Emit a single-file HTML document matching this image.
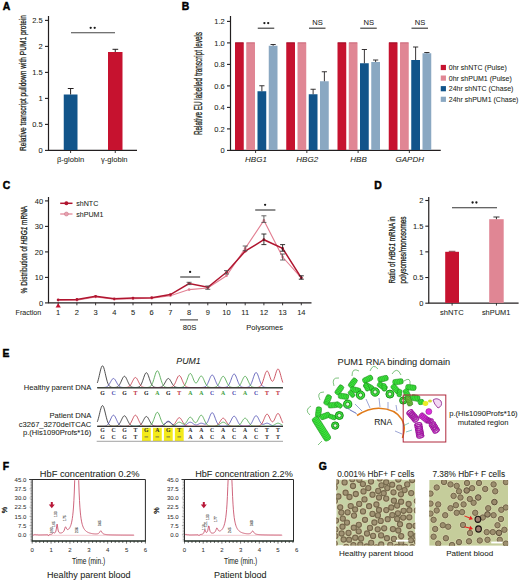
<!DOCTYPE html>
<html><head><meta charset="utf-8"><style>
html,body{margin:0;padding:0;background:#fff;}
</style></head><body>
<svg width="520" height="580" viewBox="0 0 520 580" style="display:block;font-family:'Liberation Sans', sans-serif">
<rect width="520" height="580" fill="#fff"/>
<text x="2.7" y="9.7" font-size="10.4" font-weight="bold" fill="#000" stroke="#000" stroke-width="0.45">A</text>
<line x1="48.50" y1="16.00" x2="48.50" y2="150.60" stroke="#231f20" stroke-width="1.2" />
<line x1="48.00" y1="150.30" x2="137.00" y2="150.30" stroke="#231f20" stroke-width="1.2" />
<line x1="45.00" y1="150.40" x2="48.50" y2="150.40" stroke="#231f20" stroke-width="1.1" />
<text x="42.60" y="153.00" font-size="7.5" text-anchor="end" fill="#231f20" stroke="#231f20" stroke-width="0.06" >0</text>
<line x1="45.00" y1="124.40" x2="48.50" y2="124.40" stroke="#231f20" stroke-width="1.1" />
<text x="42.60" y="127.00" font-size="7.5" text-anchor="end" fill="#231f20" stroke="#231f20" stroke-width="0.06" >0.5</text>
<line x1="45.00" y1="98.40" x2="48.50" y2="98.40" stroke="#231f20" stroke-width="1.1" />
<text x="42.60" y="101.00" font-size="7.5" text-anchor="end" fill="#231f20" stroke="#231f20" stroke-width="0.06" >1</text>
<line x1="45.00" y1="72.40" x2="48.50" y2="72.40" stroke="#231f20" stroke-width="1.1" />
<text x="42.60" y="75.00" font-size="7.5" text-anchor="end" fill="#231f20" stroke="#231f20" stroke-width="0.06" >1.5</text>
<line x1="45.00" y1="46.40" x2="48.50" y2="46.40" stroke="#231f20" stroke-width="1.1" />
<text x="42.60" y="49.00" font-size="7.5" text-anchor="end" fill="#231f20" stroke="#231f20" stroke-width="0.06" >2</text>
<line x1="45.00" y1="20.40" x2="48.50" y2="20.40" stroke="#231f20" stroke-width="1.1" />
<text x="42.60" y="23.00" font-size="7.5" text-anchor="end" fill="#231f20" stroke="#231f20" stroke-width="0.06" >2.5</text>
<rect x="63.75" y="94.50" width="13.75" height="55.50" fill="#11548a" />
<rect x="108.00" y="52.00" width="14.50" height="98.00" fill="#c6122f" />
<line x1="70.60" y1="94.50" x2="70.60" y2="88.50" stroke="#231f20" stroke-width="1" />
<line x1="67.80" y1="88.50" x2="73.60" y2="88.50" stroke="#231f20" stroke-width="1" />
<line x1="115.25" y1="52.00" x2="115.25" y2="49.30" stroke="#231f20" stroke-width="1" />
<line x1="112.50" y1="49.30" x2="118.20" y2="49.30" stroke="#231f20" stroke-width="1" />
<line x1="70.60" y1="150.50" x2="70.60" y2="153.00" stroke="#231f20" stroke-width="0.9" />
<line x1="115.25" y1="150.50" x2="115.25" y2="153.00" stroke="#231f20" stroke-width="0.9" />
<text x="70.55" y="161.60" font-size="7.6" text-anchor="middle" fill="#231f20" stroke="#231f20" stroke-width="0.06" >&#946;-globin</text>
<text x="114.25" y="161.60" font-size="7.6" text-anchor="middle" fill="#231f20" stroke="#231f20" stroke-width="0.06" >&#947;-globin</text>
<line x1="71.00" y1="32.75" x2="115.00" y2="32.75" stroke="#444" stroke-width="1.1" />
<circle cx="90.7" cy="27.8" r="1.15" fill="#1a1a1a"/>
<circle cx="94.7" cy="27.8" r="1.15" fill="#1a1a1a"/>
<text transform="translate(25.62,83.00) rotate(-90)" x="0" y="0" font-size="9.5" text-anchor="middle" fill="#231f20" stroke="#231f20" stroke-width="0.3" textLength="136" lengthAdjust="spacingAndGlyphs">Relative transcript pulldown with PUM1 protein</text>
<text x="181.7" y="9.6" font-size="10.4" font-weight="bold" fill="#000" stroke="#000" stroke-width="0.45">B</text>
<line x1="230.50" y1="16.00" x2="230.50" y2="150.60" stroke="#231f20" stroke-width="1.2" />
<line x1="230.00" y1="150.30" x2="440.75" y2="150.30" stroke="#231f20" stroke-width="1.2" />
<line x1="227.00" y1="150.40" x2="230.50" y2="150.40" stroke="#231f20" stroke-width="1.1" />
<text x="224.70" y="153.00" font-size="7.5" text-anchor="end" fill="#231f20" stroke="#231f20" stroke-width="0.06" >0</text>
<line x1="227.00" y1="128.90" x2="230.50" y2="128.90" stroke="#231f20" stroke-width="1.1" />
<text x="224.70" y="131.50" font-size="7.5" text-anchor="end" fill="#231f20" stroke="#231f20" stroke-width="0.06" >0.2</text>
<line x1="227.00" y1="107.40" x2="230.50" y2="107.40" stroke="#231f20" stroke-width="1.1" />
<text x="224.70" y="110.00" font-size="7.5" text-anchor="end" fill="#231f20" stroke="#231f20" stroke-width="0.06" >0.4</text>
<line x1="227.00" y1="85.90" x2="230.50" y2="85.90" stroke="#231f20" stroke-width="1.1" />
<text x="224.70" y="88.50" font-size="7.5" text-anchor="end" fill="#231f20" stroke="#231f20" stroke-width="0.06" >0.6</text>
<line x1="227.00" y1="64.40" x2="230.50" y2="64.40" stroke="#231f20" stroke-width="1.1" />
<text x="224.70" y="67.00" font-size="7.5" text-anchor="end" fill="#231f20" stroke="#231f20" stroke-width="0.06" >0.8</text>
<line x1="227.00" y1="42.90" x2="230.50" y2="42.90" stroke="#231f20" stroke-width="1.1" />
<text x="224.70" y="45.50" font-size="7.5" text-anchor="end" fill="#231f20" stroke="#231f20" stroke-width="0.06" >1.0</text>
<line x1="227.00" y1="21.40" x2="230.50" y2="21.40" stroke="#231f20" stroke-width="1.1" />
<text x="224.70" y="24.00" font-size="7.5" text-anchor="end" fill="#231f20" stroke="#231f20" stroke-width="0.06" >1.2</text>
<rect x="235.00" y="42.50" width="8.75" height="107.50" fill="#c6122f" />
<line x1="235.30" y1="42.90" x2="243.45" y2="42.90" stroke="#9a0e28" stroke-width="0.9" />
<rect x="246.25" y="42.50" width="8.75" height="107.50" fill="#e08694" />
<line x1="246.55" y1="42.90" x2="254.70" y2="42.90" stroke="#c86a7a" stroke-width="0.9" />
<rect x="257.50" y="91.25" width="8.75" height="58.75" fill="#11548a" />
<line x1="261.88" y1="91.25" x2="261.88" y2="85.75" stroke="#231f20" stroke-width="0.9" />
<line x1="259.27" y1="85.75" x2="264.48" y2="85.75" stroke="#231f20" stroke-width="0.9" />
<rect x="268.75" y="45.75" width="8.75" height="104.25" fill="#8aa8c2" />
<line x1="273.12" y1="45.75" x2="273.12" y2="44.50" stroke="#231f20" stroke-width="0.9" />
<line x1="270.52" y1="44.50" x2="275.73" y2="44.50" stroke="#231f20" stroke-width="0.9" />
<line x1="255.60" y1="150.50" x2="255.60" y2="153.00" stroke="#231f20" stroke-width="0.9" />
<text x="256.00" y="161.80" font-size="8.0" text-anchor="middle" fill="#231f20" stroke="#231f20" stroke-width="0.06" font-style="italic" >HBG1</text>
<line x1="257.75" y1="28.20" x2="274.25" y2="28.20" stroke="#333" stroke-width="1.1" />
<circle cx="264.4" cy="23.1" r="1.15" fill="#1a1a1a"/>
<circle cx="268.2" cy="23.1" r="1.15" fill="#1a1a1a"/>
<rect x="286.25" y="42.50" width="8.75" height="107.50" fill="#c6122f" />
<line x1="286.55" y1="42.90" x2="294.70" y2="42.90" stroke="#9a0e28" stroke-width="0.9" />
<rect x="297.50" y="42.50" width="8.75" height="107.50" fill="#e08694" />
<line x1="297.80" y1="42.90" x2="305.95" y2="42.90" stroke="#c86a7a" stroke-width="0.9" />
<rect x="308.75" y="94.25" width="8.75" height="55.75" fill="#11548a" />
<line x1="313.12" y1="94.25" x2="313.12" y2="89.25" stroke="#231f20" stroke-width="0.9" />
<line x1="310.52" y1="89.25" x2="315.73" y2="89.25" stroke="#231f20" stroke-width="0.9" />
<rect x="320.00" y="81.25" width="8.75" height="68.75" fill="#8aa8c2" />
<line x1="324.38" y1="81.25" x2="324.38" y2="71.75" stroke="#231f20" stroke-width="0.9" />
<line x1="321.77" y1="71.75" x2="326.98" y2="71.75" stroke="#231f20" stroke-width="0.9" />
<line x1="306.85" y1="150.50" x2="306.85" y2="153.00" stroke="#231f20" stroke-width="0.9" />
<text x="307.25" y="161.80" font-size="8.0" text-anchor="middle" fill="#231f20" stroke="#231f20" stroke-width="0.06" font-style="italic" >HBG2</text>
<line x1="309.00" y1="28.20" x2="325.50" y2="28.20" stroke="#333" stroke-width="1.1" />
<text x="317.45" y="24.90" font-size="8.0" text-anchor="middle" fill="#222" stroke="#222" stroke-width="0.06" textLength="10.5" lengthAdjust="spacingAndGlyphs" >NS</text>
<rect x="337.50" y="42.50" width="8.75" height="107.50" fill="#c6122f" />
<line x1="337.80" y1="42.90" x2="345.95" y2="42.90" stroke="#9a0e28" stroke-width="0.9" />
<rect x="348.75" y="42.50" width="8.75" height="107.50" fill="#e08694" />
<line x1="349.05" y1="42.90" x2="357.20" y2="42.90" stroke="#c86a7a" stroke-width="0.9" />
<rect x="360.00" y="63.25" width="8.75" height="86.75" fill="#11548a" />
<line x1="364.38" y1="63.25" x2="364.38" y2="49.50" stroke="#231f20" stroke-width="0.9" />
<line x1="361.77" y1="49.50" x2="366.98" y2="49.50" stroke="#231f20" stroke-width="0.9" />
<rect x="371.25" y="62.00" width="8.75" height="88.00" fill="#8aa8c2" />
<line x1="375.62" y1="62.00" x2="375.62" y2="60.00" stroke="#231f20" stroke-width="0.9" />
<line x1="373.02" y1="60.00" x2="378.23" y2="60.00" stroke="#231f20" stroke-width="0.9" />
<line x1="358.10" y1="150.50" x2="358.10" y2="153.00" stroke="#231f20" stroke-width="0.9" />
<text x="358.50" y="161.80" font-size="8.0" text-anchor="middle" fill="#231f20" stroke="#231f20" stroke-width="0.06" font-style="italic" >HBB</text>
<line x1="360.25" y1="28.20" x2="376.75" y2="28.20" stroke="#333" stroke-width="1.1" />
<text x="368.70" y="24.90" font-size="8.0" text-anchor="middle" fill="#222" stroke="#222" stroke-width="0.06" textLength="10.5" lengthAdjust="spacingAndGlyphs" >NS</text>
<rect x="388.75" y="42.50" width="8.75" height="107.50" fill="#c6122f" />
<line x1="389.05" y1="42.90" x2="397.20" y2="42.90" stroke="#9a0e28" stroke-width="0.9" />
<rect x="400.00" y="42.50" width="8.75" height="107.50" fill="#e08694" />
<line x1="400.30" y1="42.90" x2="408.45" y2="42.90" stroke="#c86a7a" stroke-width="0.9" />
<rect x="411.25" y="60.00" width="8.75" height="90.00" fill="#11548a" />
<line x1="415.62" y1="60.00" x2="415.62" y2="47.00" stroke="#231f20" stroke-width="0.9" />
<line x1="413.02" y1="47.00" x2="418.23" y2="47.00" stroke="#231f20" stroke-width="0.9" />
<rect x="422.50" y="53.25" width="8.75" height="96.75" fill="#8aa8c2" />
<line x1="426.88" y1="53.25" x2="426.88" y2="52.50" stroke="#231f20" stroke-width="0.9" />
<line x1="424.27" y1="52.50" x2="429.48" y2="52.50" stroke="#231f20" stroke-width="0.9" />
<line x1="409.35" y1="150.50" x2="409.35" y2="153.00" stroke="#231f20" stroke-width="0.9" />
<text x="409.75" y="161.80" font-size="8.0" text-anchor="middle" fill="#231f20" stroke="#231f20" stroke-width="0.06" font-style="italic" >GAPDH</text>
<line x1="411.50" y1="28.20" x2="428.00" y2="28.20" stroke="#333" stroke-width="1.1" />
<text x="419.95" y="24.90" font-size="8.0" text-anchor="middle" fill="#222" stroke="#222" stroke-width="0.06" textLength="10.5" lengthAdjust="spacingAndGlyphs" >NS</text>
<text transform="translate(202.00,83.50) rotate(-90)" x="0" y="0" font-size="10" text-anchor="middle" fill="#231f20" stroke="#231f20" stroke-width="0.3" textLength="103" lengthAdjust="spacingAndGlyphs">Relative EU labelled transcript levels</text>
<rect x="440.75" y="64.90" width="5.20" height="5.20" fill="#c6122f" />
<text x="448.80" y="70.00" font-size="7" text-anchor="start" fill="#231f20" stroke="#231f20" stroke-width="0.06" >0hr shNTC (Pulse)</text>
<rect x="440.75" y="75.50" width="5.20" height="5.20" fill="#e08694" />
<text x="448.80" y="80.60" font-size="7" text-anchor="start" fill="#231f20" stroke="#231f20" stroke-width="0.06" >0hr shPUM1 (Pulse)</text>
<rect x="440.75" y="86.10" width="5.20" height="5.20" fill="#11548a" />
<text x="448.80" y="91.20" font-size="7" text-anchor="start" fill="#231f20" stroke="#231f20" stroke-width="0.06" >24hr shNTC (Chase)</text>
<rect x="440.75" y="96.70" width="5.20" height="5.20" fill="#8aa8c2" />
<text x="448.80" y="101.80" font-size="7" text-anchor="start" fill="#231f20" stroke="#231f20" stroke-width="0.06" >24hr shPUM1 (Chase)</text>
<text x="2.7" y="189.0" font-size="10.4" font-weight="bold" fill="#000" stroke="#000" stroke-width="0.45">C</text>
<line x1="48.50" y1="197.00" x2="48.50" y2="303.00" stroke="#231f20" stroke-width="1.2" />
<line x1="48.00" y1="302.80" x2="311.50" y2="302.80" stroke="#231f20" stroke-width="1.2" />
<line x1="45.00" y1="302.90" x2="48.50" y2="302.90" stroke="#231f20" stroke-width="1.1" />
<text x="43.20" y="305.60" font-size="7.5" text-anchor="end" fill="#231f20" stroke="#231f20" stroke-width="0.06" >0</text>
<line x1="45.00" y1="277.40" x2="48.50" y2="277.40" stroke="#231f20" stroke-width="1.1" />
<text x="43.20" y="280.10" font-size="7.5" text-anchor="end" fill="#231f20" stroke="#231f20" stroke-width="0.06" >10</text>
<line x1="45.00" y1="251.90" x2="48.50" y2="251.90" stroke="#231f20" stroke-width="1.1" />
<text x="43.20" y="254.60" font-size="7.5" text-anchor="end" fill="#231f20" stroke="#231f20" stroke-width="0.06" >20</text>
<line x1="45.00" y1="226.40" x2="48.50" y2="226.40" stroke="#231f20" stroke-width="1.1" />
<text x="43.20" y="229.10" font-size="7.5" text-anchor="end" fill="#231f20" stroke="#231f20" stroke-width="0.06" >30</text>
<line x1="45.00" y1="200.90" x2="48.50" y2="200.90" stroke="#231f20" stroke-width="1.1" />
<text x="43.20" y="203.60" font-size="7.5" text-anchor="end" fill="#231f20" stroke="#231f20" stroke-width="0.06" >40</text>
<line x1="58.20" y1="302.80" x2="58.20" y2="305.30" stroke="#231f20" stroke-width="0.9" />
<text x="58.20" y="314.80" font-size="7.5" text-anchor="middle" fill="#231f20" stroke="#231f20" stroke-width="0.06" >1</text>
<line x1="76.90" y1="302.80" x2="76.90" y2="305.30" stroke="#231f20" stroke-width="0.9" />
<text x="76.90" y="314.80" font-size="7.5" text-anchor="middle" fill="#231f20" stroke="#231f20" stroke-width="0.06" >2</text>
<line x1="95.60" y1="302.80" x2="95.60" y2="305.30" stroke="#231f20" stroke-width="0.9" />
<text x="95.60" y="314.80" font-size="7.5" text-anchor="middle" fill="#231f20" stroke="#231f20" stroke-width="0.06" >3</text>
<line x1="114.30" y1="302.80" x2="114.30" y2="305.30" stroke="#231f20" stroke-width="0.9" />
<text x="114.30" y="314.80" font-size="7.5" text-anchor="middle" fill="#231f20" stroke="#231f20" stroke-width="0.06" >4</text>
<line x1="133.00" y1="302.80" x2="133.00" y2="305.30" stroke="#231f20" stroke-width="0.9" />
<text x="133.00" y="314.80" font-size="7.5" text-anchor="middle" fill="#231f20" stroke="#231f20" stroke-width="0.06" >5</text>
<line x1="151.70" y1="302.80" x2="151.70" y2="305.30" stroke="#231f20" stroke-width="0.9" />
<text x="151.70" y="314.80" font-size="7.5" text-anchor="middle" fill="#231f20" stroke="#231f20" stroke-width="0.06" >6</text>
<line x1="170.40" y1="302.80" x2="170.40" y2="305.30" stroke="#231f20" stroke-width="0.9" />
<text x="170.40" y="314.80" font-size="7.5" text-anchor="middle" fill="#231f20" stroke="#231f20" stroke-width="0.06" >7</text>
<line x1="189.10" y1="302.80" x2="189.10" y2="305.30" stroke="#231f20" stroke-width="0.9" />
<text x="189.10" y="314.80" font-size="7.5" text-anchor="middle" fill="#231f20" stroke="#231f20" stroke-width="0.06" >8</text>
<line x1="207.80" y1="302.80" x2="207.80" y2="305.30" stroke="#231f20" stroke-width="0.9" />
<text x="207.80" y="314.80" font-size="7.5" text-anchor="middle" fill="#231f20" stroke="#231f20" stroke-width="0.06" >9</text>
<line x1="226.50" y1="302.80" x2="226.50" y2="305.30" stroke="#231f20" stroke-width="0.9" />
<text x="226.50" y="314.80" font-size="7.5" text-anchor="middle" fill="#231f20" stroke="#231f20" stroke-width="0.06" >10</text>
<line x1="245.20" y1="302.80" x2="245.20" y2="305.30" stroke="#231f20" stroke-width="0.9" />
<text x="245.20" y="314.80" font-size="7.5" text-anchor="middle" fill="#231f20" stroke="#231f20" stroke-width="0.06" >11</text>
<line x1="263.90" y1="302.80" x2="263.90" y2="305.30" stroke="#231f20" stroke-width="0.9" />
<text x="263.90" y="314.80" font-size="7.5" text-anchor="middle" fill="#231f20" stroke="#231f20" stroke-width="0.06" >12</text>
<line x1="282.60" y1="302.80" x2="282.60" y2="305.30" stroke="#231f20" stroke-width="0.9" />
<text x="282.60" y="314.80" font-size="7.5" text-anchor="middle" fill="#231f20" stroke="#231f20" stroke-width="0.06" >13</text>
<line x1="301.30" y1="302.80" x2="301.30" y2="305.30" stroke="#231f20" stroke-width="0.9" />
<text x="301.30" y="314.80" font-size="7.5" text-anchor="middle" fill="#231f20" stroke="#231f20" stroke-width="0.06" >14</text>
<text x="15.60" y="314.80" font-size="7.1" text-anchor="start" fill="#231f20" stroke="#231f20" stroke-width="0.06" >Fraction</text>
<polyline points="58.20,300.20 76.90,300.30 95.60,296.90 114.30,299.20 133.00,298.70 151.70,298.20 170.40,295.80 189.10,289.60 207.80,288.00 226.50,275.80 245.20,248.40 263.90,220.40 282.60,257.00 301.30,277.80" fill="none" stroke="#e27f92" stroke-width="1.1"/>
<polyline points="58.20,299.80 76.90,299.50 95.60,296.30 114.30,298.80 133.00,298.10 151.70,297.70 170.40,294.60 189.10,283.50 207.80,287.30 226.50,272.30 245.20,251.20 263.90,239.70 282.60,248.40 301.30,277.80" fill="none" stroke="#b0152f" stroke-width="1.5"/>
<circle cx="58.20" cy="300.20" r="1.3" fill="#e27f92"/>
<circle cx="76.90" cy="300.30" r="1.3" fill="#e27f92"/>
<circle cx="95.60" cy="296.90" r="1.3" fill="#e27f92"/>
<circle cx="114.30" cy="299.20" r="1.3" fill="#e27f92"/>
<circle cx="133.00" cy="298.70" r="1.3" fill="#e27f92"/>
<circle cx="151.70" cy="298.20" r="1.3" fill="#e27f92"/>
<circle cx="170.40" cy="295.80" r="1.3" fill="#e27f92"/>
<circle cx="189.10" cy="289.60" r="1.3" fill="#e27f92"/>
<circle cx="207.80" cy="288.00" r="1.3" fill="#e27f92"/>
<circle cx="226.50" cy="275.80" r="1.3" fill="#e27f92"/>
<circle cx="245.20" cy="248.40" r="1.3" fill="#e27f92"/>
<circle cx="263.90" cy="220.40" r="1.3" fill="#e27f92"/>
<circle cx="282.60" cy="257.00" r="1.3" fill="#e27f92"/>
<circle cx="301.30" cy="277.80" r="1.3" fill="#e27f92"/>
<circle cx="58.20" cy="299.80" r="1.4" fill="#b0152f"/>
<circle cx="76.90" cy="299.50" r="1.4" fill="#b0152f"/>
<circle cx="95.60" cy="296.30" r="1.4" fill="#b0152f"/>
<circle cx="114.30" cy="298.80" r="1.4" fill="#b0152f"/>
<circle cx="133.00" cy="298.10" r="1.4" fill="#b0152f"/>
<circle cx="151.70" cy="297.70" r="1.4" fill="#b0152f"/>
<circle cx="170.40" cy="294.60" r="1.4" fill="#b0152f"/>
<circle cx="189.10" cy="283.50" r="1.4" fill="#b0152f"/>
<circle cx="207.80" cy="287.30" r="1.4" fill="#b0152f"/>
<circle cx="226.50" cy="272.30" r="1.4" fill="#b0152f"/>
<circle cx="245.20" cy="251.20" r="1.4" fill="#b0152f"/>
<circle cx="263.90" cy="239.70" r="1.4" fill="#b0152f"/>
<circle cx="282.60" cy="248.40" r="1.4" fill="#b0152f"/>
<circle cx="301.30" cy="277.80" r="1.4" fill="#b0152f"/>
<line x1="263.90" y1="234.00" x2="263.90" y2="244.60" stroke="#231f20" stroke-width="0.9" />
<line x1="261.40" y1="234.00" x2="266.40" y2="234.00" stroke="#231f20" stroke-width="0.9" />
<line x1="261.40" y1="244.60" x2="266.40" y2="244.60" stroke="#231f20" stroke-width="0.9" />
<line x1="263.90" y1="215.80" x2="263.90" y2="222.40" stroke="#555" stroke-width="0.9" />
<line x1="261.40" y1="215.80" x2="266.40" y2="215.80" stroke="#555" stroke-width="0.9" />
<line x1="261.40" y1="222.40" x2="266.40" y2="222.40" stroke="#555" stroke-width="0.9" />
<line x1="282.60" y1="244.60" x2="282.60" y2="251.20" stroke="#231f20" stroke-width="0.9" />
<line x1="280.10" y1="244.60" x2="285.10" y2="244.60" stroke="#231f20" stroke-width="0.9" />
<line x1="280.10" y1="251.20" x2="285.10" y2="251.20" stroke="#231f20" stroke-width="0.9" />
<line x1="282.60" y1="254.00" x2="282.60" y2="260.00" stroke="#555" stroke-width="0.9" />
<line x1="280.10" y1="254.00" x2="285.10" y2="254.00" stroke="#555" stroke-width="0.9" />
<line x1="280.10" y1="260.00" x2="285.10" y2="260.00" stroke="#555" stroke-width="0.9" />
<line x1="245.20" y1="246.00" x2="245.20" y2="250.70" stroke="#555" stroke-width="0.9" />
<line x1="242.70" y1="246.00" x2="247.70" y2="246.00" stroke="#555" stroke-width="0.9" />
<line x1="242.70" y1="250.70" x2="247.70" y2="250.70" stroke="#555" stroke-width="0.9" />
<line x1="301.30" y1="275.80" x2="301.30" y2="279.20" stroke="#231f20" stroke-width="0.9" />
<line x1="298.80" y1="275.80" x2="303.80" y2="275.80" stroke="#231f20" stroke-width="0.9" />
<line x1="298.80" y1="279.20" x2="303.80" y2="279.20" stroke="#231f20" stroke-width="0.9" />
<line x1="189.10" y1="282.30" x2="189.10" y2="284.60" stroke="#555" stroke-width="0.9" />
<line x1="186.60" y1="282.30" x2="191.60" y2="282.30" stroke="#555" stroke-width="0.9" />
<line x1="186.60" y1="284.60" x2="191.60" y2="284.60" stroke="#555" stroke-width="0.9" />
<line x1="207.80" y1="286.00" x2="207.80" y2="289.30" stroke="#555" stroke-width="0.9" />
<line x1="205.30" y1="286.00" x2="210.30" y2="286.00" stroke="#555" stroke-width="0.9" />
<line x1="205.30" y1="289.30" x2="210.30" y2="289.30" stroke="#555" stroke-width="0.9" />
<line x1="226.50" y1="270.60" x2="226.50" y2="274.00" stroke="#555" stroke-width="0.9" />
<line x1="224.00" y1="270.60" x2="229.00" y2="270.60" stroke="#555" stroke-width="0.9" />
<line x1="224.00" y1="274.00" x2="229.00" y2="274.00" stroke="#555" stroke-width="0.9" />
<path d="M55.60,307.6 L60.80,307.6 L58.20,303.2 Z" fill="#c6122f"/>
<line x1="180.20" y1="277.00" x2="200.10" y2="277.00" stroke="#333" stroke-width="1.1" />
<circle cx="190.1" cy="271.9" r="1.15" fill="#1a1a1a"/>
<line x1="255.20" y1="210.00" x2="275.40" y2="210.00" stroke="#333" stroke-width="1.1" />
<circle cx="265.1" cy="204.8" r="1.15" fill="#1a1a1a"/>
<line x1="180.00" y1="319.90" x2="198.00" y2="319.90" stroke="#231f20" stroke-width="0.9" />
<text x="189.60" y="330.10" font-size="7.7" text-anchor="middle" fill="#231f20" stroke="#231f20" stroke-width="0.06" >80S</text>
<text x="264.65" y="330.10" font-size="7.5" text-anchor="middle" fill="#231f20" stroke="#231f20" stroke-width="0.06" >Polysomes</text>
<line x1="60.20" y1="203.30" x2="72.50" y2="203.30" stroke="#b0152f" stroke-width="1.5" />
<circle cx="66.4" cy="203.3" r="2.0" fill="#b0152f"/>
<text x="76.20" y="206.10" font-size="7.1" text-anchor="start" fill="#231f20" stroke="#231f20" stroke-width="0.06" >shNTC</text>
<line x1="60.20" y1="214.00" x2="72.50" y2="214.00" stroke="#e27f92" stroke-width="1.2" />
<circle cx="66.4" cy="214.0" r="2.0" fill="#e8a0b0" stroke="#c07080" stroke-width="0.5"/>
<text x="76.20" y="216.60" font-size="7.1" text-anchor="start" fill="#231f20" stroke="#231f20" stroke-width="0.06" >shPUM1</text>
<text transform="translate(27.0,249.6) rotate(-90)" font-size="9" text-anchor="middle" fill="#231f20" stroke="#231f20" stroke-width="0.3" textLength="87.6" lengthAdjust="spacingAndGlyphs">% Distribution of <tspan font-style="italic">HBG1</tspan> mRNA</text>
<text x="374.3" y="188.8" font-size="10.4" font-weight="bold" fill="#000" stroke="#000" stroke-width="0.45">D</text>
<line x1="428.75" y1="197.00" x2="428.75" y2="303.20" stroke="#231f20" stroke-width="1.2" />
<line x1="428.30" y1="303.10" x2="518.60" y2="303.10" stroke="#231f20" stroke-width="1.2" />
<line x1="425.30" y1="303.20" x2="428.75" y2="303.20" stroke="#231f20" stroke-width="1.1" />
<text x="423.40" y="305.90" font-size="7.5" text-anchor="end" fill="#231f20" stroke="#231f20" stroke-width="0.06" >0</text>
<line x1="425.30" y1="277.52" x2="428.75" y2="277.52" stroke="#231f20" stroke-width="1.1" />
<text x="423.40" y="280.22" font-size="7.5" text-anchor="end" fill="#231f20" stroke="#231f20" stroke-width="0.06" >0.5</text>
<line x1="425.30" y1="251.85" x2="428.75" y2="251.85" stroke="#231f20" stroke-width="1.1" />
<text x="423.40" y="254.55" font-size="7.5" text-anchor="end" fill="#231f20" stroke="#231f20" stroke-width="0.06" >1</text>
<line x1="425.30" y1="226.17" x2="428.75" y2="226.17" stroke="#231f20" stroke-width="1.1" />
<text x="423.40" y="228.87" font-size="7.5" text-anchor="end" fill="#231f20" stroke="#231f20" stroke-width="0.06" >1.5</text>
<line x1="425.30" y1="200.50" x2="428.75" y2="200.50" stroke="#231f20" stroke-width="1.1" />
<text x="423.40" y="203.20" font-size="7.5" text-anchor="end" fill="#231f20" stroke="#231f20" stroke-width="0.06" >2</text>
<rect x="445.20" y="251.80" width="13.80" height="51.10" fill="#c6122f" />
<rect x="489.20" y="219.20" width="14.50" height="83.70" fill="#e08694" />
<line x1="448.80" y1="251.30" x2="455.40" y2="251.30" stroke="#6a0c18" stroke-width="0.8" />
<line x1="496.45" y1="219.20" x2="496.45" y2="217.00" stroke="#231f20" stroke-width="0.9" />
<line x1="493.40" y1="217.00" x2="499.50" y2="217.00" stroke="#231f20" stroke-width="0.9" />
<line x1="452.10" y1="303.20" x2="452.10" y2="305.60" stroke="#231f20" stroke-width="0.9" />
<line x1="496.45" y1="303.20" x2="496.45" y2="305.60" stroke="#231f20" stroke-width="0.9" />
<line x1="452.00" y1="207.70" x2="497.00" y2="207.70" stroke="#333" stroke-width="1.1" />
<circle cx="472.6" cy="202.5" r="1.15" fill="#1a1a1a"/>
<circle cx="476.4" cy="202.5" r="1.15" fill="#1a1a1a"/>
<text x="451.85" y="314.60" font-size="7.6" text-anchor="middle" fill="#231f20" stroke="#231f20" stroke-width="0.06" >shNTC</text>
<text x="496.15" y="314.60" font-size="7.45" text-anchor="middle" fill="#231f20" stroke="#231f20" stroke-width="0.06" >shPUM1</text>
<text transform="translate(394.7,250) rotate(-90)" font-size="8.7" text-anchor="middle" fill="#231f20" stroke="#231f20" stroke-width="0.3" textLength="67" lengthAdjust="spacingAndGlyphs">Ratio of <tspan font-style="italic">HBG1</tspan> mRNA in</text>
<text transform="translate(405.9,250) rotate(-90)" font-size="8.7" text-anchor="middle" fill="#231f20" stroke="#231f20" stroke-width="0.3" textLength="67" lengthAdjust="spacingAndGlyphs">polysomes/monosomes</text>
<text x="2.6" y="357.2" font-size="10.4" font-weight="bold" fill="#000" stroke="#000" stroke-width="0.45">E</text>
<text x="91.30" y="389.80" font-size="7.6" text-anchor="end" fill="#231f20" stroke="#231f20" stroke-width="0.06" >Healthy parent DNA</text>
<text x="91.30" y="418.20" font-size="7.6" text-anchor="end" fill="#231f20" stroke="#231f20" stroke-width="0.06" >Patient DNA</text>
<text x="91.30" y="427.00" font-size="7.6" text-anchor="end" fill="#231f20" stroke="#231f20" stroke-width="0.06" >c3267_3270delTCAC</text>
<text x="91.30" y="435.30" font-size="7.6" text-anchor="end" fill="#231f20" stroke="#231f20" stroke-width="0.06" >p.(His1090Profs*16)</text>
<text x="188.50" y="363.80" font-size="9.6" text-anchor="middle" fill="#231f20" stroke="#231f20" stroke-width="0.06" font-style="italic" textLength="24.4" lengthAdjust="spacingAndGlyphs" >PUM1</text>
<polyline points="97.3,382.91 97.8,381.40 98.3,379.62 98.8,377.62 99.3,375.45 99.8,373.23 100.3,371.07 100.8,369.12 101.3,367.52 101.8,366.40 102.3,365.85 102.8,365.91 103.3,366.58 103.8,367.81 104.3,369.49 104.8,371.49 105.3,373.67 105.8,375.89 106.3,378.03 106.8,380.00 107.3,381.72 107.8,383.18 108.3,384.36 108.8,385.28 109.3,385.98 109.8,386.48 110.3,386.84 110.8,387.09 111.3,387.25 111.8,387.35 112.3,387.41 112.8,387.45 113.3,387.46 113.8,387.47 114.3,387.46 114.8,387.44 115.3,387.41 115.8,387.35 116.3,387.25 116.8,387.11 117.3,386.90 117.8,386.61 118.3,386.22 118.8,385.70 119.3,385.05 119.8,384.25 120.3,383.32 120.8,382.27 121.3,381.14 121.8,380.00 122.3,378.89 122.8,377.90 123.3,377.11 123.8,376.56 124.3,376.31 124.8,376.38 125.3,376.77 125.8,377.43 126.3,378.32 126.8,379.37 127.3,380.50 127.8,381.65 128.3,382.74 128.8,383.74 129.3,384.62 129.8,385.35 130.3,385.94 130.8,386.40 131.3,386.75 131.8,387.00 132.3,387.18 132.8,387.30 133.3,387.38 133.8,387.43 134.3,387.45 134.8,387.47 135.3,387.47 135.8,387.47 136.3,387.45 136.8,387.42 137.3,387.37 137.8,387.28 138.3,387.15 138.8,386.95 139.3,386.67 139.8,386.27 140.3,385.73 140.8,385.03 141.3,384.14 141.8,383.07 142.3,381.81 142.8,380.41 143.3,378.92 143.8,377.40 144.3,375.96 144.8,374.68 145.3,373.66 145.8,372.98 146.3,372.71 146.8,372.85 147.3,373.40 147.8,374.32 148.3,375.52 148.8,376.93 149.3,378.43 149.8,379.94 150.3,381.38 150.8,382.68 151.3,383.82 151.8,384.76 152.3,385.52 152.8,386.11 153.3,386.56 153.8,386.87 154.3,387.10 154.8,387.25 155.3,387.35 155.8,387.41 156.3,387.45 156.8,387.47 157.3,387.48 157.8,387.48 158.3,387.47 158.8,387.45 159.3,387.42 159.8,387.36 160.3,387.28 160.8,387.15 161.3,386.97 161.8,386.72 162.3,386.38 162.8,385.94 163.3,385.38 163.8,384.72 164.3,383.94 164.8,383.08 165.3,382.17 165.8,381.25 166.3,380.38 166.8,379.62 167.3,379.02 167.8,378.64 168.3,378.50 168.8,378.62 169.3,378.98 169.8,379.56 170.3,380.32 170.8,381.18 171.3,382.10 171.8,383.01 172.3,383.88 172.8,384.66 173.3,385.34 173.8,385.90 174.3,386.35 174.8,386.69 175.3,386.95 175.8,387.14 176.3,387.27 176.8,387.36 177.3,387.41 177.8,387.45 178.3,387.47 178.8,387.48 179.3,387.49 179.8,387.50 180.3,387.50 180.8,387.50 181.3,387.50 181.8,387.50 182.3,387.50 182.8,387.50 183.3,387.50 183.8,387.50 184.3,387.50 184.8,387.50 185.3,387.50 185.8,387.50 186.3,387.50 186.8,387.50 187.3,387.50 187.8,387.50 188.3,387.50 188.8,387.50 189.3,387.50 189.8,387.50 190.3,387.50 190.8,387.50 191.3,387.50 191.8,387.50 192.3,387.50 192.8,387.50 193.3,387.50 193.8,387.50 194.3,387.50 194.8,387.50 195.3,387.50 195.8,387.50 196.3,387.50 196.8,387.50 197.3,387.50 197.8,387.50 198.3,387.50 198.8,387.50 199.3,387.50 199.8,387.50 200.3,387.50 200.8,387.50 201.3,387.50 201.8,387.50 202.3,387.50 202.8,387.50 203.3,387.50 203.8,387.50 204.3,387.50 204.8,387.50 205.3,387.50 205.8,387.50 206.3,387.50 206.8,387.50 207.3,387.50 207.8,387.50 208.3,387.50 208.8,387.50 209.3,387.50 209.8,387.50 210.3,387.50 210.8,387.50 211.3,387.50 211.8,387.50 212.3,387.50 212.8,387.50 213.3,387.50 213.8,387.50 214.3,387.50 214.8,387.50 215.3,387.50 215.8,387.50 216.3,387.50 216.8,387.50 217.3,387.50 217.8,387.50 218.3,387.50 218.8,387.50 219.3,387.50 219.8,387.50 220.3,387.50 220.8,387.50 221.3,387.50 221.8,387.50 222.3,387.50 222.8,387.50 223.3,387.50 223.8,387.50 224.3,387.50 224.8,387.50 225.3,387.50 225.8,387.50 226.3,387.50 226.8,387.50 227.3,387.50 227.8,387.50 228.3,387.50 228.8,387.50 229.3,387.50 229.8,387.50 230.3,387.50 230.8,387.50 231.3,387.50 231.8,387.50 232.3,387.50 232.8,387.50 233.3,387.50 233.8,387.50 234.3,387.50 234.8,387.50 235.3,387.50 235.8,387.50 236.3,387.50 236.8,387.50 237.3,387.50 237.8,387.50 238.3,387.50 238.8,387.50 239.3,387.50 239.8,387.50 240.3,387.50 240.8,387.50 241.3,387.50 241.8,387.50 242.3,387.50 242.8,387.50 243.3,387.50 243.8,387.50 244.3,387.50 244.8,387.50 245.3,387.50 245.8,387.50 246.3,387.50 246.8,387.50 247.3,387.50 247.8,387.50 248.3,387.50 248.8,387.50 249.3,387.50 249.8,387.50 250.3,387.50 250.8,387.50 251.3,387.50 251.8,387.50 252.3,387.50 252.8,387.50 253.3,387.50 253.8,387.50 254.3,387.50 254.8,387.50 255.3,387.50 255.8,387.50 256.3,387.50 256.8,387.50 257.3,387.50 257.8,387.50 258.3,387.50 258.8,387.50 259.3,387.50 259.8,387.50 260.3,387.50 260.8,387.50 261.3,387.50 261.8,387.50 262.3,387.50 262.8,387.50 263.3,387.50 263.8,387.50 264.3,387.50 264.8,387.50 265.3,387.50 265.8,387.50 266.3,387.50 266.8,387.50 267.3,387.50 267.8,387.50 268.3,387.50 268.8,387.50 269.3,387.50 269.8,387.50 270.3,387.50 270.8,387.50 271.3,387.50 271.8,387.50 272.3,387.50 272.8,387.50 273.3,387.50 273.8,387.50 274.3,387.50 274.8,387.50 275.3,387.50 275.8,387.50 276.3,387.50 276.8,387.50 277.3,387.50 277.8,387.50 278.3,387.50 278.8,387.50 279.3,387.50 279.8,387.50 280.3,387.50 280.8,387.50 281.3,387.50 281.8,387.50 282.3,387.50 282.8,387.50" fill="none" stroke="#222" stroke-width="0.8"/>
<polyline points="97.3,387.50 97.8,387.50 98.3,387.50 98.8,387.50 99.3,387.50 99.8,387.50 100.3,387.50 100.8,387.50 101.3,387.50 101.8,387.50 102.3,387.49 102.8,387.49 103.3,387.48 103.8,387.46 104.3,387.43 104.8,387.38 105.3,387.31 105.8,387.19 106.3,387.03 106.8,386.80 107.3,386.49 107.8,386.08 108.3,385.56 108.8,384.93 109.3,384.19 109.8,383.35 110.3,382.45 110.8,381.52 111.3,380.63 111.8,379.83 112.3,379.18 112.8,378.73 113.3,378.51 113.8,378.56 114.3,378.85 114.8,379.37 115.3,380.08 115.8,380.91 116.3,381.82 116.8,382.74 117.3,383.63 117.8,384.44 118.3,385.14 118.8,385.74 119.3,386.22 119.8,386.60 120.3,386.88 120.8,387.09 121.3,387.23 121.8,387.33 122.3,387.40 122.8,387.44 123.3,387.47 123.8,387.48 124.3,387.49 124.8,387.49 125.3,387.50 125.8,387.50 126.3,387.50 126.8,387.50 127.3,387.50 127.8,387.50 128.3,387.50 128.8,387.50 129.3,387.50 129.8,387.50 130.3,387.50 130.8,387.50 131.3,387.50 131.8,387.50 132.3,387.50 132.8,387.50 133.3,387.50 133.8,387.50 134.3,387.50 134.8,387.50 135.3,387.50 135.8,387.50 136.3,387.50 136.8,387.50 137.3,387.50 137.8,387.50 138.3,387.50 138.8,387.50 139.3,387.50 139.8,387.50 140.3,387.50 140.8,387.50 141.3,387.50 141.8,387.50 142.3,387.50 142.8,387.50 143.3,387.50 143.8,387.50 144.3,387.50 144.8,387.50 145.3,387.50 145.8,387.50 146.3,387.50 146.8,387.50 147.3,387.50 147.8,387.50 148.3,387.50 148.8,387.50 149.3,387.50 149.8,387.50 150.3,387.50 150.8,387.50 151.3,387.50 151.8,387.50 152.3,387.50 152.8,387.50 153.3,387.50 153.8,387.50 154.3,387.50 154.8,387.50 155.3,387.50 155.8,387.50 156.3,387.50 156.8,387.50 157.3,387.50 157.8,387.50 158.3,387.50 158.8,387.50 159.3,387.50 159.8,387.50 160.3,387.50 160.8,387.50 161.3,387.50 161.8,387.50 162.3,387.50 162.8,387.50 163.3,387.50 163.8,387.50 164.3,387.50 164.8,387.50 165.3,387.50 165.8,387.50 166.3,387.50 166.8,387.50 167.3,387.50 167.8,387.50 168.3,387.50 168.8,387.50 169.3,387.50 169.8,387.50 170.3,387.50 170.8,387.50 171.3,387.50 171.8,387.50 172.3,387.50 172.8,387.50 173.3,387.50 173.8,387.50 174.3,387.50 174.8,387.50 175.3,387.50 175.8,387.50 176.3,387.50 176.8,387.50 177.3,387.50 177.8,387.50 178.3,387.50 178.8,387.50 179.3,387.50 179.8,387.50 180.3,387.50 180.8,387.50 181.3,387.50 181.8,387.50 182.3,387.50 182.8,387.50 183.3,387.50 183.8,387.50 184.3,387.50 184.8,387.50 185.3,387.50 185.8,387.50 186.3,387.50 186.8,387.50 187.3,387.50 187.8,387.50 188.3,387.50 188.8,387.50 189.3,387.50 189.8,387.50 190.3,387.50 190.8,387.50 191.3,387.50 191.8,387.50 192.3,387.50 192.8,387.50 193.3,387.50 193.8,387.50 194.3,387.50 194.8,387.50 195.3,387.50 195.8,387.50 196.3,387.50 196.8,387.50 197.3,387.50 197.8,387.50 198.3,387.50 198.8,387.50 199.3,387.50 199.8,387.50 200.3,387.50 200.8,387.49 201.3,387.49 201.8,387.47 202.3,387.46 202.8,387.42 203.3,387.37 203.8,387.28 204.3,387.15 204.8,386.96 205.3,386.69 205.8,386.31 206.3,385.81 206.8,385.16 207.3,384.35 207.8,383.39 208.3,382.28 208.8,381.07 209.3,379.79 209.8,378.52 210.3,377.34 210.8,376.33 211.3,375.57 211.8,375.11 212.3,375.01 212.8,375.26 213.3,375.84 213.8,376.71 214.3,377.80 214.8,379.02 215.3,380.30 215.8,381.56 216.3,382.74 216.8,383.79 217.3,384.70 217.8,385.44 218.3,386.03 218.8,386.48 219.3,386.81 219.8,387.05 220.3,387.21 220.8,387.32 221.3,387.39 221.8,387.44 222.3,387.46 222.8,387.47 223.3,387.47 223.8,387.47 224.3,387.45 224.8,387.41 225.3,387.35 225.8,387.25 226.3,387.10 226.8,386.89 227.3,386.58 227.8,386.16 228.3,385.60 228.8,384.88 229.3,383.99 229.8,382.93 230.3,381.71 230.8,380.39 231.3,379.01 231.8,377.64 232.3,376.39 232.8,375.32 233.3,374.54 233.8,374.09 234.3,374.02 234.8,374.33 235.3,375.00 235.8,375.98 236.3,377.17 236.8,378.51 237.3,379.89 237.8,381.25 238.3,382.51 238.8,383.62 239.3,384.58 239.8,385.36 240.3,385.97 240.8,386.44 241.3,386.79 241.8,387.04 242.3,387.21 242.8,387.32 243.3,387.39 243.8,387.43 244.3,387.46 244.8,387.47 245.3,387.47 245.8,387.46 246.3,387.44 246.8,387.39 247.3,387.32 247.8,387.21 248.3,387.04 248.8,386.79 249.3,386.43 249.8,385.94 250.3,385.30 250.8,384.48 251.3,383.46 251.8,382.26 252.3,380.90 252.8,379.42 253.3,377.88 253.8,376.37 254.3,375.00 254.8,373.85 255.3,373.02 255.8,372.57 256.3,372.54 256.8,372.94 257.3,373.73 257.8,374.84 258.3,376.20 258.8,377.69 259.3,379.23 259.8,380.73 260.3,382.11 260.8,383.33 261.3,384.37 261.8,385.21 262.3,385.88 262.8,386.38 263.3,386.75 263.8,387.01 264.3,387.19 264.8,387.31 265.3,387.39 265.8,387.43 266.3,387.46 266.8,387.48 267.3,387.49 267.8,387.49 268.3,387.50 268.8,387.50 269.3,387.50 269.8,387.50 270.3,387.50 270.8,387.50 271.3,387.50 271.8,387.50 272.3,387.50 272.8,387.50 273.3,387.50 273.8,387.50 274.3,387.50 274.8,387.50 275.3,387.50 275.8,387.50 276.3,387.50 276.8,387.50 277.3,387.50 277.8,387.50 278.3,387.50 278.8,387.50 279.3,387.50 279.8,387.50 280.3,387.50 280.8,387.50 281.3,387.50 281.8,387.50 282.3,387.50 282.8,387.50" fill="none" stroke="#4a4ab0" stroke-width="0.8"/>
<polyline points="97.3,387.50 97.8,387.50 98.3,387.50 98.8,387.50 99.3,387.50 99.8,387.50 100.3,387.50 100.8,387.50 101.3,387.50 101.8,387.50 102.3,387.50 102.8,387.50 103.3,387.50 103.8,387.50 104.3,387.50 104.8,387.50 105.3,387.50 105.8,387.50 106.3,387.50 106.8,387.50 107.3,387.50 107.8,387.50 108.3,387.50 108.8,387.50 109.3,387.50 109.8,387.50 110.3,387.50 110.8,387.50 111.3,387.50 111.8,387.50 112.3,387.50 112.8,387.50 113.3,387.50 113.8,387.50 114.3,387.50 114.8,387.50 115.3,387.50 115.8,387.50 116.3,387.50 116.8,387.50 117.3,387.50 117.8,387.50 118.3,387.50 118.8,387.50 119.3,387.50 119.8,387.50 120.3,387.50 120.8,387.50 121.3,387.50 121.8,387.50 122.3,387.50 122.8,387.50 123.3,387.50 123.8,387.50 124.3,387.49 124.8,387.48 125.3,387.47 125.8,387.45 126.3,387.42 126.8,387.36 127.3,387.27 127.8,387.14 128.3,386.95 128.8,386.69 129.3,386.33 129.8,385.86 130.3,385.27 130.8,384.55 131.3,383.71 131.8,382.77 132.3,381.76 132.8,380.74 133.3,379.76 133.8,378.88 134.3,378.18 134.8,377.71 135.3,377.51 135.8,377.59 136.3,377.94 136.8,378.55 137.3,379.36 137.8,380.30 138.3,381.31 138.8,382.33 139.3,383.31 139.8,384.20 140.3,384.97 140.8,385.62 141.3,386.14 141.8,386.54 142.3,386.85 142.8,387.07 143.3,387.22 143.8,387.32 144.3,387.39 144.8,387.44 145.3,387.46 145.8,387.48 146.3,387.49 146.8,387.49 147.3,387.50 147.8,387.50 148.3,387.50 148.8,387.50 149.3,387.50 149.8,387.50 150.3,387.50 150.8,387.50 151.3,387.50 151.8,387.50 152.3,387.50 152.8,387.50 153.3,387.50 153.8,387.50 154.3,387.50 154.8,387.50 155.3,387.50 155.8,387.50 156.3,387.50 156.8,387.50 157.3,387.50 157.8,387.50 158.3,387.50 158.8,387.50 159.3,387.50 159.8,387.50 160.3,387.50 160.8,387.50 161.3,387.50 161.8,387.50 162.3,387.50 162.8,387.50 163.3,387.50 163.8,387.50 164.3,387.50 164.8,387.50 165.3,387.50 165.8,387.50 166.3,387.50 166.8,387.50 167.3,387.50 167.8,387.49 168.3,387.49 168.8,387.48 169.3,387.46 169.8,387.43 170.3,387.39 170.8,387.31 171.3,387.20 171.8,387.03 172.3,386.78 172.8,386.44 173.3,385.99 173.8,385.39 174.3,384.65 174.8,383.76 175.3,382.73 175.8,381.59 176.3,380.38 176.8,379.17 177.3,378.02 177.8,377.03 178.3,376.25 178.8,375.76 179.3,375.60 179.8,375.78 180.3,376.28 180.8,377.06 181.3,378.07 181.8,379.21 182.3,380.43 182.8,381.64 183.3,382.78 183.8,383.80 184.3,384.69 184.8,385.42 185.3,386.01 185.8,386.46 186.3,386.79 186.8,387.03 187.3,387.20 187.8,387.31 188.3,387.39 188.8,387.43 189.3,387.46 189.8,387.48 190.3,387.49 190.8,387.49 191.3,387.50 191.8,387.50 192.3,387.50 192.8,387.50 193.3,387.50 193.8,387.50 194.3,387.50 194.8,387.50 195.3,387.50 195.8,387.50 196.3,387.50 196.8,387.50 197.3,387.50 197.8,387.50 198.3,387.50 198.8,387.50 199.3,387.50 199.8,387.50 200.3,387.50 200.8,387.50 201.3,387.50 201.8,387.50 202.3,387.50 202.8,387.50 203.3,387.50 203.8,387.50 204.3,387.50 204.8,387.50 205.3,387.50 205.8,387.50 206.3,387.50 206.8,387.50 207.3,387.50 207.8,387.50 208.3,387.50 208.8,387.50 209.3,387.50 209.8,387.50 210.3,387.50 210.8,387.50 211.3,387.50 211.8,387.50 212.3,387.50 212.8,387.50 213.3,387.50 213.8,387.50 214.3,387.50 214.8,387.50 215.3,387.50 215.8,387.50 216.3,387.50 216.8,387.50 217.3,387.50 217.8,387.50 218.3,387.50 218.8,387.50 219.3,387.50 219.8,387.50 220.3,387.50 220.8,387.50 221.3,387.50 221.8,387.50 222.3,387.50 222.8,387.50 223.3,387.50 223.8,387.50 224.3,387.50 224.8,387.50 225.3,387.50 225.8,387.50 226.3,387.50 226.8,387.50 227.3,387.50 227.8,387.50 228.3,387.50 228.8,387.50 229.3,387.50 229.8,387.50 230.3,387.50 230.8,387.50 231.3,387.50 231.8,387.50 232.3,387.50 232.8,387.50 233.3,387.50 233.8,387.50 234.3,387.50 234.8,387.50 235.3,387.50 235.8,387.50 236.3,387.50 236.8,387.50 237.3,387.50 237.8,387.50 238.3,387.50 238.8,387.50 239.3,387.50 239.8,387.50 240.3,387.50 240.8,387.50 241.3,387.50 241.8,387.50 242.3,387.50 242.8,387.50 243.3,387.50 243.8,387.50 244.3,387.50 244.8,387.50 245.3,387.50 245.8,387.50 246.3,387.50 246.8,387.50 247.3,387.50 247.8,387.50 248.3,387.50 248.8,387.50 249.3,387.50 249.8,387.50 250.3,387.50 250.8,387.50 251.3,387.50 251.8,387.50 252.3,387.50 252.8,387.50 253.3,387.50 253.8,387.50 254.3,387.50 254.8,387.50 255.3,387.49 255.8,387.49 256.3,387.48 256.8,387.46 257.3,387.43 257.8,387.38 258.3,387.30 258.8,387.17 259.3,386.98 259.8,386.69 260.3,386.30 260.8,385.75 261.3,385.03 261.8,384.11 262.3,382.99 262.8,381.65 263.3,380.14 263.8,378.51 264.3,376.81 264.8,375.16 265.3,373.66 265.8,372.41 266.3,371.52 266.8,371.05 267.3,371.03 267.8,371.48 268.3,372.34 268.8,373.52 269.3,374.93 269.8,376.43 270.3,377.90 270.8,379.22 271.3,380.27 271.8,380.98 272.3,381.29 272.8,381.17 273.3,380.61 273.8,379.65 274.3,378.34 274.8,376.78 275.3,375.08 275.8,373.36 276.3,371.77 276.8,370.45 277.3,369.50 277.8,369.03 278.3,369.07 278.8,369.63 279.3,370.66 279.8,372.08 280.3,373.78 280.8,375.63 281.3,377.53 281.8,379.36 282.3,381.04 282.8,382.52" fill="none" stroke="#c03040" stroke-width="0.8"/>
<polyline points="97.3,387.50 97.8,387.50 98.3,387.50 98.8,387.50 99.3,387.50 99.8,387.50 100.3,387.50 100.8,387.50 101.3,387.50 101.8,387.50 102.3,387.50 102.8,387.50 103.3,387.50 103.8,387.50 104.3,387.50 104.8,387.50 105.3,387.50 105.8,387.50 106.3,387.50 106.8,387.50 107.3,387.50 107.8,387.50 108.3,387.50 108.8,387.50 109.3,387.50 109.8,387.50 110.3,387.50 110.8,387.50 111.3,387.50 111.8,387.50 112.3,387.50 112.8,387.50 113.3,387.50 113.8,387.50 114.3,387.50 114.8,387.50 115.3,387.50 115.8,387.50 116.3,387.50 116.8,387.50 117.3,387.50 117.8,387.50 118.3,387.50 118.8,387.50 119.3,387.50 119.8,387.50 120.3,387.50 120.8,387.50 121.3,387.50 121.8,387.50 122.3,387.50 122.8,387.50 123.3,387.50 123.8,387.50 124.3,387.50 124.8,387.50 125.3,387.50 125.8,387.50 126.3,387.50 126.8,387.50 127.3,387.50 127.8,387.50 128.3,387.50 128.8,387.50 129.3,387.50 129.8,387.50 130.3,387.50 130.8,387.50 131.3,387.50 131.8,387.50 132.3,387.50 132.8,387.50 133.3,387.50 133.8,387.50 134.3,387.50 134.8,387.50 135.3,387.50 135.8,387.50 136.3,387.50 136.8,387.50 137.3,387.50 137.8,387.50 138.3,387.50 138.8,387.50 139.3,387.50 139.8,387.50 140.3,387.50 140.8,387.50 141.3,387.50 141.8,387.50 142.3,387.50 142.8,387.50 143.3,387.50 143.8,387.50 144.3,387.50 144.8,387.50 145.3,387.50 145.8,387.49 146.3,387.49 146.8,387.47 147.3,387.45 147.8,387.41 148.3,387.35 148.8,387.25 149.3,387.10 149.8,386.87 150.3,386.54 150.8,386.08 151.3,385.46 151.8,384.65 152.3,383.64 152.8,382.42 153.3,380.99 153.8,379.40 154.3,377.71 154.8,376.01 155.3,374.38 155.8,372.95 156.3,371.83 156.8,371.09 157.3,370.80 157.8,370.99 158.3,371.64 158.8,372.70 159.3,374.08 159.8,375.67 160.3,377.37 160.8,379.07 161.3,380.69 161.8,382.15 162.3,383.41 162.8,384.47 163.3,385.32 163.8,385.97 164.3,386.46 164.8,386.81 165.3,387.06 165.8,387.22 166.3,387.33 166.8,387.40 167.3,387.44 167.8,387.47 168.3,387.48 168.8,387.49 169.3,387.50 169.8,387.50 170.3,387.50 170.8,387.50 171.3,387.50 171.8,387.50 172.3,387.50 172.8,387.50 173.3,387.50 173.8,387.50 174.3,387.50 174.8,387.50 175.3,387.50 175.8,387.50 176.3,387.50 176.8,387.50 177.3,387.50 177.8,387.50 178.3,387.50 178.8,387.49 179.3,387.49 179.8,387.47 180.3,387.45 180.8,387.42 181.3,387.36 181.8,387.27 182.3,387.13 182.8,386.93 183.3,386.63 183.8,386.23 184.3,385.68 184.8,384.98 185.3,384.09 185.8,383.04 186.3,381.81 186.8,380.46 187.3,379.04 187.8,377.61 188.3,376.27 188.8,375.11 189.3,374.22 189.8,373.66 190.3,373.49 190.8,373.71 191.3,374.30 191.8,375.21 192.3,376.36 192.8,377.64 193.3,378.96 193.8,380.20 194.3,381.29 194.8,382.15 195.3,382.72 195.8,382.99 196.3,382.93 196.8,382.58 197.3,381.95 197.8,381.12 198.3,380.14 198.8,379.10 199.3,378.09 199.8,377.20 200.3,376.51 200.8,376.10 201.3,375.99 201.8,376.21 202.3,376.73 202.8,377.52 203.3,378.51 203.8,379.63 204.3,380.81 204.8,381.97 205.3,383.06 205.8,384.04 206.3,384.87 206.8,385.57 207.3,386.12 207.8,386.54 208.3,386.85 208.8,387.07 209.3,387.23 209.8,387.33 210.3,387.40 210.8,387.44 211.3,387.46 211.8,387.47 212.3,387.48 212.8,387.47 213.3,387.46 213.8,387.43 214.3,387.38 214.8,387.30 215.3,387.18 215.8,387.01 216.3,386.76 216.8,386.41 217.3,385.95 217.8,385.36 218.3,384.63 218.8,383.76 219.3,382.76 219.8,381.67 220.3,380.52 220.8,379.39 221.3,378.34 221.8,377.44 222.3,376.78 222.8,376.39 223.3,376.31 223.8,376.55 224.3,377.09 224.8,377.89 225.3,378.87 225.8,379.97 226.3,381.12 226.8,382.25 227.3,383.30 227.8,384.23 228.3,385.03 228.8,385.69 229.3,386.21 229.8,386.60 230.3,386.90 230.8,387.10 231.3,387.25 231.8,387.34 232.3,387.41 232.8,387.44 233.3,387.47 233.8,387.48 234.3,387.48 234.8,387.47 235.3,387.45 235.8,387.42 236.3,387.37 236.8,387.29 237.3,387.16 237.8,386.98 238.3,386.72 238.8,386.36 239.3,385.89 239.8,385.28 240.3,384.54 240.8,383.65 241.3,382.64 241.8,381.53 242.3,380.38 242.8,379.26 243.3,378.22 243.8,377.35 244.3,376.71 244.8,376.36 245.3,376.32 245.8,376.60 246.3,377.18 246.8,378.00 247.3,379.00 247.8,380.11 248.3,381.26 248.8,382.38 249.3,383.42 249.8,384.34 250.3,385.12 250.8,385.76 251.3,386.26 251.8,386.64 252.3,386.93 252.8,387.13 253.3,387.26 253.8,387.35 254.3,387.41 254.8,387.45 255.3,387.47 255.8,387.48 256.3,387.49 256.8,387.50 257.3,387.50 257.8,387.50 258.3,387.50 258.8,387.50 259.3,387.50 259.8,387.50 260.3,387.50 260.8,387.50 261.3,387.50 261.8,387.50 262.3,387.50 262.8,387.50 263.3,387.50 263.8,387.50 264.3,387.50 264.8,387.50 265.3,387.50 265.8,387.50 266.3,387.50 266.8,387.50 267.3,387.50 267.8,387.50 268.3,387.50 268.8,387.50 269.3,387.50 269.8,387.50 270.3,387.50 270.8,387.50 271.3,387.50 271.8,387.50 272.3,387.50 272.8,387.50 273.3,387.50 273.8,387.50 274.3,387.50 274.8,387.50 275.3,387.50 275.8,387.50 276.3,387.50 276.8,387.50 277.3,387.50 277.8,387.50 278.3,387.50 278.8,387.50 279.3,387.50 279.8,387.50 280.3,387.50 280.8,387.50 281.3,387.50 281.8,387.50 282.3,387.50 282.8,387.50" fill="none" stroke="#40a040" stroke-width="0.8"/>
<line x1="97.30" y1="387.80" x2="283.00" y2="387.80" stroke="#333" stroke-width="1.2" />
<text x="102.50" y="395.30" font-size="5.8" text-anchor="middle" fill="#222" stroke="#222" stroke-width="0.06" font-weight="bold" font-family='"Liberation Serif", serif' >G</text>
<text x="113.47" y="395.30" font-size="5.8" text-anchor="middle" fill="#4a4ab0" stroke="#4a4ab0" stroke-width="0.06" font-weight="bold" font-family='"Liberation Serif", serif' >C</text>
<text x="124.44" y="395.30" font-size="5.8" text-anchor="middle" fill="#222" stroke="#222" stroke-width="0.06" font-weight="bold" font-family='"Liberation Serif", serif' >G</text>
<text x="135.41" y="395.30" font-size="5.8" text-anchor="middle" fill="#c03040" stroke="#c03040" stroke-width="0.06" font-weight="bold" font-family='"Liberation Serif", serif' >T</text>
<text x="146.38" y="395.30" font-size="5.8" text-anchor="middle" fill="#222" stroke="#222" stroke-width="0.06" font-weight="bold" font-family='"Liberation Serif", serif' >G</text>
<text x="157.35" y="395.30" font-size="5.8" text-anchor="middle" fill="#40a040" stroke="#40a040" stroke-width="0.06" font-weight="bold" font-family='"Liberation Serif", serif' >A</text>
<text x="168.32" y="395.30" font-size="5.8" text-anchor="middle" fill="#222" stroke="#222" stroke-width="0.06" font-weight="bold" font-family='"Liberation Serif", serif' >G</text>
<text x="179.29" y="395.30" font-size="5.8" text-anchor="middle" fill="#c03040" stroke="#c03040" stroke-width="0.06" font-weight="bold" font-family='"Liberation Serif", serif' >T</text>
<text x="190.26" y="395.30" font-size="5.8" text-anchor="middle" fill="#40a040" stroke="#40a040" stroke-width="0.06" font-weight="bold" font-family='"Liberation Serif", serif' >A</text>
<text x="201.23" y="395.30" font-size="5.8" text-anchor="middle" fill="#40a040" stroke="#40a040" stroke-width="0.06" font-weight="bold" font-family='"Liberation Serif", serif' >A</text>
<text x="212.20" y="395.30" font-size="5.8" text-anchor="middle" fill="#4a4ab0" stroke="#4a4ab0" stroke-width="0.06" font-weight="bold" font-family='"Liberation Serif", serif' >C</text>
<text x="223.17" y="395.30" font-size="5.8" text-anchor="middle" fill="#40a040" stroke="#40a040" stroke-width="0.06" font-weight="bold" font-family='"Liberation Serif", serif' >A</text>
<text x="234.14" y="395.30" font-size="5.8" text-anchor="middle" fill="#4a4ab0" stroke="#4a4ab0" stroke-width="0.06" font-weight="bold" font-family='"Liberation Serif", serif' >C</text>
<text x="245.11" y="395.30" font-size="5.8" text-anchor="middle" fill="#40a040" stroke="#40a040" stroke-width="0.06" font-weight="bold" font-family='"Liberation Serif", serif' >A</text>
<text x="256.08" y="395.30" font-size="5.8" text-anchor="middle" fill="#4a4ab0" stroke="#4a4ab0" stroke-width="0.06" font-weight="bold" font-family='"Liberation Serif", serif' >C</text>
<text x="267.05" y="395.30" font-size="5.8" text-anchor="middle" fill="#c03040" stroke="#c03040" stroke-width="0.06" font-weight="bold" font-family='"Liberation Serif", serif' >T</text>
<text x="278.02" y="395.30" font-size="5.8" text-anchor="middle" fill="#c03040" stroke="#c03040" stroke-width="0.06" font-weight="bold" font-family='"Liberation Serif", serif' >T</text>
<polyline points="97.3,421.84 97.8,420.41 98.3,418.72 98.8,416.82 99.3,414.76 99.8,412.65 100.3,410.60 100.8,408.75 101.3,407.24 101.8,406.17 102.3,405.65 102.8,405.71 103.3,406.34 103.8,407.51 104.3,409.10 104.8,411.00 105.3,413.07 105.8,415.18 106.3,417.21 106.8,419.08 107.3,420.72 107.8,422.10 108.3,423.22 108.8,424.09 109.3,424.75 109.8,425.24 110.3,425.58 110.8,425.81 111.3,425.96 111.8,426.06 112.3,426.12 112.8,426.15 113.3,426.17 113.8,426.17 114.3,426.16 114.8,426.15 115.3,426.11 115.8,426.06 116.3,425.97 116.8,425.84 117.3,425.64 117.8,425.37 118.3,425.01 118.8,424.53 119.3,423.92 119.8,423.18 120.3,422.32 120.8,421.34 121.3,420.30 121.8,419.23 122.3,418.21 122.8,417.29 123.3,416.55 123.8,416.04 124.3,415.81 124.8,415.88 125.3,416.23 125.8,416.85 126.3,417.67 126.8,418.65 127.3,419.70 127.8,420.76 128.3,421.78 128.8,422.71 129.3,423.52 129.8,424.20 130.3,424.75 130.8,425.18 131.3,425.50 131.8,425.74 132.3,425.90 132.8,426.01 133.3,426.09 133.8,426.13 134.3,426.16 134.8,426.17 135.3,426.18 135.8,426.18 136.3,426.17 136.8,426.15 137.3,426.11 137.8,426.06 138.3,425.97 138.8,425.84 139.3,425.66 139.8,425.39 140.3,425.04 140.8,424.58 141.3,424.00 141.8,423.29 142.3,422.47 142.8,421.56 143.3,420.58 143.8,419.58 144.3,418.63 144.8,417.80 145.3,417.13 145.8,416.69 146.3,416.50 146.8,416.60 147.3,416.96 147.8,417.56 148.3,418.35 148.8,419.27 149.3,420.26 149.8,421.25 150.3,422.19 150.8,423.04 151.3,423.79 151.8,424.41 152.3,424.90 152.8,425.29 153.3,425.58 153.8,425.79 154.3,425.94 154.8,426.03 155.3,426.10 155.8,426.14 156.3,426.16 156.8,426.18 157.3,426.19 157.8,426.19 158.3,426.18 158.8,426.17 159.3,426.16 159.8,426.13 160.3,426.09 160.8,426.03 161.3,425.93 161.8,425.81 162.3,425.64 162.8,425.42 163.3,425.14 163.8,424.81 164.3,424.42 164.8,423.99 165.3,423.54 165.8,423.08 166.3,422.64 166.8,422.26 167.3,421.96 167.8,421.77 168.3,421.70 168.8,421.76 169.3,421.94 169.8,422.23 170.3,422.61 170.8,423.04 171.3,423.50 171.8,423.96 172.3,424.39 172.8,424.78 173.3,425.12 173.8,425.40 174.3,425.62 174.8,425.80 175.3,425.93 175.8,426.02 176.3,426.08 176.8,426.13 177.3,426.16 177.8,426.17 178.3,426.19 178.8,426.19 179.3,426.20 179.8,426.20 180.3,426.20 180.8,426.20 181.3,426.20 181.8,426.20 182.3,426.20 182.8,426.20 183.3,426.20 183.8,426.20 184.3,426.20 184.8,426.20 185.3,426.20 185.8,426.20 186.3,426.20 186.8,426.20 187.3,426.20 187.8,426.20 188.3,426.20 188.8,426.20 189.3,426.20 189.8,426.20 190.3,426.20 190.8,426.20 191.3,426.20 191.8,426.20 192.3,426.20 192.8,426.20 193.3,426.20 193.8,426.20 194.3,426.20 194.8,426.20 195.3,426.20 195.8,426.20 196.3,426.20 196.8,426.20 197.3,426.20 197.8,426.20 198.3,426.20 198.8,426.20 199.3,426.20 199.8,426.20 200.3,426.20 200.8,426.20 201.3,426.20 201.8,426.20 202.3,426.20 202.8,426.20 203.3,426.20 203.8,426.20 204.3,426.20 204.8,426.20 205.3,426.20 205.8,426.20 206.3,426.20 206.8,426.20 207.3,426.20 207.8,426.20 208.3,426.20 208.8,426.20 209.3,426.20 209.8,426.20 210.3,426.20 210.8,426.20 211.3,426.20 211.8,426.20 212.3,426.20 212.8,426.20 213.3,426.20 213.8,426.20 214.3,426.20 214.8,426.20 215.3,426.20 215.8,426.20 216.3,426.20 216.8,426.20 217.3,426.20 217.8,426.20 218.3,426.20 218.8,426.20 219.3,426.20 219.8,426.20 220.3,426.20 220.8,426.20 221.3,426.20 221.8,426.20 222.3,426.20 222.8,426.20 223.3,426.20 223.8,426.20 224.3,426.20 224.8,426.20 225.3,426.20 225.8,426.20 226.3,426.20 226.8,426.20 227.3,426.20 227.8,426.20 228.3,426.20 228.8,426.20 229.3,426.20 229.8,426.20 230.3,426.20 230.8,426.20 231.3,426.20 231.8,426.20 232.3,426.20 232.8,426.20 233.3,426.20 233.8,426.20 234.3,426.20 234.8,426.20 235.3,426.20 235.8,426.20 236.3,426.20 236.8,426.20 237.3,426.20 237.8,426.20 238.3,426.20 238.8,426.20 239.3,426.20 239.8,426.20 240.3,426.20 240.8,426.20 241.3,426.20 241.8,426.20 242.3,426.20 242.8,426.20 243.3,426.20 243.8,426.20 244.3,426.20 244.8,426.20 245.3,426.20 245.8,426.20 246.3,426.20 246.8,426.20 247.3,426.20 247.8,426.20 248.3,426.20 248.8,426.20 249.3,426.20 249.8,426.20 250.3,426.20 250.8,426.20 251.3,426.20 251.8,426.20 252.3,426.20 252.8,426.20 253.3,426.20 253.8,426.20 254.3,426.20 254.8,426.20 255.3,426.20 255.8,426.20 256.3,426.20 256.8,426.20 257.3,426.20 257.8,426.20 258.3,426.20 258.8,426.20 259.3,426.20 259.8,426.20 260.3,426.20 260.8,426.20 261.3,426.20 261.8,426.20 262.3,426.20 262.8,426.20 263.3,426.20 263.8,426.20 264.3,426.20 264.8,426.20 265.3,426.20 265.8,426.20 266.3,426.20 266.8,426.20 267.3,426.20 267.8,426.20 268.3,426.20 268.8,426.20 269.3,426.20 269.8,426.20 270.3,426.20 270.8,426.20 271.3,426.20 271.8,426.20 272.3,426.20 272.8,426.20 273.3,426.20 273.8,426.20 274.3,426.20 274.8,426.20 275.3,426.20 275.8,426.20 276.3,426.20 276.8,426.20 277.3,426.20 277.8,426.20 278.3,426.20 278.8,426.20 279.3,426.20 279.8,426.20 280.3,426.20 280.8,426.20 281.3,426.20 281.8,426.20 282.3,426.20 282.8,426.20" fill="none" stroke="#222" stroke-width="0.8"/>
<polyline points="97.3,426.20 97.8,426.20 98.3,426.20 98.8,426.20 99.3,426.20 99.8,426.20 100.3,426.20 100.8,426.20 101.3,426.20 101.8,426.20 102.3,426.19 102.8,426.18 103.3,426.17 103.8,426.15 104.3,426.11 104.8,426.05 105.3,425.96 105.8,425.83 106.3,425.63 106.8,425.35 107.3,424.97 107.8,424.47 108.3,423.83 108.8,423.06 109.3,422.15 109.8,421.13 110.3,420.02 110.8,418.90 111.3,417.81 111.8,416.83 112.3,416.03 112.8,415.48 113.3,415.22 113.8,415.27 114.3,415.63 114.8,416.26 115.3,417.13 115.8,418.15 116.3,419.26 116.8,420.38 117.3,421.46 117.8,422.45 118.3,423.32 118.8,424.05 119.3,424.64 119.8,425.10 120.3,425.45 120.8,425.70 121.3,425.88 121.8,426.00 122.3,426.08 122.8,426.13 123.3,426.16 123.8,426.18 124.3,426.19 124.8,426.19 125.3,426.20 125.8,426.20 126.3,426.20 126.8,426.20 127.3,426.20 127.8,426.20 128.3,426.20 128.8,426.20 129.3,426.20 129.8,426.20 130.3,426.20 130.8,426.20 131.3,426.20 131.8,426.20 132.3,426.20 132.8,426.20 133.3,426.20 133.8,426.20 134.3,426.20 134.8,426.20 135.3,426.20 135.8,426.20 136.3,426.20 136.8,426.20 137.3,426.20 137.8,426.20 138.3,426.20 138.8,426.20 139.3,426.20 139.8,426.20 140.3,426.20 140.8,426.20 141.3,426.20 141.8,426.20 142.3,426.20 142.8,426.20 143.3,426.20 143.8,426.20 144.3,426.20 144.8,426.20 145.3,426.20 145.8,426.20 146.3,426.20 146.8,426.20 147.3,426.20 147.8,426.20 148.3,426.20 148.8,426.20 149.3,426.20 149.8,426.20 150.3,426.20 150.8,426.20 151.3,426.20 151.8,426.20 152.3,426.20 152.8,426.20 153.3,426.20 153.8,426.20 154.3,426.20 154.8,426.20 155.3,426.20 155.8,426.20 156.3,426.20 156.8,426.20 157.3,426.20 157.8,426.19 158.3,426.18 158.8,426.17 159.3,426.15 159.8,426.12 160.3,426.08 160.8,426.01 161.3,425.91 161.8,425.77 162.3,425.58 162.8,425.33 163.3,425.02 163.8,424.65 164.3,424.22 164.8,423.75 165.3,423.24 165.8,422.73 166.3,422.24 166.8,421.82 167.3,421.49 167.8,421.28 168.3,421.20 168.8,421.27 169.3,421.47 169.8,421.79 170.3,422.21 170.8,422.69 171.3,423.20 171.8,423.71 172.3,424.19 172.8,424.62 173.3,425.00 173.8,425.31 174.3,425.56 174.8,425.75 175.3,425.90 175.8,426.00 176.3,426.07 176.8,426.12 177.3,426.15 177.8,426.17 178.3,426.18 178.8,426.19 179.3,426.19 179.8,426.19 180.3,426.19 180.8,426.18 181.3,426.16 181.8,426.13 182.3,426.09 182.8,426.04 183.3,425.95 183.8,425.84 184.3,425.68 184.8,425.48 185.3,425.23 185.8,424.92 186.3,424.58 186.8,424.19 187.3,423.78 187.8,423.37 188.3,422.99 188.8,422.66 189.3,422.41 189.8,422.25 190.3,422.20 190.8,422.26 191.3,422.43 191.8,422.69 192.3,423.02 192.8,423.39 193.3,423.77 193.8,424.13 194.3,424.44 194.8,424.70 195.3,424.87 195.8,424.96 196.3,424.97 196.8,424.89 197.3,424.73 197.8,424.52 198.3,424.27 198.8,424.00 199.3,423.74 199.8,423.51 200.3,423.33 200.8,423.22 201.3,423.18 201.8,423.23 202.3,423.34 202.8,423.51 203.3,423.71 203.8,423.91 204.3,424.08 204.8,424.18 205.3,424.17 205.8,424.01 206.3,423.69 206.8,423.17 207.3,422.44 207.8,421.51 208.3,420.40 208.8,419.14 209.3,417.80 209.8,416.46 210.3,415.20 210.8,414.12 211.3,413.31 211.8,412.82 212.3,412.71 212.8,412.97 213.3,413.61 213.8,414.55 214.3,415.72 214.8,417.04 215.3,418.43 215.8,419.79 216.3,421.06 216.8,422.20 217.3,423.17 217.8,423.97 218.3,424.61 218.8,425.09 219.3,425.45 219.8,425.71 220.3,425.89 220.8,426.01 221.3,426.08 221.8,426.13 222.3,426.16 222.8,426.17 223.3,426.18 223.8,426.17 224.3,426.16 224.8,426.13 225.3,426.09 225.8,426.02 226.3,425.91 226.8,425.75 227.3,425.52 227.8,425.21 228.3,424.79 228.8,424.26 229.3,423.60 229.8,422.81 230.3,421.91 230.8,420.93 231.3,419.91 231.8,418.90 232.3,417.97 232.8,417.18 233.3,416.60 233.8,416.27 234.3,416.21 234.8,416.45 235.3,416.94 235.8,417.66 236.3,418.55 236.8,419.54 237.3,420.57 237.8,421.57 238.3,422.50 238.8,423.33 239.3,424.03 239.8,424.61 240.3,425.07 240.8,425.42 241.3,425.67 241.8,425.86 242.3,425.98 242.8,426.07 243.3,426.12 243.8,426.15 244.3,426.17 244.8,426.18 245.3,426.18 245.8,426.17 246.3,426.15 246.8,426.12 247.3,426.07 247.8,426.00 248.3,425.88 248.8,425.70 249.3,425.45 249.8,425.11 250.3,424.66 250.8,424.08 251.3,423.37 251.8,422.53 252.3,421.58 252.8,420.54 253.3,419.46 253.8,418.41 254.3,417.45 254.8,416.64 255.3,416.06 255.8,415.75 256.3,415.73 256.8,416.00 257.3,416.55 257.8,417.32 258.3,418.25 258.8,419.28 259.3,420.32 259.8,421.31 260.3,422.21 260.8,422.96 261.3,423.56 261.8,423.98 262.3,424.24 262.8,424.35 263.3,424.34 263.8,424.22 264.3,424.04 264.8,423.82 265.3,423.60 265.8,423.41 266.3,423.27 266.8,423.20 267.3,423.20 267.8,423.29 268.3,423.46 268.8,423.68 269.3,423.96 269.8,424.26 270.3,424.56 270.8,424.86 271.3,425.14 271.8,425.38 272.3,425.58 272.8,425.75 273.3,425.88 273.8,425.98 274.3,426.05 274.8,426.10 275.3,426.14 275.8,426.16 276.3,426.18 276.8,426.19 277.3,426.19 277.8,426.20 278.3,426.20 278.8,426.20 279.3,426.20 279.8,426.20 280.3,426.20 280.8,426.20 281.3,426.20 281.8,426.20 282.3,426.20 282.8,426.20" fill="none" stroke="#4a4ab0" stroke-width="0.8"/>
<polyline points="97.3,426.20 97.8,426.20 98.3,426.20 98.8,426.20 99.3,426.20 99.8,426.20 100.3,426.20 100.8,426.20 101.3,426.20 101.8,426.20 102.3,426.20 102.8,426.20 103.3,426.20 103.8,426.20 104.3,426.20 104.8,426.20 105.3,426.20 105.8,426.20 106.3,426.20 106.8,426.20 107.3,426.20 107.8,426.20 108.3,426.20 108.8,426.20 109.3,426.20 109.8,426.20 110.3,426.20 110.8,426.20 111.3,426.20 111.8,426.20 112.3,426.20 112.8,426.20 113.3,426.20 113.8,426.20 114.3,426.20 114.8,426.20 115.3,426.20 115.8,426.20 116.3,426.20 116.8,426.20 117.3,426.20 117.8,426.20 118.3,426.20 118.8,426.20 119.3,426.20 119.8,426.20 120.3,426.20 120.8,426.20 121.3,426.20 121.8,426.20 122.3,426.20 122.8,426.20 123.3,426.20 123.8,426.20 124.3,426.19 124.8,426.18 125.3,426.17 125.8,426.15 126.3,426.11 126.8,426.04 127.3,425.95 127.8,425.81 128.3,425.60 128.8,425.31 129.3,424.91 129.8,424.40 130.3,423.75 130.8,422.96 131.3,422.03 131.8,421.00 132.3,419.89 132.8,418.76 133.3,417.68 133.8,416.72 134.3,415.95 134.8,415.43 135.3,415.21 135.8,415.30 136.3,415.69 136.8,416.36 137.3,417.24 137.8,418.28 138.3,419.39 138.8,420.52 139.3,421.59 139.8,422.56 140.3,423.42 140.8,424.13 141.3,424.70 141.8,425.15 142.3,425.48 142.8,425.72 143.3,425.89 143.8,426.01 144.3,426.08 144.8,426.13 145.3,426.16 145.8,426.18 146.3,426.19 146.8,426.19 147.3,426.20 147.8,426.20 148.3,426.20 148.8,426.20 149.3,426.20 149.8,426.20 150.3,426.20 150.8,426.20 151.3,426.20 151.8,426.20 152.3,426.20 152.8,426.20 153.3,426.20 153.8,426.20 154.3,426.20 154.8,426.20 155.3,426.20 155.8,426.20 156.3,426.20 156.8,426.20 157.3,426.20 157.8,426.20 158.3,426.20 158.8,426.20 159.3,426.20 159.8,426.20 160.3,426.20 160.8,426.20 161.3,426.20 161.8,426.20 162.3,426.20 162.8,426.20 163.3,426.20 163.8,426.20 164.3,426.20 164.8,426.20 165.3,426.20 165.8,426.20 166.3,426.20 166.8,426.20 167.3,426.20 167.8,426.20 168.3,426.19 168.8,426.18 169.3,426.17 169.8,426.15 170.3,426.12 170.8,426.06 171.3,425.98 171.8,425.86 172.3,425.69 172.8,425.44 173.3,425.12 173.8,424.70 174.3,424.17 174.8,423.53 175.3,422.79 175.8,421.98 176.3,421.11 176.8,420.25 177.3,419.43 177.8,418.72 178.3,418.17 178.8,417.82 179.3,417.70 179.8,417.83 180.3,418.18 180.8,418.74 181.3,419.46 181.8,420.28 182.3,421.15 182.8,422.01 183.3,422.83 183.8,423.56 184.3,424.19 184.8,424.71 185.3,425.13 185.8,425.46 186.3,425.70 186.8,425.87 187.3,425.99 187.8,426.07 188.3,426.12 188.8,426.15 189.3,426.17 189.8,426.19 190.3,426.19 190.8,426.20 191.3,426.20 191.8,426.20 192.3,426.20 192.8,426.20 193.3,426.20 193.8,426.20 194.3,426.20 194.8,426.20 195.3,426.20 195.8,426.20 196.3,426.20 196.8,426.20 197.3,426.20 197.8,426.20 198.3,426.20 198.8,426.20 199.3,426.20 199.8,426.20 200.3,426.20 200.8,426.20 201.3,426.20 201.8,426.20 202.3,426.20 202.8,426.20 203.3,426.20 203.8,426.20 204.3,426.20 204.8,426.20 205.3,426.20 205.8,426.20 206.3,426.20 206.8,426.20 207.3,426.20 207.8,426.20 208.3,426.20 208.8,426.20 209.3,426.20 209.8,426.20 210.3,426.20 210.8,426.20 211.3,426.20 211.8,426.20 212.3,426.19 212.8,426.18 213.3,426.17 213.8,426.15 214.3,426.11 214.8,426.06 215.3,425.97 215.8,425.85 216.3,425.67 216.8,425.42 217.3,425.10 217.8,424.67 218.3,424.15 218.8,423.53 219.3,422.82 219.8,422.03 220.3,421.22 220.8,420.41 221.3,419.66 221.8,419.02 222.3,418.54 222.8,418.26 223.3,418.21 223.8,418.38 224.3,418.77 224.8,419.33 225.3,420.04 225.8,420.82 226.3,421.64 226.8,422.45 227.3,423.20 227.8,423.87 228.3,424.44 228.8,424.91 229.3,425.28 229.8,425.56 230.3,425.77 230.8,425.92 231.3,426.02 231.8,426.09 232.3,426.13 232.8,426.16 233.3,426.18 233.8,426.19 234.3,426.19 234.8,426.20 235.3,426.20 235.8,426.20 236.3,426.20 236.8,426.20 237.3,426.20 237.8,426.20 238.3,426.20 238.8,426.20 239.3,426.20 239.8,426.20 240.3,426.20 240.8,426.20 241.3,426.20 241.8,426.20 242.3,426.20 242.8,426.20 243.3,426.20 243.8,426.20 244.3,426.20 244.8,426.20 245.3,426.20 245.8,426.20 246.3,426.20 246.8,426.20 247.3,426.20 247.8,426.20 248.3,426.20 248.8,426.20 249.3,426.20 249.8,426.20 250.3,426.20 250.8,426.20 251.3,426.20 251.8,426.20 252.3,426.20 252.8,426.20 253.3,426.20 253.8,426.20 254.3,426.20 254.8,426.20 255.3,426.20 255.8,426.19 256.3,426.18 256.8,426.17 257.3,426.15 257.8,426.11 258.3,426.05 258.8,425.96 259.3,425.82 259.8,425.61 260.3,425.32 260.8,424.93 261.3,424.40 261.8,423.74 262.3,422.92 262.8,421.95 263.3,420.85 263.8,419.66 264.3,418.43 264.8,417.23 265.3,416.13 265.8,415.23 266.3,414.58 266.8,414.23 267.3,414.23 267.8,414.55 268.3,415.17 268.8,416.04 269.3,417.07 269.8,418.17 270.3,419.25 270.8,420.22 271.3,421.00 271.8,421.54 272.3,421.80 272.8,421.75 273.3,421.40 273.8,420.76 274.3,419.88 274.8,418.82 275.3,417.66 275.8,416.48 276.3,415.40 276.8,414.49 277.3,413.84 277.8,413.52 278.3,413.55 278.8,413.93 279.3,414.64 279.8,415.61 280.3,416.78 280.8,418.05 281.3,419.36 281.8,420.61 282.3,421.77 282.8,422.78" fill="none" stroke="#c03040" stroke-width="0.8"/>
<polyline points="97.3,426.20 97.8,426.20 98.3,426.20 98.8,426.20 99.3,426.20 99.8,426.20 100.3,426.20 100.8,426.20 101.3,426.20 101.8,426.20 102.3,426.20 102.8,426.20 103.3,426.20 103.8,426.20 104.3,426.20 104.8,426.20 105.3,426.20 105.8,426.20 106.3,426.20 106.8,426.20 107.3,426.20 107.8,426.20 108.3,426.20 108.8,426.20 109.3,426.20 109.8,426.20 110.3,426.20 110.8,426.20 111.3,426.20 111.8,426.20 112.3,426.20 112.8,426.20 113.3,426.20 113.8,426.20 114.3,426.20 114.8,426.20 115.3,426.20 115.8,426.20 116.3,426.20 116.8,426.20 117.3,426.20 117.8,426.20 118.3,426.20 118.8,426.20 119.3,426.20 119.8,426.20 120.3,426.20 120.8,426.20 121.3,426.20 121.8,426.20 122.3,426.20 122.8,426.20 123.3,426.20 123.8,426.20 124.3,426.20 124.8,426.20 125.3,426.20 125.8,426.20 126.3,426.20 126.8,426.20 127.3,426.20 127.8,426.20 128.3,426.20 128.8,426.20 129.3,426.20 129.8,426.20 130.3,426.20 130.8,426.20 131.3,426.20 131.8,426.20 132.3,426.20 132.8,426.20 133.3,426.20 133.8,426.20 134.3,426.20 134.8,426.20 135.3,426.20 135.8,426.20 136.3,426.20 136.8,426.20 137.3,426.20 137.8,426.20 138.3,426.20 138.8,426.20 139.3,426.20 139.8,426.20 140.3,426.20 140.8,426.20 141.3,426.20 141.8,426.20 142.3,426.20 142.8,426.20 143.3,426.20 143.8,426.20 144.3,426.20 144.8,426.20 145.3,426.20 145.8,426.19 146.3,426.19 146.8,426.18 147.3,426.16 147.8,426.13 148.3,426.07 148.8,425.99 149.3,425.86 149.8,425.67 150.3,425.40 150.8,425.02 151.3,424.50 151.8,423.83 152.3,422.99 152.8,421.97 153.3,420.78 153.8,419.46 154.3,418.05 154.8,416.63 155.3,415.28 155.8,414.09 156.3,413.15 156.8,412.54 157.3,412.30 157.8,412.46 158.3,413.00 158.8,413.88 159.3,415.03 159.8,416.35 160.3,417.77 160.8,419.19 161.3,420.53 161.8,421.74 162.3,422.80 162.8,423.68 163.3,424.38 163.8,424.93 164.3,425.33 164.8,425.63 165.3,425.83 165.8,425.97 166.3,426.06 166.8,426.12 167.3,426.15 167.8,426.17 168.3,426.18 168.8,426.19 169.3,426.18 169.8,426.18 170.3,426.16 170.8,426.14 171.3,426.10 171.8,426.04 172.3,425.96 172.8,425.84 173.3,425.69 173.8,425.49 174.3,425.24 174.8,424.94 175.3,424.60 175.8,424.21 176.3,423.81 176.8,423.40 177.3,423.01 177.8,422.68 178.3,422.42 178.8,422.25 179.3,422.19 179.8,422.24 180.3,422.40 180.8,422.64 181.3,422.94 181.8,423.27 182.3,423.59 182.8,423.86 183.3,424.06 183.8,424.14 184.3,424.09 184.8,423.88 185.3,423.51 185.8,422.98 186.3,422.31 186.8,421.52 187.3,420.66 187.8,419.78 188.3,418.94 188.8,418.21 189.3,417.65 189.8,417.30 190.3,417.19 190.8,417.33 191.3,417.70 191.8,418.28 192.3,419.00 192.8,419.80 193.3,420.61 193.8,421.36 194.3,421.98 194.8,422.42 195.3,422.65 195.8,422.64 196.3,422.37 196.8,421.87 197.3,421.15 197.8,420.26 198.3,419.26 198.8,418.23 199.3,417.24 199.8,416.37 200.3,415.71 200.8,415.30 201.3,415.19 201.8,415.40 202.3,415.90 202.8,416.65 203.3,417.60 203.8,418.67 204.3,419.80 204.8,420.91 205.3,421.95 205.8,422.89 206.3,423.69 206.8,424.35 207.3,424.88 207.8,425.28 208.3,425.58 208.8,425.79 209.3,425.94 209.8,426.04 210.3,426.10 210.8,426.14 211.3,426.17 211.8,426.18 212.3,426.19 212.8,426.19 213.3,426.18 213.8,426.17 214.3,426.16 214.8,426.13 215.3,426.09 215.8,426.02 216.3,425.93 216.8,425.81 217.3,425.65 217.8,425.44 218.3,425.18 218.8,424.86 219.3,424.51 219.8,424.12 220.3,423.71 220.8,423.30 221.3,422.93 221.8,422.61 222.3,422.37 222.8,422.23 223.3,422.20 223.8,422.29 224.3,422.48 224.8,422.77 225.3,423.12 225.8,423.51 226.3,423.92 226.8,424.32 227.3,424.70 227.8,425.03 228.3,425.32 228.8,425.55 229.3,425.74 229.8,425.88 230.3,425.98 230.8,426.06 231.3,426.11 231.8,426.14 232.3,426.17 232.8,426.18 233.3,426.19 233.8,426.19 234.3,426.19 234.8,426.18 235.3,426.17 235.8,426.14 236.3,426.11 236.8,426.05 237.3,425.96 237.8,425.83 238.3,425.64 238.8,425.39 239.3,425.05 239.8,424.62 240.3,424.08 240.8,423.45 241.3,422.73 241.8,421.94 242.3,421.12 242.8,420.31 243.3,419.57 243.8,418.95 244.3,418.50 244.8,418.24 245.3,418.22 245.8,418.42 246.3,418.83 246.8,419.41 247.3,420.13 247.8,420.92 248.3,421.74 248.8,422.54 249.3,423.28 249.8,423.94 250.3,424.50 250.8,424.95 251.3,425.31 251.8,425.59 252.3,425.79 252.8,425.93 253.3,426.03 253.8,426.10 254.3,426.14 254.8,426.16 255.3,426.18 255.8,426.19 256.3,426.19 256.8,426.20 257.3,426.20 257.8,426.20 258.3,426.20 258.8,426.20 259.3,426.20 259.8,426.20 260.3,426.20 260.8,426.20 261.3,426.20 261.8,426.20 262.3,426.20 262.8,426.20 263.3,426.20 263.8,426.20 264.3,426.20 264.8,426.20 265.3,426.20 265.8,426.20 266.3,426.20 266.8,426.20 267.3,426.20 267.8,426.19 268.3,426.19 268.8,426.18 269.3,426.16 269.8,426.14 270.3,426.10 270.8,426.05 271.3,425.98 271.8,425.88 272.3,425.74 272.8,425.57 273.3,425.37 273.8,425.12 274.3,424.85 274.8,424.55 275.3,424.24 275.8,423.94 276.3,423.67 276.8,423.45 277.3,423.29 277.8,423.21 278.3,423.21 278.8,423.30 279.3,423.47 279.8,423.70 280.3,423.97 280.8,424.28 281.3,424.58 281.8,424.88 282.3,425.15 282.8,425.39" fill="none" stroke="#40a040" stroke-width="0.8"/>
<line x1="97.30" y1="426.50" x2="283.00" y2="426.50" stroke="#333" stroke-width="1.2" />
<rect x="141.98" y="427.80" width="8.80" height="13.20" fill="#f3ea1a" />
<rect x="152.95" y="427.80" width="8.80" height="13.20" fill="#f3ea1a" />
<rect x="163.92" y="427.80" width="8.80" height="13.20" fill="#f3ea1a" />
<rect x="174.89" y="427.80" width="8.80" height="13.20" fill="#f3ea1a" />
<text x="102.50" y="432.30" font-size="5.8" text-anchor="middle" fill="#333" stroke="#333" stroke-width="0.06" font-weight="bold" font-family='"Liberation Serif", serif' >G</text>
<text x="113.47" y="432.30" font-size="5.8" text-anchor="middle" fill="#333" stroke="#333" stroke-width="0.06" font-weight="bold" font-family='"Liberation Serif", serif' >C</text>
<text x="124.44" y="432.30" font-size="5.8" text-anchor="middle" fill="#333" stroke="#333" stroke-width="0.06" font-weight="bold" font-family='"Liberation Serif", serif' >G</text>
<text x="135.41" y="432.30" font-size="5.8" text-anchor="middle" fill="#333" stroke="#333" stroke-width="0.06" font-weight="bold" font-family='"Liberation Serif", serif' >T</text>
<text x="146.38" y="432.30" font-size="5.8" text-anchor="middle" fill="#333" stroke="#333" stroke-width="0.06" font-weight="bold" font-family='"Liberation Serif", serif' >G</text>
<text x="157.35" y="432.30" font-size="5.8" text-anchor="middle" fill="#333" stroke="#333" stroke-width="0.06" font-weight="bold" font-family='"Liberation Serif", serif' >A</text>
<text x="168.32" y="432.30" font-size="5.8" text-anchor="middle" fill="#333" stroke="#333" stroke-width="0.06" font-weight="bold" font-family='"Liberation Serif", serif' >G</text>
<text x="179.29" y="432.30" font-size="5.8" text-anchor="middle" fill="#333" stroke="#333" stroke-width="0.06" font-weight="bold" font-family='"Liberation Serif", serif' >T</text>
<text x="190.26" y="432.30" font-size="5.8" text-anchor="middle" fill="#333" stroke="#333" stroke-width="0.06" font-weight="bold" font-family='"Liberation Serif", serif' >A</text>
<text x="201.23" y="432.30" font-size="5.8" text-anchor="middle" fill="#333" stroke="#333" stroke-width="0.06" font-weight="bold" font-family='"Liberation Serif", serif' >A</text>
<text x="212.20" y="432.30" font-size="5.8" text-anchor="middle" fill="#333" stroke="#333" stroke-width="0.06" font-weight="bold" font-family='"Liberation Serif", serif' >C</text>
<text x="223.17" y="432.30" font-size="5.8" text-anchor="middle" fill="#333" stroke="#333" stroke-width="0.06" font-weight="bold" font-family='"Liberation Serif", serif' >A</text>
<text x="234.14" y="432.30" font-size="5.8" text-anchor="middle" fill="#333" stroke="#333" stroke-width="0.06" font-weight="bold" font-family='"Liberation Serif", serif' >C</text>
<text x="245.11" y="432.30" font-size="5.8" text-anchor="middle" fill="#333" stroke="#333" stroke-width="0.06" font-weight="bold" font-family='"Liberation Serif", serif' >A</text>
<text x="256.08" y="432.30" font-size="5.8" text-anchor="middle" fill="#333" stroke="#333" stroke-width="0.06" font-weight="bold" font-family='"Liberation Serif", serif' >C</text>
<text x="267.05" y="432.30" font-size="5.8" text-anchor="middle" fill="#333" stroke="#333" stroke-width="0.06" font-weight="bold" font-family='"Liberation Serif", serif' >T</text>
<text x="278.02" y="432.30" font-size="5.8" text-anchor="middle" fill="#333" stroke="#333" stroke-width="0.06" font-weight="bold" font-family='"Liberation Serif", serif' >T</text>
<text x="102.50" y="439.00" font-size="5.8" text-anchor="middle" fill="#333" stroke="#333" stroke-width="0.06" font-weight="bold" font-family='"Liberation Serif", serif' >G</text>
<text x="113.47" y="439.00" font-size="5.8" text-anchor="middle" fill="#333" stroke="#333" stroke-width="0.06" font-weight="bold" font-family='"Liberation Serif", serif' >C</text>
<text x="124.44" y="439.00" font-size="5.8" text-anchor="middle" fill="#333" stroke="#333" stroke-width="0.06" font-weight="bold" font-family='"Liberation Serif", serif' >G</text>
<text x="135.41" y="439.00" font-size="5.8" text-anchor="middle" fill="#333" stroke="#333" stroke-width="0.06" font-weight="bold" font-family='"Liberation Serif", serif' >T</text>
<line x1="144.58" y1="436.90" x2="148.18" y2="436.90" stroke="#555" stroke-width="0.8" />
<line x1="155.55" y1="436.90" x2="159.15" y2="436.90" stroke="#555" stroke-width="0.8" />
<line x1="166.52" y1="436.90" x2="170.12" y2="436.90" stroke="#555" stroke-width="0.8" />
<line x1="177.49" y1="436.90" x2="181.09" y2="436.90" stroke="#555" stroke-width="0.8" />
<text x="190.26" y="439.00" font-size="5.8" text-anchor="middle" fill="#333" stroke="#333" stroke-width="0.06" font-weight="bold" font-family='"Liberation Serif", serif' >A</text>
<text x="201.23" y="439.00" font-size="5.8" text-anchor="middle" fill="#333" stroke="#333" stroke-width="0.06" font-weight="bold" font-family='"Liberation Serif", serif' >A</text>
<text x="212.20" y="439.00" font-size="5.8" text-anchor="middle" fill="#333" stroke="#333" stroke-width="0.06" font-weight="bold" font-family='"Liberation Serif", serif' >C</text>
<text x="223.17" y="439.00" font-size="5.8" text-anchor="middle" fill="#333" stroke="#333" stroke-width="0.06" font-weight="bold" font-family='"Liberation Serif", serif' >A</text>
<text x="234.14" y="439.00" font-size="5.8" text-anchor="middle" fill="#333" stroke="#333" stroke-width="0.06" font-weight="bold" font-family='"Liberation Serif", serif' >C</text>
<text x="245.11" y="439.00" font-size="5.8" text-anchor="middle" fill="#333" stroke="#333" stroke-width="0.06" font-weight="bold" font-family='"Liberation Serif", serif' >A</text>
<text x="256.08" y="439.00" font-size="5.8" text-anchor="middle" fill="#333" stroke="#333" stroke-width="0.06" font-weight="bold" font-family='"Liberation Serif", serif' >C</text>
<text x="267.05" y="439.00" font-size="5.8" text-anchor="middle" fill="#333" stroke="#333" stroke-width="0.06" font-weight="bold" font-family='"Liberation Serif", serif' >T</text>
<text x="278.02" y="439.00" font-size="5.8" text-anchor="middle" fill="#333" stroke="#333" stroke-width="0.06" font-weight="bold" font-family='"Liberation Serif", serif' >T</text>
<line x1="96.70" y1="441.30" x2="283.00" y2="441.30" stroke="#999" stroke-width="0.9" />
<text x="393.80" y="364.90" font-size="9.25" text-anchor="middle" fill="#231f20" stroke="#231f20" stroke-width="0.06" >PUM1 RNA binding domain</text>
<path d="M318,445 L322,441 M310,415 Q304,410 311,406 M320,400 Q316,392 324,392 M334,386 Q331,377 339,378 M352,376 Q352,367 359,371 M370,371 Q373,363 378,369 M392,374 Q397,366 401,375 M404,381 Q411,376 410,385" fill="none" stroke="#2a9a2a" stroke-width="0.6"/>
<g transform="translate(318.5,412.2) rotate(-83.03357288176477)"><rect x="-5.2" y="-2.7" width="10.5" height="5.4" rx="2.2" fill="#3ee83e" stroke="#1a8a1a" stroke-width="0.5"/><path d="M-4.1,-2.7 Q-2.5,0 -4.1,2.7" fill="none" stroke="#1a8a1a" stroke-width="0.4"/><path d="M-2.4,-2.7 Q-0.8,0 -2.4,2.7" fill="none" stroke="#1a8a1a" stroke-width="0.4"/><path d="M-0.7,-2.7 Q0.9,0 -0.7,2.7" fill="none" stroke="#1a8a1a" stroke-width="0.4"/><path d="M1.0,-2.7 Q2.6,0 1.0,2.7" fill="none" stroke="#1a8a1a" stroke-width="0.4"/><path d="M2.7,-2.7 Q4.3,0 2.7,2.7" fill="none" stroke="#1a8a1a" stroke-width="0.4"/><path d="M4.4,-2.7 Q6.0,0 4.4,2.7" fill="none" stroke="#1a8a1a" stroke-width="0.4"/></g>
<g transform="translate(325.0,416.0) rotate(-21.13140817182833)"><rect x="-5.2" y="-2.7" width="10.5" height="5.4" rx="2.2" fill="#3ee83e" stroke="#1a8a1a" stroke-width="0.5"/><path d="M-4.1,-2.7 Q-2.5,0 -4.1,2.7" fill="none" stroke="#1a8a1a" stroke-width="0.4"/><path d="M-2.4,-2.7 Q-0.8,0 -2.4,2.7" fill="none" stroke="#1a8a1a" stroke-width="0.4"/><path d="M-0.7,-2.7 Q0.9,0 -0.7,2.7" fill="none" stroke="#1a8a1a" stroke-width="0.4"/><path d="M1.0,-2.7 Q2.6,0 1.0,2.7" fill="none" stroke="#1a8a1a" stroke-width="0.4"/><path d="M2.7,-2.7 Q4.3,0 2.7,2.7" fill="none" stroke="#1a8a1a" stroke-width="0.4"/><path d="M4.4,-2.7 Q6.0,0 4.4,2.7" fill="none" stroke="#1a8a1a" stroke-width="0.4"/></g>
<g transform="translate(327.6,400.0) rotate(-67.27690295094885)"><rect x="-5.2" y="-2.7" width="10.5" height="5.4" rx="2.2" fill="#3ee83e" stroke="#1a8a1a" stroke-width="0.5"/><path d="M-4.1,-2.7 Q-2.5,0 -4.1,2.7" fill="none" stroke="#1a8a1a" stroke-width="0.4"/><path d="M-2.4,-2.7 Q-0.8,0 -2.4,2.7" fill="none" stroke="#1a8a1a" stroke-width="0.4"/><path d="M-0.7,-2.7 Q0.9,0 -0.7,2.7" fill="none" stroke="#1a8a1a" stroke-width="0.4"/><path d="M1.0,-2.7 Q2.6,0 1.0,2.7" fill="none" stroke="#1a8a1a" stroke-width="0.4"/><path d="M2.7,-2.7 Q4.3,0 2.7,2.7" fill="none" stroke="#1a8a1a" stroke-width="0.4"/><path d="M4.4,-2.7 Q6.0,0 4.4,2.7" fill="none" stroke="#1a8a1a" stroke-width="0.4"/></g>
<g transform="translate(333.1,405.1) rotate(-4.920795459567195)"><rect x="-5.2" y="-2.7" width="10.5" height="5.4" rx="2.2" fill="#3ee83e" stroke="#1a8a1a" stroke-width="0.5"/><path d="M-4.1,-2.7 Q-2.5,0 -4.1,2.7" fill="none" stroke="#1a8a1a" stroke-width="0.4"/><path d="M-2.4,-2.7 Q-0.8,0 -2.4,2.7" fill="none" stroke="#1a8a1a" stroke-width="0.4"/><path d="M-0.7,-2.7 Q0.9,0 -0.7,2.7" fill="none" stroke="#1a8a1a" stroke-width="0.4"/><path d="M1.0,-2.7 Q2.6,0 1.0,2.7" fill="none" stroke="#1a8a1a" stroke-width="0.4"/><path d="M2.7,-2.7 Q4.3,0 2.7,2.7" fill="none" stroke="#1a8a1a" stroke-width="0.4"/><path d="M4.4,-2.7 Q6.0,0 4.4,2.7" fill="none" stroke="#1a8a1a" stroke-width="0.4"/></g>
<g transform="translate(339.3,390.0) rotate(-55.16162280416111)"><rect x="-5.2" y="-2.7" width="10.5" height="5.4" rx="2.2" fill="#3ee83e" stroke="#1a8a1a" stroke-width="0.5"/><path d="M-4.1,-2.7 Q-2.5,0 -4.1,2.7" fill="none" stroke="#1a8a1a" stroke-width="0.4"/><path d="M-2.4,-2.7 Q-0.8,0 -2.4,2.7" fill="none" stroke="#1a8a1a" stroke-width="0.4"/><path d="M-0.7,-2.7 Q0.9,0 -0.7,2.7" fill="none" stroke="#1a8a1a" stroke-width="0.4"/><path d="M1.0,-2.7 Q2.6,0 1.0,2.7" fill="none" stroke="#1a8a1a" stroke-width="0.4"/><path d="M2.7,-2.7 Q4.3,0 2.7,2.7" fill="none" stroke="#1a8a1a" stroke-width="0.4"/><path d="M4.4,-2.7 Q6.0,0 4.4,2.7" fill="none" stroke="#1a8a1a" stroke-width="0.4"/></g>
<g transform="translate(343.4,396.3) rotate(7.757199946646672)"><rect x="-5.2" y="-2.7" width="10.5" height="5.4" rx="2.2" fill="#3ee83e" stroke="#1a8a1a" stroke-width="0.5"/><path d="M-4.1,-2.7 Q-2.5,0 -4.1,2.7" fill="none" stroke="#1a8a1a" stroke-width="0.4"/><path d="M-2.4,-2.7 Q-0.8,0 -2.4,2.7" fill="none" stroke="#1a8a1a" stroke-width="0.4"/><path d="M-0.7,-2.7 Q0.9,0 -0.7,2.7" fill="none" stroke="#1a8a1a" stroke-width="0.4"/><path d="M1.0,-2.7 Q2.6,0 1.0,2.7" fill="none" stroke="#1a8a1a" stroke-width="0.4"/><path d="M2.7,-2.7 Q4.3,0 2.7,2.7" fill="none" stroke="#1a8a1a" stroke-width="0.4"/><path d="M4.4,-2.7 Q6.0,0 4.4,2.7" fill="none" stroke="#1a8a1a" stroke-width="0.4"/></g>
<g transform="translate(352.8,383.0) rotate(-53.53591634746216)"><rect x="-5.2" y="-2.7" width="10.5" height="5.4" rx="2.2" fill="#3ee83e" stroke="#1a8a1a" stroke-width="0.5"/><path d="M-4.1,-2.7 Q-2.5,0 -4.1,2.7" fill="none" stroke="#1a8a1a" stroke-width="0.4"/><path d="M-2.4,-2.7 Q-0.8,0 -2.4,2.7" fill="none" stroke="#1a8a1a" stroke-width="0.4"/><path d="M-0.7,-2.7 Q0.9,0 -0.7,2.7" fill="none" stroke="#1a8a1a" stroke-width="0.4"/><path d="M1.0,-2.7 Q2.6,0 1.0,2.7" fill="none" stroke="#1a8a1a" stroke-width="0.4"/><path d="M2.7,-2.7 Q4.3,0 2.7,2.7" fill="none" stroke="#1a8a1a" stroke-width="0.4"/><path d="M4.4,-2.7 Q6.0,0 4.4,2.7" fill="none" stroke="#1a8a1a" stroke-width="0.4"/></g>
<g transform="translate(355.5,390.0) rotate(13.449962470049686)"><rect x="-5.2" y="-2.7" width="10.5" height="5.4" rx="2.2" fill="#3ee83e" stroke="#1a8a1a" stroke-width="0.5"/><path d="M-4.1,-2.7 Q-2.5,0 -4.1,2.7" fill="none" stroke="#1a8a1a" stroke-width="0.4"/><path d="M-2.4,-2.7 Q-0.8,0 -2.4,2.7" fill="none" stroke="#1a8a1a" stroke-width="0.4"/><path d="M-0.7,-2.7 Q0.9,0 -0.7,2.7" fill="none" stroke="#1a8a1a" stroke-width="0.4"/><path d="M1.0,-2.7 Q2.6,0 1.0,2.7" fill="none" stroke="#1a8a1a" stroke-width="0.4"/><path d="M2.7,-2.7 Q4.3,0 2.7,2.7" fill="none" stroke="#1a8a1a" stroke-width="0.4"/><path d="M4.4,-2.7 Q6.0,0 4.4,2.7" fill="none" stroke="#1a8a1a" stroke-width="0.4"/></g>
<g transform="translate(367.6,379.2) rotate(-25.90629252802698)"><rect x="-5.2" y="-2.7" width="10.5" height="5.4" rx="2.2" fill="#3ee83e" stroke="#1a8a1a" stroke-width="0.5"/><path d="M-4.1,-2.7 Q-2.5,0 -4.1,2.7" fill="none" stroke="#1a8a1a" stroke-width="0.4"/><path d="M-2.4,-2.7 Q-0.8,0 -2.4,2.7" fill="none" stroke="#1a8a1a" stroke-width="0.4"/><path d="M-0.7,-2.7 Q0.9,0 -0.7,2.7" fill="none" stroke="#1a8a1a" stroke-width="0.4"/><path d="M1.0,-2.7 Q2.6,0 1.0,2.7" fill="none" stroke="#1a8a1a" stroke-width="0.4"/><path d="M2.7,-2.7 Q4.3,0 2.7,2.7" fill="none" stroke="#1a8a1a" stroke-width="0.4"/><path d="M4.4,-2.7 Q6.0,0 4.4,2.7" fill="none" stroke="#1a8a1a" stroke-width="0.4"/></g>
<g transform="translate(368.6,386.6) rotate(29.383592850190787)"><rect x="-5.2" y="-2.7" width="10.5" height="5.4" rx="2.2" fill="#3ee83e" stroke="#1a8a1a" stroke-width="0.5"/><path d="M-4.1,-2.7 Q-2.5,0 -4.1,2.7" fill="none" stroke="#1a8a1a" stroke-width="0.4"/><path d="M-2.4,-2.7 Q-0.8,0 -2.4,2.7" fill="none" stroke="#1a8a1a" stroke-width="0.4"/><path d="M-0.7,-2.7 Q0.9,0 -0.7,2.7" fill="none" stroke="#1a8a1a" stroke-width="0.4"/><path d="M1.0,-2.7 Q2.6,0 1.0,2.7" fill="none" stroke="#1a8a1a" stroke-width="0.4"/><path d="M2.7,-2.7 Q4.3,0 2.7,2.7" fill="none" stroke="#1a8a1a" stroke-width="0.4"/><path d="M4.4,-2.7 Q6.0,0 4.4,2.7" fill="none" stroke="#1a8a1a" stroke-width="0.4"/></g>
<g transform="translate(382.9,378.8) rotate(-13.585592131990037)"><rect x="-5.2" y="-2.7" width="10.5" height="5.4" rx="2.2" fill="#3ee83e" stroke="#1a8a1a" stroke-width="0.5"/><path d="M-4.1,-2.7 Q-2.5,0 -4.1,2.7" fill="none" stroke="#1a8a1a" stroke-width="0.4"/><path d="M-2.4,-2.7 Q-0.8,0 -2.4,2.7" fill="none" stroke="#1a8a1a" stroke-width="0.4"/><path d="M-0.7,-2.7 Q0.9,0 -0.7,2.7" fill="none" stroke="#1a8a1a" stroke-width="0.4"/><path d="M1.0,-2.7 Q2.6,0 1.0,2.7" fill="none" stroke="#1a8a1a" stroke-width="0.4"/><path d="M2.7,-2.7 Q4.3,0 2.7,2.7" fill="none" stroke="#1a8a1a" stroke-width="0.4"/><path d="M4.4,-2.7 Q6.0,0 4.4,2.7" fill="none" stroke="#1a8a1a" stroke-width="0.4"/></g>
<g transform="translate(382.2,386.2) rotate(33.81129543445031)"><rect x="-5.2" y="-2.7" width="10.5" height="5.4" rx="2.2" fill="#3ee83e" stroke="#1a8a1a" stroke-width="0.5"/><path d="M-4.1,-2.7 Q-2.5,0 -4.1,2.7" fill="none" stroke="#1a8a1a" stroke-width="0.4"/><path d="M-2.4,-2.7 Q-0.8,0 -2.4,2.7" fill="none" stroke="#1a8a1a" stroke-width="0.4"/><path d="M-0.7,-2.7 Q0.9,0 -0.7,2.7" fill="none" stroke="#1a8a1a" stroke-width="0.4"/><path d="M1.0,-2.7 Q2.6,0 1.0,2.7" fill="none" stroke="#1a8a1a" stroke-width="0.4"/><path d="M2.7,-2.7 Q4.3,0 2.7,2.7" fill="none" stroke="#1a8a1a" stroke-width="0.4"/><path d="M4.4,-2.7 Q6.0,0 4.4,2.7" fill="none" stroke="#1a8a1a" stroke-width="0.4"/></g>
<g transform="translate(397.9,381.8) rotate(-7.49489523548538)"><rect x="-5.2" y="-2.7" width="10.5" height="5.4" rx="2.2" fill="#3ee83e" stroke="#1a8a1a" stroke-width="0.5"/><path d="M-4.1,-2.7 Q-2.5,0 -4.1,2.7" fill="none" stroke="#1a8a1a" stroke-width="0.4"/><path d="M-2.4,-2.7 Q-0.8,0 -2.4,2.7" fill="none" stroke="#1a8a1a" stroke-width="0.4"/><path d="M-0.7,-2.7 Q0.9,0 -0.7,2.7" fill="none" stroke="#1a8a1a" stroke-width="0.4"/><path d="M1.0,-2.7 Q2.6,0 1.0,2.7" fill="none" stroke="#1a8a1a" stroke-width="0.4"/><path d="M2.7,-2.7 Q4.3,0 2.7,2.7" fill="none" stroke="#1a8a1a" stroke-width="0.4"/><path d="M4.4,-2.7 Q6.0,0 4.4,2.7" fill="none" stroke="#1a8a1a" stroke-width="0.4"/></g>
<g transform="translate(395.5,388.9) rotate(48.94516532191729)"><rect x="-5.2" y="-2.7" width="10.5" height="5.4" rx="2.2" fill="#3ee83e" stroke="#1a8a1a" stroke-width="0.5"/><path d="M-4.1,-2.7 Q-2.5,0 -4.1,2.7" fill="none" stroke="#1a8a1a" stroke-width="0.4"/><path d="M-2.4,-2.7 Q-0.8,0 -2.4,2.7" fill="none" stroke="#1a8a1a" stroke-width="0.4"/><path d="M-0.7,-2.7 Q0.9,0 -0.7,2.7" fill="none" stroke="#1a8a1a" stroke-width="0.4"/><path d="M1.0,-2.7 Q2.6,0 1.0,2.7" fill="none" stroke="#1a8a1a" stroke-width="0.4"/><path d="M2.7,-2.7 Q4.3,0 2.7,2.7" fill="none" stroke="#1a8a1a" stroke-width="0.4"/><path d="M4.4,-2.7 Q6.0,0 4.4,2.7" fill="none" stroke="#1a8a1a" stroke-width="0.4"/></g>
<g transform="translate(410.8,387.5) rotate(5.700173747774887)"><rect x="-5.2" y="-2.7" width="10.5" height="5.4" rx="2.2" fill="#3ee83e" stroke="#1a8a1a" stroke-width="0.5"/><path d="M-4.1,-2.7 Q-2.5,0 -4.1,2.7" fill="none" stroke="#1a8a1a" stroke-width="0.4"/><path d="M-2.4,-2.7 Q-0.8,0 -2.4,2.7" fill="none" stroke="#1a8a1a" stroke-width="0.4"/><path d="M-0.7,-2.7 Q0.9,0 -0.7,2.7" fill="none" stroke="#1a8a1a" stroke-width="0.4"/><path d="M1.0,-2.7 Q2.6,0 1.0,2.7" fill="none" stroke="#1a8a1a" stroke-width="0.4"/><path d="M2.7,-2.7 Q4.3,0 2.7,2.7" fill="none" stroke="#1a8a1a" stroke-width="0.4"/><path d="M4.4,-2.7 Q6.0,0 4.4,2.7" fill="none" stroke="#1a8a1a" stroke-width="0.4"/></g>
<g transform="translate(407.0,394.0) rotate(66.18305900684962)"><rect x="-5.2" y="-2.7" width="10.5" height="5.4" rx="2.2" fill="#3ee83e" stroke="#1a8a1a" stroke-width="0.5"/><path d="M-4.1,-2.7 Q-2.5,0 -4.1,2.7" fill="none" stroke="#1a8a1a" stroke-width="0.4"/><path d="M-2.4,-2.7 Q-0.8,0 -2.4,2.7" fill="none" stroke="#1a8a1a" stroke-width="0.4"/><path d="M-0.7,-2.7 Q0.9,0 -0.7,2.7" fill="none" stroke="#1a8a1a" stroke-width="0.4"/><path d="M1.0,-2.7 Q2.6,0 1.0,2.7" fill="none" stroke="#1a8a1a" stroke-width="0.4"/><path d="M2.7,-2.7 Q4.3,0 2.7,2.7" fill="none" stroke="#1a8a1a" stroke-width="0.4"/><path d="M4.4,-2.7 Q6.0,0 4.4,2.7" fill="none" stroke="#1a8a1a" stroke-width="0.4"/></g>
<g transform="translate(332.6,417.1) rotate(18)"><rect x="-3.8" y="-2.2" width="7.5" height="4.4" rx="1.8" fill="#3ee83e" stroke="#1a8a1a" stroke-width="0.5"/><path d="M-2.6,-2.2 Q-1.0,0 -2.6,2.2" fill="none" stroke="#1a8a1a" stroke-width="0.4"/><path d="M-0.9,-2.2 Q0.7,0 -0.9,2.2" fill="none" stroke="#1a8a1a" stroke-width="0.4"/><path d="M0.8,-2.2 Q2.4,0 0.8,2.2" fill="none" stroke="#1a8a1a" stroke-width="0.4"/><path d="M2.5,-2.2 Q4.1,0 2.5,2.2" fill="none" stroke="#1a8a1a" stroke-width="0.4"/></g>
<g transform="translate(338.8,405.0) rotate(32)"><rect x="-3.8" y="-2.2" width="7.5" height="4.4" rx="1.8" fill="#3ee83e" stroke="#1a8a1a" stroke-width="0.5"/><path d="M-2.6,-2.2 Q-1.0,0 -2.6,2.2" fill="none" stroke="#1a8a1a" stroke-width="0.4"/><path d="M-0.9,-2.2 Q0.7,0 -0.9,2.2" fill="none" stroke="#1a8a1a" stroke-width="0.4"/><path d="M0.8,-2.2 Q2.4,0 0.8,2.2" fill="none" stroke="#1a8a1a" stroke-width="0.4"/><path d="M2.5,-2.2 Q4.1,0 2.5,2.2" fill="none" stroke="#1a8a1a" stroke-width="0.4"/></g>
<g transform="translate(351.6,393.9) rotate(49)"><rect x="-3.8" y="-2.2" width="7.5" height="4.4" rx="1.8" fill="#3ee83e" stroke="#1a8a1a" stroke-width="0.5"/><path d="M-2.6,-2.2 Q-1.0,0 -2.6,2.2" fill="none" stroke="#1a8a1a" stroke-width="0.4"/><path d="M-0.9,-2.2 Q0.7,0 -0.9,2.2" fill="none" stroke="#1a8a1a" stroke-width="0.4"/><path d="M0.8,-2.2 Q2.4,0 0.8,2.2" fill="none" stroke="#1a8a1a" stroke-width="0.4"/><path d="M2.5,-2.2 Q4.1,0 2.5,2.2" fill="none" stroke="#1a8a1a" stroke-width="0.4"/></g>
<g transform="translate(366.7,387.4) rotate(65)"><rect x="-3.8" y="-2.2" width="7.5" height="4.4" rx="1.8" fill="#3ee83e" stroke="#1a8a1a" stroke-width="0.5"/><path d="M-2.6,-2.2 Q-1.0,0 -2.6,2.2" fill="none" stroke="#1a8a1a" stroke-width="0.4"/><path d="M-0.9,-2.2 Q0.7,0 -0.9,2.2" fill="none" stroke="#1a8a1a" stroke-width="0.4"/><path d="M0.8,-2.2 Q2.4,0 0.8,2.2" fill="none" stroke="#1a8a1a" stroke-width="0.4"/><path d="M2.5,-2.2 Q4.1,0 2.5,2.2" fill="none" stroke="#1a8a1a" stroke-width="0.4"/></g>
<g transform="translate(384.2,387.4) rotate(82)"><rect x="-3.8" y="-2.2" width="7.5" height="4.4" rx="1.8" fill="#3ee83e" stroke="#1a8a1a" stroke-width="0.5"/><path d="M-2.6,-2.2 Q-1.0,0 -2.6,2.2" fill="none" stroke="#1a8a1a" stroke-width="0.4"/><path d="M-0.9,-2.2 Q0.7,0 -0.9,2.2" fill="none" stroke="#1a8a1a" stroke-width="0.4"/><path d="M0.8,-2.2 Q2.4,0 0.8,2.2" fill="none" stroke="#1a8a1a" stroke-width="0.4"/><path d="M2.5,-2.2 Q4.1,0 2.5,2.2" fill="none" stroke="#1a8a1a" stroke-width="0.4"/></g>
<g transform="translate(399.5,393.1) rotate(98)"><rect x="-3.8" y="-2.2" width="7.5" height="4.4" rx="1.8" fill="#3ee83e" stroke="#1a8a1a" stroke-width="0.5"/><path d="M-2.6,-2.2 Q-1.0,0 -2.6,2.2" fill="none" stroke="#1a8a1a" stroke-width="0.4"/><path d="M-0.9,-2.2 Q0.7,0 -0.9,2.2" fill="none" stroke="#1a8a1a" stroke-width="0.4"/><path d="M0.8,-2.2 Q2.4,0 0.8,2.2" fill="none" stroke="#1a8a1a" stroke-width="0.4"/><path d="M2.5,-2.2 Q4.1,0 2.5,2.2" fill="none" stroke="#1a8a1a" stroke-width="0.4"/></g>
<g transform="translate(321.5,428.8) rotate(58)"><rect x="-13.5" y="-3.6" width="27.0" height="7.2" rx="2.9" fill="#3ee83e" stroke="#1a8a1a" stroke-width="0.5"/><path d="M-12.2,-3.6 Q-10.6,0 -12.2,3.6" fill="none" stroke="#1a8a1a" stroke-width="0.4"/><path d="M-10.4,-3.6 Q-8.8,0 -10.4,3.6" fill="none" stroke="#1a8a1a" stroke-width="0.4"/><path d="M-8.6,-3.6 Q-7.0,0 -8.6,3.6" fill="none" stroke="#1a8a1a" stroke-width="0.4"/><path d="M-6.8,-3.6 Q-5.2,0 -6.8,3.6" fill="none" stroke="#1a8a1a" stroke-width="0.4"/><path d="M-5.0,-3.6 Q-3.4,0 -5.0,3.6" fill="none" stroke="#1a8a1a" stroke-width="0.4"/><path d="M-3.2,-3.6 Q-1.6,0 -3.2,3.6" fill="none" stroke="#1a8a1a" stroke-width="0.4"/><path d="M-1.4,-3.6 Q0.2,0 -1.4,3.6" fill="none" stroke="#1a8a1a" stroke-width="0.4"/><path d="M0.4,-3.6 Q2.0,0 0.4,3.6" fill="none" stroke="#1a8a1a" stroke-width="0.4"/><path d="M2.2,-3.6 Q3.8,0 2.2,3.6" fill="none" stroke="#1a8a1a" stroke-width="0.4"/><path d="M4.0,-3.6 Q5.6,0 4.0,3.6" fill="none" stroke="#1a8a1a" stroke-width="0.4"/><path d="M5.8,-3.6 Q7.4,0 5.8,3.6" fill="none" stroke="#1a8a1a" stroke-width="0.4"/><path d="M7.6,-3.6 Q9.2,0 7.6,3.6" fill="none" stroke="#1a8a1a" stroke-width="0.4"/><path d="M9.4,-3.6 Q11.0,0 9.4,3.6" fill="none" stroke="#1a8a1a" stroke-width="0.4"/><path d="M11.2,-3.6 Q12.8,0 11.2,3.6" fill="none" stroke="#1a8a1a" stroke-width="0.4"/></g>
<circle cx="335.2" cy="425.6" r="3.7" fill="#3ee83e" stroke="#1a8a1a" stroke-width="1.0"/>
<circle cx="335.2" cy="425.6" r="1.85" fill="#e8f8e0" stroke="#1a8a1a" stroke-width="0.9"/>
<circle cx="339.3" cy="415.5" r="4.0" fill="#3ee83e" stroke="#1a8a1a" stroke-width="1.0"/>
<circle cx="339.3" cy="415.5" r="2.00" fill="#e8f8e0" stroke="#1a8a1a" stroke-width="0.9"/>
<circle cx="347.7" cy="404.2" r="4.1" fill="#3ee83e" stroke="#1a8a1a" stroke-width="1.0"/>
<circle cx="347.7" cy="404.2" r="2.05" fill="#e8f8e0" stroke="#1a8a1a" stroke-width="0.9"/>
<circle cx="360.5" cy="395.1" r="4.2" fill="#3ee83e" stroke="#1a8a1a" stroke-width="1.0"/>
<circle cx="360.5" cy="395.1" r="2.10" fill="#e8f8e0" stroke="#1a8a1a" stroke-width="0.9"/>
<circle cx="375.1" cy="392.0" r="4.2" fill="#3ee83e" stroke="#1a8a1a" stroke-width="1.0"/>
<circle cx="375.1" cy="392.0" r="2.10" fill="#e8f8e0" stroke="#1a8a1a" stroke-width="0.9"/>
<circle cx="389.9" cy="394.1" r="4.0" fill="#3ee83e" stroke="#1a8a1a" stroke-width="1.0"/>
<circle cx="389.9" cy="394.1" r="2.00" fill="#e8f8e0" stroke="#1a8a1a" stroke-width="0.9"/>
<circle cx="403.2" cy="400.5" r="3.6" fill="#3ee83e" stroke="#1a8a1a" stroke-width="1.0"/>
<circle cx="403.2" cy="400.5" r="1.80" fill="#e8f8e0" stroke="#1a8a1a" stroke-width="0.9"/>
<line x1="345.00" y1="407.00" x2="357.00" y2="414.00" stroke="#5a6ab8" stroke-width="0.6" />
<line x1="355.00" y1="404.00" x2="362.00" y2="411.00" stroke="#5a6ab8" stroke-width="0.6" />
<line x1="366.00" y1="399.00" x2="370.00" y2="408.00" stroke="#5a6ab8" stroke-width="0.6" />
<line x1="379.00" y1="398.00" x2="380.00" y2="407.00" stroke="#5a6ab8" stroke-width="0.6" />
<line x1="388.00" y1="402.00" x2="388.00" y2="409.00" stroke="#5a6ab8" stroke-width="0.6" />
<line x1="396.00" y1="405.00" x2="397.00" y2="411.00" stroke="#5a6ab8" stroke-width="0.6" />
<line x1="395.00" y1="431.00" x2="402.00" y2="434.00" stroke="#5a6ab8" stroke-width="0.6" />
<line x1="350.00" y1="410.00" x2="356.00" y2="413.00" stroke="#5a6ab8" stroke-width="0.6" />
<path d="M357,415.5 C364,411 371,408.2 379,408.3 C386,408.5 396,410 401.8,419.3 C404.5,424 404.5,428 404,431 C403.6,434 403,436 402.5,438" fill="none" stroke="#e07b1a" stroke-width="1.6"/>
<g transform="translate(409.0,401.0) rotate(70)"><rect x="-5.0" y="-2.8" width="10.0" height="5.5" rx="2.2" fill="#6fbf3f" stroke="#3a7a1a" stroke-width="0.5"/><path d="M-3.9,-2.8 Q-2.4,0 -3.9,2.8" fill="none" stroke="#3a7a1a" stroke-width="0.4"/><path d="M-2.3,-2.8 Q-0.8,0 -2.3,2.8" fill="none" stroke="#3a7a1a" stroke-width="0.4"/><path d="M-0.7,-2.8 Q0.8,0 -0.7,2.8" fill="none" stroke="#3a7a1a" stroke-width="0.4"/><path d="M0.9,-2.8 Q2.4,0 0.9,2.8" fill="none" stroke="#3a7a1a" stroke-width="0.4"/><path d="M2.5,-2.8 Q4.0,0 2.5,2.8" fill="none" stroke="#3a7a1a" stroke-width="0.4"/><path d="M4.1,-2.8 Q5.6,0 4.1,2.8" fill="none" stroke="#3a7a1a" stroke-width="0.4"/></g>
<g transform="translate(415.5,398.0) rotate(10)"><rect x="-4.5" y="-3.0" width="9.0" height="6.0" rx="2.4" fill="#3ee83e" stroke="#1a8a1a" stroke-width="0.5"/><path d="M-3.4,-3.0 Q-1.9,0 -3.4,3.0" fill="none" stroke="#1a8a1a" stroke-width="0.4"/><path d="M-1.8,-3.0 Q-0.3,0 -1.8,3.0" fill="none" stroke="#1a8a1a" stroke-width="0.4"/><path d="M-0.2,-3.0 Q1.3,0 -0.2,3.0" fill="none" stroke="#1a8a1a" stroke-width="0.4"/><path d="M1.4,-3.0 Q2.9,0 1.4,3.0" fill="none" stroke="#1a8a1a" stroke-width="0.4"/><path d="M3.0,-3.0 Q4.5,0 3.0,3.0" fill="none" stroke="#1a8a1a" stroke-width="0.4"/></g>
<g transform="translate(421.0,402.0) rotate(-10)"><rect x="-3.0" y="-2.5" width="6.0" height="5.0" rx="2.0" fill="#3ee83e" stroke="#1a8a1a" stroke-width="0.5"/><path d="M-1.9,-2.5 Q-0.4,0 -1.9,2.5" fill="none" stroke="#1a8a1a" stroke-width="0.4"/><path d="M-0.3,-2.5 Q1.2,0 -0.3,2.5" fill="none" stroke="#1a8a1a" stroke-width="0.4"/><path d="M1.3,-2.5 Q2.8,0 1.3,2.5" fill="none" stroke="#1a8a1a" stroke-width="0.4"/></g>
<ellipse cx="425.5" cy="403.5" rx="2.8" ry="2.4" fill="#ecec28"/>
<ellipse cx="430" cy="401" rx="2" ry="1.6" fill="#d8d830"/>
<path d="M433,400 Q437,397 441,401 Q443,406 438,408 Q434,404 433,400 Z" fill="#f4d8f4" stroke="#8a208a" stroke-width="0.8"/>
<circle cx="428.8" cy="411.6" r="3" fill="#e030e0" stroke="#7e137e" stroke-width="0.5"/>
<g transform="translate(413.0,416.0) rotate(50)"><ellipse cx="-4.9" cy="0" rx="1.82" ry="3.25" fill="none" stroke="#7e137e" stroke-width="1.3"/><ellipse cx="-4.9" cy="0" rx="1.82" ry="3.25" fill="none" stroke="#cf2ccf" stroke-width="0.7"/><ellipse cx="-3.0" cy="0" rx="1.82" ry="3.25" fill="none" stroke="#7e137e" stroke-width="1.3"/><ellipse cx="-3.0" cy="0" rx="1.82" ry="3.25" fill="none" stroke="#cf2ccf" stroke-width="0.7"/><ellipse cx="-1.1" cy="0" rx="1.82" ry="3.25" fill="none" stroke="#7e137e" stroke-width="1.3"/><ellipse cx="-1.1" cy="0" rx="1.82" ry="3.25" fill="none" stroke="#cf2ccf" stroke-width="0.7"/><ellipse cx="0.8" cy="0" rx="1.82" ry="3.25" fill="none" stroke="#7e137e" stroke-width="1.3"/><ellipse cx="0.8" cy="0" rx="1.82" ry="3.25" fill="none" stroke="#cf2ccf" stroke-width="0.7"/><ellipse cx="2.7" cy="0" rx="1.82" ry="3.25" fill="none" stroke="#7e137e" stroke-width="1.3"/><ellipse cx="2.7" cy="0" rx="1.82" ry="3.25" fill="none" stroke="#cf2ccf" stroke-width="0.7"/><ellipse cx="4.6" cy="0" rx="1.82" ry="3.25" fill="none" stroke="#7e137e" stroke-width="1.3"/><ellipse cx="4.6" cy="0" rx="1.82" ry="3.25" fill="none" stroke="#cf2ccf" stroke-width="0.7"/></g>
<g transform="translate(424.5,418.0) rotate(40)"><rect x="-6.0" y="-3.0" width="12.0" height="6.0" rx="2.4" fill="#cf2ccf" stroke="#7e137e" stroke-width="0.5"/><path d="M-4.7,-3.0 Q-3.1,0 -4.7,3.0" fill="none" stroke="#7e137e" stroke-width="0.4"/><path d="M-2.9,-3.0 Q-1.3,0 -2.9,3.0" fill="none" stroke="#7e137e" stroke-width="0.4"/><path d="M-1.1,-3.0 Q0.5,0 -1.1,3.0" fill="none" stroke="#7e137e" stroke-width="0.4"/><path d="M0.7,-3.0 Q2.3,0 0.7,3.0" fill="none" stroke="#7e137e" stroke-width="0.4"/><path d="M2.5,-3.0 Q4.1,0 2.5,3.0" fill="none" stroke="#7e137e" stroke-width="0.4"/><path d="M4.3,-3.0 Q5.9,0 4.3,3.0" fill="none" stroke="#7e137e" stroke-width="0.4"/></g>
<g transform="translate(419.3,430.5) rotate(80)"><ellipse cx="-5.8" cy="0" rx="1.96" ry="3.50" fill="none" stroke="#7e137e" stroke-width="1.3"/><ellipse cx="-5.8" cy="0" rx="1.96" ry="3.50" fill="none" stroke="#cf2ccf" stroke-width="0.7"/><ellipse cx="-3.9" cy="0" rx="1.96" ry="3.50" fill="none" stroke="#7e137e" stroke-width="1.3"/><ellipse cx="-3.9" cy="0" rx="1.96" ry="3.50" fill="none" stroke="#cf2ccf" stroke-width="0.7"/><ellipse cx="-2.0" cy="0" rx="1.96" ry="3.50" fill="none" stroke="#7e137e" stroke-width="1.3"/><ellipse cx="-2.0" cy="0" rx="1.96" ry="3.50" fill="none" stroke="#cf2ccf" stroke-width="0.7"/><ellipse cx="-0.1" cy="0" rx="1.96" ry="3.50" fill="none" stroke="#7e137e" stroke-width="1.3"/><ellipse cx="-0.1" cy="0" rx="1.96" ry="3.50" fill="none" stroke="#cf2ccf" stroke-width="0.7"/><ellipse cx="1.8" cy="0" rx="1.96" ry="3.50" fill="none" stroke="#7e137e" stroke-width="1.3"/><ellipse cx="1.8" cy="0" rx="1.96" ry="3.50" fill="none" stroke="#cf2ccf" stroke-width="0.7"/><ellipse cx="3.7" cy="0" rx="1.96" ry="3.50" fill="none" stroke="#7e137e" stroke-width="1.3"/><ellipse cx="3.7" cy="0" rx="1.96" ry="3.50" fill="none" stroke="#cf2ccf" stroke-width="0.7"/><ellipse cx="5.6" cy="0" rx="1.96" ry="3.50" fill="none" stroke="#7e137e" stroke-width="1.3"/><ellipse cx="5.6" cy="0" rx="1.96" ry="3.50" fill="none" stroke="#cf2ccf" stroke-width="0.7"/></g>
<g transform="translate(434.6,428.0) rotate(60)"><ellipse cx="-4.4" cy="0" rx="1.82" ry="3.25" fill="none" stroke="#7e137e" stroke-width="1.3"/><ellipse cx="-4.4" cy="0" rx="1.82" ry="3.25" fill="none" stroke="#cf2ccf" stroke-width="0.7"/><ellipse cx="-2.5" cy="0" rx="1.82" ry="3.25" fill="none" stroke="#7e137e" stroke-width="1.3"/><ellipse cx="-2.5" cy="0" rx="1.82" ry="3.25" fill="none" stroke="#cf2ccf" stroke-width="0.7"/><ellipse cx="-0.6" cy="0" rx="1.82" ry="3.25" fill="none" stroke="#7e137e" stroke-width="1.3"/><ellipse cx="-0.6" cy="0" rx="1.82" ry="3.25" fill="none" stroke="#cf2ccf" stroke-width="0.7"/><ellipse cx="1.3" cy="0" rx="1.82" ry="3.25" fill="none" stroke="#7e137e" stroke-width="1.3"/><ellipse cx="1.3" cy="0" rx="1.82" ry="3.25" fill="none" stroke="#cf2ccf" stroke-width="0.7"/><ellipse cx="3.2" cy="0" rx="1.82" ry="3.25" fill="none" stroke="#7e137e" stroke-width="1.3"/><ellipse cx="3.2" cy="0" rx="1.82" ry="3.25" fill="none" stroke="#cf2ccf" stroke-width="0.7"/></g>
<g transform="translate(430.0,421.0) rotate(20)"><ellipse cx="-2.2" cy="0" rx="1.40" ry="2.50" fill="none" stroke="#7e137e" stroke-width="1.3"/><ellipse cx="-2.2" cy="0" rx="1.40" ry="2.50" fill="none" stroke="#cf2ccf" stroke-width="0.7"/><ellipse cx="-0.4" cy="0" rx="1.40" ry="2.50" fill="none" stroke="#7e137e" stroke-width="1.3"/><ellipse cx="-0.4" cy="0" rx="1.40" ry="2.50" fill="none" stroke="#cf2ccf" stroke-width="0.7"/><ellipse cx="1.5" cy="0" rx="1.40" ry="2.50" fill="none" stroke="#7e137e" stroke-width="1.3"/><ellipse cx="1.5" cy="0" rx="1.40" ry="2.50" fill="none" stroke="#cf2ccf" stroke-width="0.7"/></g>
<line x1="403.00" y1="426.00" x2="409.00" y2="423.00" stroke="#3aa0a0" stroke-width="0.6" />
<line x1="406.00" y1="432.00" x2="412.00" y2="430.00" stroke="#3aa0a0" stroke-width="0.6" />
<rect x="403.2" y="395.0" width="42.6" height="47.0" fill="none" stroke="#b0283c" stroke-width="1"/>
<text x="383.20" y="425.40" font-size="8.5" text-anchor="middle" fill="#231f20" stroke="#231f20" stroke-width="0.06" >RNA</text>
<text x="483.45" y="415.70" font-size="7.6" text-anchor="middle" fill="#231f20" stroke="#231f20" stroke-width="0.06" >p.(His1090Profs*16)</text>
<text x="483.10" y="425.40" font-size="7.6" text-anchor="middle" fill="#231f20" stroke="#231f20" stroke-width="0.06" >mutated region</text>
<text x="2.8" y="469.5" font-size="10.4" font-weight="bold" fill="#000" stroke="#000" stroke-width="0.45">F</text>
<line x1="29.20" y1="479.50" x2="145.40" y2="479.50" stroke="#2a2a2a" stroke-width="1.0" />
<line x1="32.20" y1="479.50" x2="32.20" y2="541.00" stroke="#2a2a2a" stroke-width="1.0" />
<line x1="145.40" y1="479.50" x2="145.40" y2="541.00" stroke="#2a2a2a" stroke-width="1.0" />
<line x1="29.60" y1="534.80" x2="32.20" y2="534.80" stroke="#444" stroke-width="0.5" />
<line x1="30.40" y1="533.27" x2="32.20" y2="533.27" stroke="#444" stroke-width="0.5" />
<line x1="30.40" y1="531.73" x2="32.20" y2="531.73" stroke="#444" stroke-width="0.5" />
<line x1="30.40" y1="530.20" x2="32.20" y2="530.20" stroke="#444" stroke-width="0.5" />
<line x1="30.40" y1="528.67" x2="32.20" y2="528.67" stroke="#444" stroke-width="0.5" />
<line x1="30.40" y1="527.13" x2="32.20" y2="527.13" stroke="#444" stroke-width="0.5" />
<line x1="29.60" y1="525.60" x2="32.20" y2="525.60" stroke="#444" stroke-width="0.5" />
<line x1="30.40" y1="524.07" x2="32.20" y2="524.07" stroke="#444" stroke-width="0.5" />
<line x1="30.40" y1="522.53" x2="32.20" y2="522.53" stroke="#444" stroke-width="0.5" />
<line x1="30.40" y1="521.00" x2="32.20" y2="521.00" stroke="#444" stroke-width="0.5" />
<line x1="30.40" y1="519.47" x2="32.20" y2="519.47" stroke="#444" stroke-width="0.5" />
<line x1="30.40" y1="517.93" x2="32.20" y2="517.93" stroke="#444" stroke-width="0.5" />
<line x1="29.60" y1="516.40" x2="32.20" y2="516.40" stroke="#444" stroke-width="0.5" />
<line x1="30.40" y1="514.87" x2="32.20" y2="514.87" stroke="#444" stroke-width="0.5" />
<line x1="30.40" y1="513.33" x2="32.20" y2="513.33" stroke="#444" stroke-width="0.5" />
<line x1="30.40" y1="511.80" x2="32.20" y2="511.80" stroke="#444" stroke-width="0.5" />
<line x1="30.40" y1="510.27" x2="32.20" y2="510.27" stroke="#444" stroke-width="0.5" />
<line x1="30.40" y1="508.73" x2="32.20" y2="508.73" stroke="#444" stroke-width="0.5" />
<line x1="29.60" y1="507.20" x2="32.20" y2="507.20" stroke="#444" stroke-width="0.5" />
<line x1="30.40" y1="505.67" x2="32.20" y2="505.67" stroke="#444" stroke-width="0.5" />
<line x1="30.40" y1="504.13" x2="32.20" y2="504.13" stroke="#444" stroke-width="0.5" />
<line x1="30.40" y1="502.60" x2="32.20" y2="502.60" stroke="#444" stroke-width="0.5" />
<line x1="30.40" y1="501.07" x2="32.20" y2="501.07" stroke="#444" stroke-width="0.5" />
<line x1="30.40" y1="499.53" x2="32.20" y2="499.53" stroke="#444" stroke-width="0.5" />
<line x1="29.60" y1="498.00" x2="32.20" y2="498.00" stroke="#444" stroke-width="0.5" />
<line x1="30.40" y1="496.47" x2="32.20" y2="496.47" stroke="#444" stroke-width="0.5" />
<line x1="30.40" y1="494.93" x2="32.20" y2="494.93" stroke="#444" stroke-width="0.5" />
<line x1="30.40" y1="493.40" x2="32.20" y2="493.40" stroke="#444" stroke-width="0.5" />
<line x1="30.40" y1="491.87" x2="32.20" y2="491.87" stroke="#444" stroke-width="0.5" />
<line x1="30.40" y1="490.33" x2="32.20" y2="490.33" stroke="#444" stroke-width="0.5" />
<line x1="29.60" y1="488.80" x2="32.20" y2="488.80" stroke="#444" stroke-width="0.5" />
<line x1="30.40" y1="487.27" x2="32.20" y2="487.27" stroke="#444" stroke-width="0.5" />
<line x1="30.40" y1="485.73" x2="32.20" y2="485.73" stroke="#444" stroke-width="0.5" />
<line x1="30.40" y1="484.20" x2="32.20" y2="484.20" stroke="#444" stroke-width="0.5" />
<line x1="30.40" y1="482.67" x2="32.20" y2="482.67" stroke="#444" stroke-width="0.5" />
<line x1="30.40" y1="481.13" x2="32.20" y2="481.13" stroke="#444" stroke-width="0.5" />
<line x1="29.60" y1="479.60" x2="32.20" y2="479.60" stroke="#444" stroke-width="0.5" />
<line x1="30.40" y1="536.33" x2="32.20" y2="536.33" stroke="#444" stroke-width="0.5" />
<line x1="30.40" y1="537.87" x2="32.20" y2="537.87" stroke="#444" stroke-width="0.5" />
<line x1="30.40" y1="539.40" x2="32.20" y2="539.40" stroke="#444" stroke-width="0.5" />
<line x1="30.40" y1="540.93" x2="32.20" y2="540.93" stroke="#444" stroke-width="0.5" />
<line x1="32.20" y1="541.00" x2="32.20" y2="543.60" stroke="#333" stroke-width="0.7" />
<line x1="35.97" y1="541.00" x2="35.97" y2="543.00" stroke="#333" stroke-width="0.7" />
<line x1="39.75" y1="541.00" x2="39.75" y2="543.00" stroke="#333" stroke-width="0.7" />
<line x1="43.52" y1="541.00" x2="43.52" y2="543.00" stroke="#333" stroke-width="0.7" />
<line x1="47.30" y1="541.00" x2="47.30" y2="543.00" stroke="#333" stroke-width="0.7" />
<line x1="51.07" y1="541.00" x2="51.07" y2="543.60" stroke="#333" stroke-width="0.7" />
<line x1="54.84" y1="541.00" x2="54.84" y2="543.00" stroke="#333" stroke-width="0.7" />
<line x1="58.62" y1="541.00" x2="58.62" y2="543.00" stroke="#333" stroke-width="0.7" />
<line x1="62.39" y1="541.00" x2="62.39" y2="543.00" stroke="#333" stroke-width="0.7" />
<line x1="66.17" y1="541.00" x2="66.17" y2="543.00" stroke="#333" stroke-width="0.7" />
<line x1="69.94" y1="541.00" x2="69.94" y2="543.60" stroke="#333" stroke-width="0.7" />
<line x1="73.71" y1="541.00" x2="73.71" y2="543.00" stroke="#333" stroke-width="0.7" />
<line x1="77.49" y1="541.00" x2="77.49" y2="543.00" stroke="#333" stroke-width="0.7" />
<line x1="81.26" y1="541.00" x2="81.26" y2="543.00" stroke="#333" stroke-width="0.7" />
<line x1="85.04" y1="541.00" x2="85.04" y2="543.00" stroke="#333" stroke-width="0.7" />
<line x1="88.81" y1="541.00" x2="88.81" y2="543.60" stroke="#333" stroke-width="0.7" />
<line x1="92.58" y1="541.00" x2="92.58" y2="543.00" stroke="#333" stroke-width="0.7" />
<line x1="96.36" y1="541.00" x2="96.36" y2="543.00" stroke="#333" stroke-width="0.7" />
<line x1="100.13" y1="541.00" x2="100.13" y2="543.00" stroke="#333" stroke-width="0.7" />
<line x1="103.91" y1="541.00" x2="103.91" y2="543.00" stroke="#333" stroke-width="0.7" />
<line x1="107.68" y1="541.00" x2="107.68" y2="543.60" stroke="#333" stroke-width="0.7" />
<line x1="111.45" y1="541.00" x2="111.45" y2="543.00" stroke="#333" stroke-width="0.7" />
<line x1="115.23" y1="541.00" x2="115.23" y2="543.00" stroke="#333" stroke-width="0.7" />
<line x1="119.00" y1="541.00" x2="119.00" y2="543.00" stroke="#333" stroke-width="0.7" />
<line x1="122.78" y1="541.00" x2="122.78" y2="543.00" stroke="#333" stroke-width="0.7" />
<line x1="126.55" y1="541.00" x2="126.55" y2="543.60" stroke="#333" stroke-width="0.7" />
<line x1="130.32" y1="541.00" x2="130.32" y2="543.00" stroke="#333" stroke-width="0.7" />
<line x1="134.10" y1="541.00" x2="134.10" y2="543.00" stroke="#333" stroke-width="0.7" />
<line x1="137.87" y1="541.00" x2="137.87" y2="543.00" stroke="#333" stroke-width="0.7" />
<line x1="141.65" y1="541.00" x2="141.65" y2="543.00" stroke="#333" stroke-width="0.7" />
<line x1="145.42" y1="541.00" x2="145.42" y2="543.60" stroke="#333" stroke-width="0.7" />
<line x1="31.70" y1="541.00" x2="145.90" y2="541.00" stroke="#1e2a22" stroke-width="1.7" />
<text x="32.20" y="551.60" font-size="6.0" text-anchor="middle" fill="#333" stroke="#333" stroke-width="0.06" >0</text>
<text x="51.07" y="551.60" font-size="6.0" text-anchor="middle" fill="#333" stroke="#333" stroke-width="0.06" >1</text>
<text x="69.94" y="551.60" font-size="6.0" text-anchor="middle" fill="#333" stroke="#333" stroke-width="0.06" >2</text>
<text x="88.81" y="551.60" font-size="6.0" text-anchor="middle" fill="#333" stroke="#333" stroke-width="0.06" >3</text>
<text x="107.68" y="551.60" font-size="6.0" text-anchor="middle" fill="#333" stroke="#333" stroke-width="0.06" >4</text>
<text x="126.55" y="551.60" font-size="6.0" text-anchor="middle" fill="#333" stroke="#333" stroke-width="0.06" >5</text>
<text x="145.42" y="551.60" font-size="6.0" text-anchor="middle" fill="#333" stroke="#333" stroke-width="0.06" >6</text>
<text x="26.30" y="536.90" font-size="6.0" text-anchor="end" fill="#333" stroke="#333" stroke-width="0.06" >0.0</text>
<text x="26.30" y="527.70" font-size="6.0" text-anchor="end" fill="#333" stroke="#333" stroke-width="0.06" >7.5</text>
<text x="26.30" y="518.50" font-size="6.0" text-anchor="end" fill="#333" stroke="#333" stroke-width="0.06" >15.0</text>
<text x="26.30" y="509.30" font-size="6.0" text-anchor="end" fill="#333" stroke="#333" stroke-width="0.06" >22.5</text>
<text x="26.30" y="500.10" font-size="6.0" text-anchor="end" fill="#333" stroke="#333" stroke-width="0.06" >30.0</text>
<text x="26.30" y="490.90" font-size="6.0" text-anchor="end" fill="#333" stroke="#333" stroke-width="0.06" >37.5</text>
<text x="26.30" y="481.70" font-size="6.0" text-anchor="end" fill="#333" stroke="#333" stroke-width="0.06" >45.0</text>
<line x1="33.20" y1="535.30" x2="134.40" y2="535.30" stroke="#e8a8b4" stroke-width="0.6" />
<clipPath id="c32"><rect x="32.2" y="479.5" width="113.2" height="62"/></clipPath>
<polyline clip-path="url(#c32)" points="32.7,534.99 33.1,534.99 33.5,534.98 33.9,534.95 34.3,534.77 34.7,534.35 35.1,534.19 35.5,534.56 35.9,534.87 36.3,534.86 36.7,534.53 37.1,534.36 37.5,534.71 37.9,534.91 38.3,534.92 38.7,534.92 39.1,534.91 39.5,534.90 39.9,534.90 40.3,534.89 40.7,534.88 41.1,534.87 41.5,534.86 41.9,534.85 42.3,534.84 42.7,534.83 43.1,534.82 43.5,534.81 43.9,534.80 44.3,534.79 44.7,534.78 45.1,534.76 45.5,534.75 45.9,534.73 46.3,534.72 46.7,534.70 47.1,534.68 47.5,534.68 47.9,534.92 48.3,535.63 48.7,535.61 49.1,534.84 49.5,534.54 49.9,534.48 50.3,534.43 50.7,534.37 51.1,534.29 51.5,534.19 51.9,534.04 52.3,533.82 52.7,533.46 53.1,532.92 53.5,532.51 53.9,532.66 54.3,532.92 54.7,532.93 55.1,532.68 55.5,532.12 55.9,531.06 56.3,529.14 56.7,526.12 57.1,524.09 57.5,526.05 57.9,529.01 58.3,530.88 58.7,531.90 59.1,532.45 59.5,532.76 59.9,532.92 60.3,532.99 60.7,533.00 61.1,532.96 61.5,532.87 61.9,532.74 62.3,532.57 62.7,532.33 63.1,532.00 63.5,531.55 63.9,530.92 64.3,530.02 64.7,528.82 65.1,527.52 65.5,526.80 65.9,527.15 66.3,528.07 66.7,528.87 67.1,529.36 67.5,529.56 67.9,529.55 68.3,529.38 68.7,529.08 69.1,528.65 69.5,528.10 69.9,527.42 70.3,526.59 70.7,525.58 71.1,524.35 71.5,522.84 71.9,520.97 72.3,518.64 72.7,515.70 73.1,511.94 73.5,507.04 73.9,500.59 74.3,491.99 74.7,480.44 75.1,478.00 75.5,478.00 75.9,478.00 76.3,478.00 76.7,478.00 77.1,478.00 77.5,478.00 77.9,478.00 78.3,478.00 78.7,480.49 79.1,492.05 79.5,500.67 79.9,507.13 80.3,512.04 80.7,515.82 81.1,518.79 81.5,521.14 81.9,523.03 82.3,524.57 82.7,525.85 83.1,526.91 83.5,527.80 83.9,528.55 84.3,529.20 84.7,529.76 85.1,530.24 85.5,530.66 85.9,531.03 86.3,531.35 86.7,531.64 87.1,531.90 87.5,532.13 87.9,532.33 88.3,532.52 88.7,532.68 89.1,532.83 89.5,532.97 89.9,533.09 90.3,533.20 90.7,533.30 91.1,533.40 91.5,533.48 91.9,533.56 92.3,533.63 92.7,533.69 93.1,533.74 93.5,533.79 93.9,533.83 94.3,533.87 94.7,533.90 95.1,533.92 95.5,533.93 95.9,533.93 96.3,533.92 96.7,533.90 97.1,533.86 97.5,533.78 97.9,533.68 98.3,533.52 98.7,533.28 99.1,532.94 99.5,532.46 99.9,531.84 100.3,531.18 100.7,530.79 101.1,530.96 101.5,531.57 101.9,532.28 102.3,532.88 102.7,533.33 103.1,533.65 103.5,533.89 103.9,534.06 104.3,534.20 104.7,534.30 105.1,534.38 105.5,534.45 105.9,534.51 106.3,534.55 106.7,534.59 107.1,534.63 107.5,534.66 107.9,534.68 108.3,534.71 108.7,534.73 109.1,534.75 109.5,534.77 109.9,534.78 110.3,534.80 110.7,534.81 111.1,534.82 111.5,534.83 111.9,534.85 112.3,534.86 112.7,534.87 113.1,534.88 113.5,534.88 113.9,534.89 114.3,534.90 114.7,534.91 115.1,534.92 115.5,534.92 115.9,534.93 116.3,534.94 116.7,534.94 117.1,534.95 117.5,534.95 117.9,534.96 118.3,534.96 118.7,534.97 119.1,534.97 119.5,534.98 119.9,534.98 120.3,534.99 120.7,534.99 121.1,535.00 121.5,535.00 121.9,535.00 122.3,535.01 122.7,535.01 123.1,535.01 123.5,535.02 123.9,535.02 124.3,535.02 124.7,535.03 125.1,535.03 125.5,535.03 125.9,535.04 126.3,535.04 126.7,535.04 127.1,535.04 127.5,535.05 127.9,535.05 128.3,535.05 128.7,535.05 129.1,535.06 129.5,535.06 129.9,535.06 130.3,535.06 130.7,535.07 131.1,535.07 131.5,535.07 131.9,535.07 132.3,535.07 132.7,535.08 133.1,535.08 133.5,535.08 133.9,535.08" fill="none" stroke="#c9556e" stroke-width="0.9"/>
<text transform="translate(53.3,533.0) rotate(-90)" font-size="2.8" fill="#555" stroke="#555" stroke-width="0.15">0.93</text>
<text transform="translate(55.0,527.0) rotate(-90)" font-size="2.8" fill="#555" stroke="#555" stroke-width="0.15">1.05</text>
<text transform="translate(57.3,517.0) rotate(-90)" font-size="2.8" fill="#555" stroke="#555" stroke-width="0.15">1.33</text>
<text transform="translate(65.8,521.0) rotate(-90)" font-size="2.8" fill="#555" stroke="#555" stroke-width="0.15">1.75</text>
<text transform="translate(77.8,533.0) rotate(-90)" font-size="2.8" fill="#555" stroke="#555" stroke-width="0.15">2.36</text>
<text transform="translate(101.4,526.0) rotate(-90)" font-size="2.8" fill="#555" stroke="#555" stroke-width="0.15">3.65</text>
<text x="39.80" y="477.00" font-size="9.3" text-anchor="start" fill="#231f20" stroke="#231f20" stroke-width="0.06" >HbF concentration 0.2%</text>
<text x="88.60" y="564.40" font-size="9.0" text-anchor="middle" fill="#231f20" stroke="#231f20" stroke-width="0.06" textLength="33.2" lengthAdjust="spacingAndGlyphs" >Time (min.)</text>
<text x="88.80" y="577.80" font-size="9.05" text-anchor="middle" fill="#231f20" stroke="#231f20" stroke-width="0.06" >Healthy parent blood</text>
<text transform="translate(7.09,510.00) rotate(-90)" x="0" y="0" font-size="7.2" text-anchor="middle" fill="#231f20" stroke="#231f20" stroke-width="0.3">%</text>
<line x1="181.50" y1="479.50" x2="293.50" y2="479.50" stroke="#2a2a2a" stroke-width="1.0" />
<line x1="184.50" y1="479.50" x2="184.50" y2="541.00" stroke="#2a2a2a" stroke-width="1.0" />
<line x1="293.50" y1="479.50" x2="293.50" y2="541.00" stroke="#2a2a2a" stroke-width="1.0" />
<line x1="181.90" y1="534.80" x2="184.50" y2="534.80" stroke="#444" stroke-width="0.5" />
<line x1="182.70" y1="533.27" x2="184.50" y2="533.27" stroke="#444" stroke-width="0.5" />
<line x1="182.70" y1="531.73" x2="184.50" y2="531.73" stroke="#444" stroke-width="0.5" />
<line x1="182.70" y1="530.20" x2="184.50" y2="530.20" stroke="#444" stroke-width="0.5" />
<line x1="182.70" y1="528.67" x2="184.50" y2="528.67" stroke="#444" stroke-width="0.5" />
<line x1="182.70" y1="527.13" x2="184.50" y2="527.13" stroke="#444" stroke-width="0.5" />
<line x1="181.90" y1="525.60" x2="184.50" y2="525.60" stroke="#444" stroke-width="0.5" />
<line x1="182.70" y1="524.07" x2="184.50" y2="524.07" stroke="#444" stroke-width="0.5" />
<line x1="182.70" y1="522.53" x2="184.50" y2="522.53" stroke="#444" stroke-width="0.5" />
<line x1="182.70" y1="521.00" x2="184.50" y2="521.00" stroke="#444" stroke-width="0.5" />
<line x1="182.70" y1="519.47" x2="184.50" y2="519.47" stroke="#444" stroke-width="0.5" />
<line x1="182.70" y1="517.93" x2="184.50" y2="517.93" stroke="#444" stroke-width="0.5" />
<line x1="181.90" y1="516.40" x2="184.50" y2="516.40" stroke="#444" stroke-width="0.5" />
<line x1="182.70" y1="514.87" x2="184.50" y2="514.87" stroke="#444" stroke-width="0.5" />
<line x1="182.70" y1="513.33" x2="184.50" y2="513.33" stroke="#444" stroke-width="0.5" />
<line x1="182.70" y1="511.80" x2="184.50" y2="511.80" stroke="#444" stroke-width="0.5" />
<line x1="182.70" y1="510.27" x2="184.50" y2="510.27" stroke="#444" stroke-width="0.5" />
<line x1="182.70" y1="508.73" x2="184.50" y2="508.73" stroke="#444" stroke-width="0.5" />
<line x1="181.90" y1="507.20" x2="184.50" y2="507.20" stroke="#444" stroke-width="0.5" />
<line x1="182.70" y1="505.67" x2="184.50" y2="505.67" stroke="#444" stroke-width="0.5" />
<line x1="182.70" y1="504.13" x2="184.50" y2="504.13" stroke="#444" stroke-width="0.5" />
<line x1="182.70" y1="502.60" x2="184.50" y2="502.60" stroke="#444" stroke-width="0.5" />
<line x1="182.70" y1="501.07" x2="184.50" y2="501.07" stroke="#444" stroke-width="0.5" />
<line x1="182.70" y1="499.53" x2="184.50" y2="499.53" stroke="#444" stroke-width="0.5" />
<line x1="181.90" y1="498.00" x2="184.50" y2="498.00" stroke="#444" stroke-width="0.5" />
<line x1="182.70" y1="496.47" x2="184.50" y2="496.47" stroke="#444" stroke-width="0.5" />
<line x1="182.70" y1="494.93" x2="184.50" y2="494.93" stroke="#444" stroke-width="0.5" />
<line x1="182.70" y1="493.40" x2="184.50" y2="493.40" stroke="#444" stroke-width="0.5" />
<line x1="182.70" y1="491.87" x2="184.50" y2="491.87" stroke="#444" stroke-width="0.5" />
<line x1="182.70" y1="490.33" x2="184.50" y2="490.33" stroke="#444" stroke-width="0.5" />
<line x1="181.90" y1="488.80" x2="184.50" y2="488.80" stroke="#444" stroke-width="0.5" />
<line x1="182.70" y1="487.27" x2="184.50" y2="487.27" stroke="#444" stroke-width="0.5" />
<line x1="182.70" y1="485.73" x2="184.50" y2="485.73" stroke="#444" stroke-width="0.5" />
<line x1="182.70" y1="484.20" x2="184.50" y2="484.20" stroke="#444" stroke-width="0.5" />
<line x1="182.70" y1="482.67" x2="184.50" y2="482.67" stroke="#444" stroke-width="0.5" />
<line x1="182.70" y1="481.13" x2="184.50" y2="481.13" stroke="#444" stroke-width="0.5" />
<line x1="181.90" y1="479.60" x2="184.50" y2="479.60" stroke="#444" stroke-width="0.5" />
<line x1="182.70" y1="536.33" x2="184.50" y2="536.33" stroke="#444" stroke-width="0.5" />
<line x1="182.70" y1="537.87" x2="184.50" y2="537.87" stroke="#444" stroke-width="0.5" />
<line x1="182.70" y1="539.40" x2="184.50" y2="539.40" stroke="#444" stroke-width="0.5" />
<line x1="182.70" y1="540.93" x2="184.50" y2="540.93" stroke="#444" stroke-width="0.5" />
<line x1="184.50" y1="541.00" x2="184.50" y2="543.60" stroke="#333" stroke-width="0.7" />
<line x1="188.24" y1="541.00" x2="188.24" y2="543.00" stroke="#333" stroke-width="0.7" />
<line x1="191.98" y1="541.00" x2="191.98" y2="543.00" stroke="#333" stroke-width="0.7" />
<line x1="195.72" y1="541.00" x2="195.72" y2="543.00" stroke="#333" stroke-width="0.7" />
<line x1="199.46" y1="541.00" x2="199.46" y2="543.00" stroke="#333" stroke-width="0.7" />
<line x1="203.20" y1="541.00" x2="203.20" y2="543.60" stroke="#333" stroke-width="0.7" />
<line x1="206.94" y1="541.00" x2="206.94" y2="543.00" stroke="#333" stroke-width="0.7" />
<line x1="210.68" y1="541.00" x2="210.68" y2="543.00" stroke="#333" stroke-width="0.7" />
<line x1="214.42" y1="541.00" x2="214.42" y2="543.00" stroke="#333" stroke-width="0.7" />
<line x1="218.16" y1="541.00" x2="218.16" y2="543.00" stroke="#333" stroke-width="0.7" />
<line x1="221.90" y1="541.00" x2="221.90" y2="543.60" stroke="#333" stroke-width="0.7" />
<line x1="225.64" y1="541.00" x2="225.64" y2="543.00" stroke="#333" stroke-width="0.7" />
<line x1="229.38" y1="541.00" x2="229.38" y2="543.00" stroke="#333" stroke-width="0.7" />
<line x1="233.12" y1="541.00" x2="233.12" y2="543.00" stroke="#333" stroke-width="0.7" />
<line x1="236.86" y1="541.00" x2="236.86" y2="543.00" stroke="#333" stroke-width="0.7" />
<line x1="240.60" y1="541.00" x2="240.60" y2="543.60" stroke="#333" stroke-width="0.7" />
<line x1="244.34" y1="541.00" x2="244.34" y2="543.00" stroke="#333" stroke-width="0.7" />
<line x1="248.08" y1="541.00" x2="248.08" y2="543.00" stroke="#333" stroke-width="0.7" />
<line x1="251.82" y1="541.00" x2="251.82" y2="543.00" stroke="#333" stroke-width="0.7" />
<line x1="255.56" y1="541.00" x2="255.56" y2="543.00" stroke="#333" stroke-width="0.7" />
<line x1="259.30" y1="541.00" x2="259.30" y2="543.60" stroke="#333" stroke-width="0.7" />
<line x1="263.04" y1="541.00" x2="263.04" y2="543.00" stroke="#333" stroke-width="0.7" />
<line x1="266.78" y1="541.00" x2="266.78" y2="543.00" stroke="#333" stroke-width="0.7" />
<line x1="270.52" y1="541.00" x2="270.52" y2="543.00" stroke="#333" stroke-width="0.7" />
<line x1="274.26" y1="541.00" x2="274.26" y2="543.00" stroke="#333" stroke-width="0.7" />
<line x1="278.00" y1="541.00" x2="278.00" y2="543.60" stroke="#333" stroke-width="0.7" />
<line x1="281.74" y1="541.00" x2="281.74" y2="543.00" stroke="#333" stroke-width="0.7" />
<line x1="285.48" y1="541.00" x2="285.48" y2="543.00" stroke="#333" stroke-width="0.7" />
<line x1="289.22" y1="541.00" x2="289.22" y2="543.00" stroke="#333" stroke-width="0.7" />
<line x1="292.96" y1="541.00" x2="292.96" y2="543.00" stroke="#333" stroke-width="0.7" />
<line x1="184.00" y1="541.00" x2="294.00" y2="541.00" stroke="#1e2a22" stroke-width="1.7" />
<text x="184.50" y="551.60" font-size="6.0" text-anchor="middle" fill="#333" stroke="#333" stroke-width="0.06" >0</text>
<text x="203.20" y="551.60" font-size="6.0" text-anchor="middle" fill="#333" stroke="#333" stroke-width="0.06" >1</text>
<text x="221.90" y="551.60" font-size="6.0" text-anchor="middle" fill="#333" stroke="#333" stroke-width="0.06" >2</text>
<text x="240.60" y="551.60" font-size="6.0" text-anchor="middle" fill="#333" stroke="#333" stroke-width="0.06" >3</text>
<text x="259.30" y="551.60" font-size="6.0" text-anchor="middle" fill="#333" stroke="#333" stroke-width="0.06" >4</text>
<text x="278.00" y="551.60" font-size="6.0" text-anchor="middle" fill="#333" stroke="#333" stroke-width="0.06" >5</text>
<text x="296.70" y="551.60" font-size="6.0" text-anchor="middle" fill="#333" stroke="#333" stroke-width="0.06" >6</text>
<text x="178.60" y="536.90" font-size="6.0" text-anchor="end" fill="#333" stroke="#333" stroke-width="0.06" >0.0</text>
<text x="178.60" y="527.70" font-size="6.0" text-anchor="end" fill="#333" stroke="#333" stroke-width="0.06" >7.5</text>
<text x="178.60" y="518.50" font-size="6.0" text-anchor="end" fill="#333" stroke="#333" stroke-width="0.06" >15.0</text>
<text x="178.60" y="509.30" font-size="6.0" text-anchor="end" fill="#333" stroke="#333" stroke-width="0.06" >22.5</text>
<text x="178.60" y="500.10" font-size="6.0" text-anchor="end" fill="#333" stroke="#333" stroke-width="0.06" >30.0</text>
<text x="178.60" y="490.90" font-size="6.0" text-anchor="end" fill="#333" stroke="#333" stroke-width="0.06" >37.5</text>
<text x="178.60" y="481.70" font-size="6.0" text-anchor="end" fill="#333" stroke="#333" stroke-width="0.06" >45.0</text>
<line x1="185.50" y1="535.30" x2="282.50" y2="535.30" stroke="#e8a8b4" stroke-width="0.6" />
<clipPath id="c184"><rect x="184.5" y="479.5" width="109.0" height="62"/></clipPath>
<polyline clip-path="url(#c184)" points="185.0,534.93 185.4,534.62 185.8,534.09 186.2,534.09 186.6,534.61 187.0,534.90 187.4,534.82 187.8,534.45 188.2,534.45 188.6,534.81 189.0,534.94 189.4,534.94 189.8,534.93 190.2,534.93 190.6,534.92 191.0,534.92 191.4,534.91 191.8,534.90 192.2,534.89 192.6,534.88 193.0,534.88 193.4,534.87 193.8,534.86 194.2,534.85 194.6,534.84 195.0,534.83 195.4,534.81 195.8,534.80 196.2,534.79 196.6,534.77 197.0,534.76 197.4,534.74 197.8,534.72 198.2,534.78 198.6,535.20 199.0,535.65 199.4,535.15 199.8,534.67 200.2,534.55 200.6,534.50 201.0,534.45 201.4,534.38 201.8,534.30 202.2,534.18 202.6,534.02 203.0,533.79 203.4,533.43 203.8,532.81 204.2,531.75 204.6,530.28 205.0,529.69 205.4,530.76 205.8,531.84 206.2,532.36 206.6,532.44 207.0,532.18 207.4,531.51 207.8,530.26 208.2,528.21 208.6,526.01 209.0,526.01 209.4,528.20 209.8,530.26 210.2,531.54 210.6,532.28 211.0,532.71 211.4,532.95 211.8,533.09 212.2,533.15 212.6,533.15 213.0,533.10 213.4,533.01 213.8,532.86 214.2,532.65 214.6,532.36 215.0,531.93 215.4,531.32 215.8,530.45 216.2,529.31 216.6,528.20 217.0,527.82 217.4,528.43 217.8,529.40 218.2,530.18 218.6,530.67 219.0,530.93 219.4,531.03 219.8,531.00 220.2,530.89 220.6,530.70 221.0,530.44 221.4,530.11 221.8,529.71 222.2,529.24 222.6,528.67 223.0,528.00 223.4,527.21 223.8,526.26 224.2,525.12 224.6,523.73 225.0,522.04 225.4,519.95 225.8,517.32 226.2,513.99 226.6,509.70 227.0,504.09 227.4,496.64 227.8,486.67 228.2,478.00 228.6,478.00 229.0,478.00 229.4,478.00 229.8,478.00 230.2,478.00 230.6,478.00 231.0,478.00 231.4,478.00 231.8,478.00 232.2,486.70 232.6,496.68 233.0,504.13 233.4,509.76 233.8,514.06 234.2,517.40 234.6,520.03 235.0,522.14 235.4,523.84 235.8,525.24 236.2,526.40 236.6,527.37 237.0,528.19 237.4,528.89 237.8,529.49 238.2,530.01 238.6,530.45 239.0,530.85 239.4,531.19 239.8,531.50 240.2,531.77 240.6,532.01 241.0,532.23 241.4,532.42 241.8,532.59 242.2,532.75 242.6,532.89 243.0,533.02 243.4,533.13 243.8,533.24 244.2,533.33 244.6,533.42 245.0,533.49 245.4,533.56 245.8,533.62 246.2,533.67 246.6,533.72 247.0,533.75 247.4,533.78 247.8,533.79 248.2,533.80 248.6,533.78 249.0,533.75 249.4,533.69 249.8,533.60 250.2,533.46 250.6,533.24 251.0,532.93 251.4,532.48 251.8,531.89 252.2,531.27 252.6,530.91 253.0,531.07 253.4,531.66 253.8,532.33 254.2,532.90 254.6,533.33 255.0,533.65 255.4,533.87 255.8,534.04 256.2,534.17 256.6,534.28 257.0,534.36 257.4,534.42 257.8,534.48 258.2,534.52 258.6,534.56 259.0,534.60 259.4,534.63 259.8,534.66 260.2,534.68 260.6,534.70 261.0,534.72 261.4,534.74 261.8,534.76 262.2,534.77 262.6,534.79 263.0,534.80 263.4,534.81 263.8,534.82 264.2,534.84 264.6,534.85 265.0,534.86 265.4,534.87 265.8,534.87 266.2,534.88 266.6,534.89 267.0,534.90 267.4,534.91 267.8,534.91 268.2,534.92 268.6,534.93 269.0,534.93 269.4,534.94 269.8,534.94 270.2,534.95 270.6,534.96 271.0,534.96 271.4,534.97 271.8,534.97 272.2,534.98 272.6,534.98 273.0,534.98 273.4,534.99 273.8,534.99 274.2,535.00 274.6,535.00 275.0,535.00 275.4,535.01 275.8,535.01 276.2,535.02 276.6,535.02 277.0,535.02 277.4,535.03 277.8,535.03 278.2,535.03 278.6,535.03 279.0,535.04 279.4,535.04 279.8,535.04 280.2,535.04 280.6,535.05 281.0,535.05 281.4,535.05 281.8,535.05" fill="none" stroke="#c9556e" stroke-width="0.9"/>
<text transform="translate(204.5,530.0) rotate(-90)" font-size="2.8" fill="#555" stroke="#555" stroke-width="0.15">1.10</text>
<text transform="translate(206.8,527.0) rotate(-90)" font-size="2.8" fill="#555" stroke="#555" stroke-width="0.15">1.21</text>
<text transform="translate(209.2,520.0) rotate(-90)" font-size="2.8" fill="#555" stroke="#555" stroke-width="0.15">1.33</text>
<text transform="translate(217.4,522.0) rotate(-90)" font-size="2.8" fill="#555" stroke="#555" stroke-width="0.15">1.77</text>
<text transform="translate(230.6,533.0) rotate(-90)" font-size="2.8" fill="#555" stroke="#555" stroke-width="0.15">2.45</text>
<text transform="translate(253.4,526.0) rotate(-90)" font-size="2.8" fill="#555" stroke="#555" stroke-width="0.15">3.68</text>
<text x="195.20" y="477.00" font-size="9.1" text-anchor="start" fill="#231f20" stroke="#231f20" stroke-width="0.06" >HbF concentration 2.2%</text>
<text x="240.70" y="564.40" font-size="9.0" text-anchor="middle" fill="#231f20" stroke="#231f20" stroke-width="0.06" textLength="33.2" lengthAdjust="spacingAndGlyphs" >Time (min.)</text>
<text x="240.20" y="577.80" font-size="9.0" text-anchor="middle" fill="#231f20" stroke="#231f20" stroke-width="0.06" >Patient blood</text>
<text transform="translate(158.79,510.60) rotate(-90)" x="0" y="0" font-size="7.2" text-anchor="middle" fill="#231f20" stroke="#231f20" stroke-width="0.3">%</text>
<path d="M50.8,501.9 L52.8,501.9 L52.8,504.4 L54.8,504.4 L51.8,508.2 L48.8,504.4 L50.8,504.4 Z" fill="#b81838"/>
<path d="M202.8,501.9 L204.8,501.9 L204.8,504.4 L206.8,504.4 L203.8,508.2 L200.8,504.4 L202.8,504.4 Z" fill="#b81838"/>
<text x="318.8" y="469.5" font-size="10.4" font-weight="bold" fill="#000" stroke="#000" stroke-width="0.45">G</text>
<text x="375.75" y="476.60" font-size="8.3" text-anchor="middle" fill="#231f20" stroke="#231f20" stroke-width="0.06" >0.001% HbF+ F cells</text>
<text x="468.75" y="476.60" font-size="8.3" text-anchor="middle" fill="#231f20" stroke="#231f20" stroke-width="0.06" >7.38% HbF+ F cells</text>
<text x="376.20" y="556.40" font-size="8.05" text-anchor="middle" fill="#231f20" stroke="#231f20" stroke-width="0.06" >Healthy parent blood</text>
<text x="469.75" y="556.40" font-size="8.05" text-anchor="middle" fill="#231f20" stroke="#231f20" stroke-width="0.06" >Patient blood</text>
<svg x="336.3" y="479.6" width="78.9" height="65.8" viewBox="0 0 78.9 65.8">
<rect width="78.9" height="65.8" fill="#c6d3a6"/>
<circle cx="17.7" cy="36.0" r="3.7" fill="#dbd1ac"/>
<circle cx="28.7" cy="40.2" r="3.7" fill="#dbd1ac"/>
<circle cx="49.9" cy="2.6" r="3.7" fill="#dbd1ac"/>
<circle cx="-0.9" cy="56.5" r="3.7" fill="#dbd1ac"/>
<circle cx="19.5" cy="14.4" r="3.7" fill="#dbd1ac"/>
<circle cx="80.5" cy="30.8" r="3.7" fill="#dbd1ac"/>
<circle cx="67.3" cy="31.2" r="3.7" fill="#dbd1ac"/>
<circle cx="51.0" cy="8.5" r="3.7" fill="#dbd1ac"/>
<circle cx="50.6" cy="58.6" r="3.7" fill="#dbd1ac"/>
<circle cx="41.4" cy="49.7" r="3.7" fill="#dbd1ac"/>
<circle cx="60.9" cy="39.3" r="3.7" fill="#dbd1ac"/>
<circle cx="23.0" cy="0.2" r="3.7" fill="#dbd1ac"/>
<circle cx="57.6" cy="59.3" r="3.7" fill="#dbd1ac"/>
<circle cx="30.7" cy="53.9" r="3.7" fill="#dbd1ac"/>
<circle cx="34.9" cy="63.3" r="3.7" fill="#dbd1ac"/>
<circle cx="70.9" cy="4.8" r="3.7" fill="#dbd1ac"/>
<circle cx="9.3" cy="13.1" r="3.7" fill="#dbd1ac"/>
<circle cx="49.9" cy="19.0" r="3.7" fill="#dbd1ac"/>
<circle cx="40.1" cy="24.9" r="3.7" fill="#dbd1ac"/>
<circle cx="69.0" cy="67.2" r="3.7" fill="#dbd1ac"/>
<circle cx="73.0" cy="37.7" r="3.7" fill="#dbd1ac"/>
<circle cx="57.2" cy="12.7" r="3.7" fill="#dbd1ac"/>
<circle cx="66.9" cy="38.0" r="3.7" fill="#dbd1ac"/>
<circle cx="5.3" cy="53.9" r="3.7" fill="#dbd1ac"/>
<circle cx="32.0" cy="8.5" r="3.7" fill="#dbd1ac"/>
<circle cx="22.4" cy="51.7" r="3.7" fill="#dbd1ac"/>
<circle cx="57.6" cy="21.1" r="3.7" fill="#dbd1ac"/>
<circle cx="39.9" cy="67.7" r="3.7" fill="#dbd1ac"/>
<circle cx="14.4" cy="26.5" r="3.7" fill="#dbd1ac"/>
<circle cx="24.0" cy="64.9" r="3.7" fill="#dbd1ac"/>
<circle cx="72.3" cy="24.4" r="3.7" fill="#dbd1ac"/>
<circle cx="36.2" cy="34.3" r="3.7" fill="#dbd1ac"/>
<circle cx="51.4" cy="39.6" r="3.7" fill="#dbd1ac"/>
<circle cx="44.4" cy="41.3" r="3.7" fill="#dbd1ac"/>
<circle cx="33.7" cy="48.3" r="3.7" fill="#dbd1ac"/>
<circle cx="43.5" cy="-1.2" r="3.7" fill="#dbd1ac"/>
<circle cx="-0.3" cy="41.0" r="3.7" fill="#dbd1ac"/>
<circle cx="50.0" cy="30.5" r="3.7" fill="#dbd1ac"/>
<circle cx="56.6" cy="49.5" r="3.7" fill="#dbd1ac"/>
<circle cx="-0.2" cy="2.2" r="3.7" fill="#dbd1ac"/>
<circle cx="54.0" cy="65.2" r="3.7" fill="#dbd1ac"/>
<circle cx="18.8" cy="29.9" r="3.7" fill="#dbd1ac"/>
<circle cx="28.2" cy="19.8" r="3.7" fill="#dbd1ac"/>
<circle cx="22.9" cy="24.3" r="3.7" fill="#dbd1ac"/>
<circle cx="62.0" cy="-0.1" r="3.7" fill="#dbd1ac"/>
<circle cx="64.6" cy="14.7" r="3.7" fill="#dbd1ac"/>
<circle cx="55.9" cy="5.1" r="3.7" fill="#dbd1ac"/>
<circle cx="16.7" cy="6.4" r="3.7" fill="#dbd1ac"/>
<circle cx="41.9" cy="11.3" r="3.7" fill="#dbd1ac"/>
<circle cx="64.9" cy="56.5" r="3.7" fill="#dbd1ac"/>
<circle cx="13.2" cy="17.4" r="3.7" fill="#dbd1ac"/>
<circle cx="64.8" cy="22.1" r="3.7" fill="#dbd1ac"/>
<circle cx="32.8" cy="26.6" r="3.7" fill="#dbd1ac"/>
<circle cx="-1.6" cy="63.8" r="3.7" fill="#dbd1ac"/>
<circle cx="74.9" cy="13.5" r="3.7" fill="#dbd1ac"/>
<circle cx="72.9" cy="46.4" r="3.7" fill="#dbd1ac"/>
<circle cx="74.6" cy="60.6" r="3.7" fill="#dbd1ac"/>
<circle cx="-0.9" cy="50.0" r="3.7" fill="#dbd1ac"/>
<circle cx="18.9" cy="58.1" r="3.7" fill="#dbd1ac"/>
<circle cx="27.2" cy="11.8" r="3.7" fill="#dbd1ac"/>
<circle cx="12.2" cy="53.3" r="3.7" fill="#dbd1ac"/>
<circle cx="74.4" cy="54.3" r="3.7" fill="#dbd1ac"/>
<circle cx="2.1" cy="16.9" r="3.7" fill="#dbd1ac"/>
<circle cx="8.3" cy="2.8" r="3.7" fill="#dbd1ac"/>
<circle cx="5.1" cy="33.0" r="3.7" fill="#dbd1ac"/>
<circle cx="36.2" cy="15.1" r="3.7" fill="#dbd1ac"/>
<circle cx="3.9" cy="27.7" r="3.7" fill="#dbd1ac"/>
<circle cx="63.7" cy="44.6" r="3.7" fill="#dbd1ac"/>
<circle cx="6.5" cy="39.0" r="3.7" fill="#dbd1ac"/>
<circle cx="-1.6" cy="8.0" r="3.7" fill="#dbd1ac"/>
<circle cx="61.6" cy="33.7" r="3.7" fill="#dbd1ac"/>
<circle cx="44.8" cy="55.8" r="3.7" fill="#dbd1ac"/>
<circle cx="38.1" cy="42.9" r="3.7" fill="#dbd1ac"/>
<circle cx="16.0" cy="-0.4" r="3.7" fill="#dbd1ac"/>
<circle cx="9.9" cy="67.2" r="3.7" fill="#dbd1ac"/>
<circle cx="36.8" cy="56.3" r="3.7" fill="#dbd1ac"/>
<circle cx="17.5" cy="48.1" r="3.7" fill="#dbd1ac"/>
<circle cx="-1.4" cy="21.4" r="3.7" fill="#dbd1ac"/>
<circle cx="7.3" cy="59.9" r="3.7" fill="#dbd1ac"/>
<circle cx="62.0" cy="50.9" r="3.7" fill="#dbd1ac"/>
<circle cx="22.5" cy="45.2" r="3.7" fill="#dbd1ac"/>
<circle cx="12.8" cy="60.1" r="3.7" fill="#dbd1ac"/>
<circle cx="47.9" cy="48.7" r="3.7" fill="#dbd1ac"/>
<circle cx="44.9" cy="64.9" r="3.7" fill="#dbd1ac"/>
<circle cx="24.8" cy="58.8" r="3.7" fill="#dbd1ac"/>
<circle cx="64.9" cy="63.0" r="3.7" fill="#dbd1ac"/>
<circle cx="11.3" cy="32.7" r="3.7" fill="#dbd1ac"/>
<circle cx="56.0" cy="35.5" r="3.7" fill="#dbd1ac"/>
<circle cx="60.8" cy="26.0" r="3.7" fill="#dbd1ac"/>
<circle cx="47.4" cy="13.6" r="3.7" fill="#dbd1ac"/>
<circle cx="62.9" cy="8.0" r="3.7" fill="#dbd1ac"/>
<circle cx="26.6" cy="4.5" r="3.7" fill="#dbd1ac"/>
<circle cx="75.9" cy="0.4" r="3.7" fill="#dbd1ac"/>
<circle cx="45.2" cy="5.7" r="3.7" fill="#dbd1ac"/>
<circle cx="10.7" cy="43.0" r="3.7" fill="#dbd1ac"/>
<circle cx="17.1" cy="65.5" r="3.7" fill="#dbd1ac"/>
<circle cx="42.7" cy="30.4" r="3.7" fill="#dbd1ac"/>
<circle cx="26.7" cy="31.8" r="3.7" fill="#dbd1ac"/>
<circle cx="80.5" cy="21.4" r="3.7" fill="#dbd1ac"/>
<circle cx="80.7" cy="62.2" r="3.7" fill="#dbd1ac"/>
<circle cx="41.6" cy="35.8" r="3.7" fill="#dbd1ac"/>
<circle cx="73.1" cy="30.6" r="3.7" fill="#dbd1ac"/>
<circle cx="30.3" cy="66.9" r="3.7" fill="#dbd1ac"/>
<circle cx="75.9" cy="67.6" r="3.7" fill="#dbd1ac"/>
<circle cx="68.3" cy="10.5" r="3.7" fill="#dbd1ac"/>
<circle cx="79.2" cy="46.2" r="3.7" fill="#dbd1ac"/>
<circle cx="60.5" cy="67.2" r="3.7" fill="#dbd1ac"/>
<circle cx="42.7" cy="17.9" r="3.7" fill="#dbd1ac"/>
<circle cx="34.7" cy="1.9" r="3.7" fill="#dbd1ac"/>
<circle cx="79.9" cy="56.4" r="3.7" fill="#dbd1ac"/>
<circle cx="6.2" cy="47.1" r="3.7" fill="#dbd1ac"/>
<circle cx="55.0" cy="27.9" r="3.7" fill="#dbd1ac"/>
<circle cx="17.7" cy="36.0" r="2.6" fill="#a09273" stroke="#74684c" stroke-width="1.1"/>
<circle cx="28.7" cy="40.2" r="2.6" fill="#a09273" stroke="#74684c" stroke-width="1.1"/>
<circle cx="49.9" cy="2.6" r="2.6" fill="#a09273" stroke="#74684c" stroke-width="1.1"/>
<circle cx="-0.9" cy="56.5" r="2.6" fill="#a09273" stroke="#74684c" stroke-width="1.1"/>
<circle cx="19.5" cy="14.4" r="2.6" fill="#a09273" stroke="#74684c" stroke-width="1.1"/>
<circle cx="80.5" cy="30.8" r="2.6" fill="#a09273" stroke="#74684c" stroke-width="1.1"/>
<circle cx="67.3" cy="31.2" r="2.6" fill="#a09273" stroke="#74684c" stroke-width="1.1"/>
<circle cx="51.0" cy="8.5" r="2.6" fill="#a09273" stroke="#74684c" stroke-width="1.1"/>
<circle cx="50.6" cy="58.6" r="2.6" fill="#a09273" stroke="#74684c" stroke-width="1.1"/>
<circle cx="41.4" cy="49.7" r="2.6" fill="#a09273" stroke="#74684c" stroke-width="1.1"/>
<circle cx="60.9" cy="39.3" r="2.6" fill="#a09273" stroke="#74684c" stroke-width="1.1"/>
<circle cx="23.0" cy="0.2" r="2.6" fill="#a09273" stroke="#74684c" stroke-width="1.1"/>
<circle cx="57.6" cy="59.3" r="2.6" fill="#a09273" stroke="#74684c" stroke-width="1.1"/>
<circle cx="30.7" cy="53.9" r="2.6" fill="#a09273" stroke="#74684c" stroke-width="1.1"/>
<circle cx="34.9" cy="63.3" r="2.6" fill="#a09273" stroke="#74684c" stroke-width="1.1"/>
<circle cx="70.9" cy="4.8" r="2.6" fill="#a09273" stroke="#74684c" stroke-width="1.1"/>
<circle cx="9.3" cy="13.1" r="2.6" fill="#a09273" stroke="#74684c" stroke-width="1.1"/>
<circle cx="49.9" cy="19.0" r="2.6" fill="#a09273" stroke="#74684c" stroke-width="1.1"/>
<circle cx="40.1" cy="24.9" r="2.6" fill="#a09273" stroke="#74684c" stroke-width="1.1"/>
<circle cx="69.0" cy="67.2" r="2.6" fill="#a09273" stroke="#74684c" stroke-width="1.1"/>
<circle cx="73.0" cy="37.7" r="2.6" fill="#a09273" stroke="#74684c" stroke-width="1.1"/>
<circle cx="57.2" cy="12.7" r="2.6" fill="#a09273" stroke="#74684c" stroke-width="1.1"/>
<circle cx="66.9" cy="38.0" r="2.6" fill="#a09273" stroke="#74684c" stroke-width="1.1"/>
<circle cx="5.3" cy="53.9" r="2.6" fill="#a09273" stroke="#74684c" stroke-width="1.1"/>
<circle cx="32.0" cy="8.5" r="2.6" fill="#a09273" stroke="#74684c" stroke-width="1.1"/>
<circle cx="22.4" cy="51.7" r="2.6" fill="#a09273" stroke="#74684c" stroke-width="1.1"/>
<circle cx="57.6" cy="21.1" r="2.6" fill="#a09273" stroke="#74684c" stroke-width="1.1"/>
<circle cx="39.9" cy="67.7" r="2.6" fill="#a09273" stroke="#74684c" stroke-width="1.1"/>
<circle cx="14.4" cy="26.5" r="2.6" fill="#a09273" stroke="#74684c" stroke-width="1.1"/>
<circle cx="24.0" cy="64.9" r="2.6" fill="#a09273" stroke="#74684c" stroke-width="1.1"/>
<circle cx="72.3" cy="24.4" r="2.6" fill="#a09273" stroke="#74684c" stroke-width="1.1"/>
<circle cx="36.2" cy="34.3" r="2.6" fill="#a09273" stroke="#74684c" stroke-width="1.1"/>
<circle cx="51.4" cy="39.6" r="2.6" fill="#a09273" stroke="#74684c" stroke-width="1.1"/>
<circle cx="44.4" cy="41.3" r="2.6" fill="#a09273" stroke="#74684c" stroke-width="1.1"/>
<circle cx="33.7" cy="48.3" r="2.6" fill="#a09273" stroke="#74684c" stroke-width="1.1"/>
<circle cx="43.5" cy="-1.2" r="2.6" fill="#a09273" stroke="#74684c" stroke-width="1.1"/>
<circle cx="-0.3" cy="41.0" r="2.6" fill="#a09273" stroke="#74684c" stroke-width="1.1"/>
<circle cx="50.0" cy="30.5" r="2.6" fill="#a09273" stroke="#74684c" stroke-width="1.1"/>
<circle cx="56.6" cy="49.5" r="2.6" fill="#a09273" stroke="#74684c" stroke-width="1.1"/>
<circle cx="-0.2" cy="2.2" r="2.6" fill="#a09273" stroke="#74684c" stroke-width="1.1"/>
<circle cx="54.0" cy="65.2" r="2.6" fill="#a09273" stroke="#74684c" stroke-width="1.1"/>
<circle cx="18.8" cy="29.9" r="2.6" fill="#a09273" stroke="#74684c" stroke-width="1.1"/>
<circle cx="28.2" cy="19.8" r="2.6" fill="#a09273" stroke="#74684c" stroke-width="1.1"/>
<circle cx="22.9" cy="24.3" r="2.6" fill="#a09273" stroke="#74684c" stroke-width="1.1"/>
<circle cx="62.0" cy="-0.1" r="2.6" fill="#a09273" stroke="#74684c" stroke-width="1.1"/>
<circle cx="64.6" cy="14.7" r="2.6" fill="#a09273" stroke="#74684c" stroke-width="1.1"/>
<circle cx="55.9" cy="5.1" r="2.6" fill="#a09273" stroke="#74684c" stroke-width="1.1"/>
<circle cx="16.7" cy="6.4" r="2.6" fill="#a09273" stroke="#74684c" stroke-width="1.1"/>
<circle cx="41.9" cy="11.3" r="2.6" fill="#a09273" stroke="#74684c" stroke-width="1.1"/>
<circle cx="64.9" cy="56.5" r="2.6" fill="#a09273" stroke="#74684c" stroke-width="1.1"/>
<circle cx="13.2" cy="17.4" r="2.6" fill="#a09273" stroke="#74684c" stroke-width="1.1"/>
<circle cx="64.8" cy="22.1" r="2.6" fill="#a09273" stroke="#74684c" stroke-width="1.1"/>
<circle cx="32.8" cy="26.6" r="2.6" fill="#a09273" stroke="#74684c" stroke-width="1.1"/>
<circle cx="-1.6" cy="63.8" r="2.6" fill="#a09273" stroke="#74684c" stroke-width="1.1"/>
<circle cx="74.9" cy="13.5" r="2.6" fill="#a09273" stroke="#74684c" stroke-width="1.1"/>
<circle cx="72.9" cy="46.4" r="2.6" fill="#a09273" stroke="#74684c" stroke-width="1.1"/>
<circle cx="74.6" cy="60.6" r="2.6" fill="#a09273" stroke="#74684c" stroke-width="1.1"/>
<circle cx="-0.9" cy="50.0" r="2.6" fill="#a09273" stroke="#74684c" stroke-width="1.1"/>
<circle cx="18.9" cy="58.1" r="2.6" fill="#a09273" stroke="#74684c" stroke-width="1.1"/>
<circle cx="27.2" cy="11.8" r="2.6" fill="#a09273" stroke="#74684c" stroke-width="1.1"/>
<circle cx="12.2" cy="53.3" r="2.6" fill="#a09273" stroke="#74684c" stroke-width="1.1"/>
<circle cx="74.4" cy="54.3" r="2.6" fill="#a09273" stroke="#74684c" stroke-width="1.1"/>
<circle cx="2.1" cy="16.9" r="2.6" fill="#a09273" stroke="#74684c" stroke-width="1.1"/>
<circle cx="8.3" cy="2.8" r="2.6" fill="#a09273" stroke="#74684c" stroke-width="1.1"/>
<circle cx="5.1" cy="33.0" r="2.6" fill="#a09273" stroke="#74684c" stroke-width="1.1"/>
<circle cx="36.2" cy="15.1" r="2.6" fill="#a09273" stroke="#74684c" stroke-width="1.1"/>
<circle cx="3.9" cy="27.7" r="2.6" fill="#a09273" stroke="#74684c" stroke-width="1.1"/>
<circle cx="63.7" cy="44.6" r="2.6" fill="#a09273" stroke="#74684c" stroke-width="1.1"/>
<circle cx="6.5" cy="39.0" r="2.6" fill="#a09273" stroke="#74684c" stroke-width="1.1"/>
<circle cx="-1.6" cy="8.0" r="2.6" fill="#a09273" stroke="#74684c" stroke-width="1.1"/>
<circle cx="61.6" cy="33.7" r="2.6" fill="#a09273" stroke="#74684c" stroke-width="1.1"/>
<circle cx="44.8" cy="55.8" r="2.6" fill="#a09273" stroke="#74684c" stroke-width="1.1"/>
<circle cx="38.1" cy="42.9" r="2.6" fill="#a09273" stroke="#74684c" stroke-width="1.1"/>
<circle cx="16.0" cy="-0.4" r="2.6" fill="#a09273" stroke="#74684c" stroke-width="1.1"/>
<circle cx="9.9" cy="67.2" r="2.6" fill="#a09273" stroke="#74684c" stroke-width="1.1"/>
<circle cx="36.8" cy="56.3" r="2.6" fill="#a09273" stroke="#74684c" stroke-width="1.1"/>
<circle cx="17.5" cy="48.1" r="2.6" fill="#a09273" stroke="#74684c" stroke-width="1.1"/>
<circle cx="-1.4" cy="21.4" r="2.6" fill="#a09273" stroke="#74684c" stroke-width="1.1"/>
<circle cx="7.3" cy="59.9" r="2.6" fill="#a09273" stroke="#74684c" stroke-width="1.1"/>
<circle cx="62.0" cy="50.9" r="2.6" fill="#a09273" stroke="#74684c" stroke-width="1.1"/>
<circle cx="22.5" cy="45.2" r="2.6" fill="#a09273" stroke="#74684c" stroke-width="1.1"/>
<circle cx="12.8" cy="60.1" r="2.6" fill="#a09273" stroke="#74684c" stroke-width="1.1"/>
<circle cx="47.9" cy="48.7" r="2.6" fill="#a09273" stroke="#74684c" stroke-width="1.1"/>
<circle cx="44.9" cy="64.9" r="2.6" fill="#a09273" stroke="#74684c" stroke-width="1.1"/>
<circle cx="24.8" cy="58.8" r="2.6" fill="#a09273" stroke="#74684c" stroke-width="1.1"/>
<circle cx="64.9" cy="63.0" r="2.6" fill="#a09273" stroke="#74684c" stroke-width="1.1"/>
<circle cx="11.3" cy="32.7" r="2.6" fill="#a09273" stroke="#74684c" stroke-width="1.1"/>
<circle cx="56.0" cy="35.5" r="2.6" fill="#a09273" stroke="#74684c" stroke-width="1.1"/>
<circle cx="60.8" cy="26.0" r="2.6" fill="#a09273" stroke="#74684c" stroke-width="1.1"/>
<circle cx="47.4" cy="13.6" r="2.6" fill="#a09273" stroke="#74684c" stroke-width="1.1"/>
<circle cx="62.9" cy="8.0" r="2.6" fill="#a09273" stroke="#74684c" stroke-width="1.1"/>
<circle cx="26.6" cy="4.5" r="2.6" fill="#a09273" stroke="#74684c" stroke-width="1.1"/>
<circle cx="75.9" cy="0.4" r="2.6" fill="#a09273" stroke="#74684c" stroke-width="1.1"/>
<circle cx="45.2" cy="5.7" r="2.6" fill="#a09273" stroke="#74684c" stroke-width="1.1"/>
<circle cx="10.7" cy="43.0" r="2.6" fill="#a09273" stroke="#74684c" stroke-width="1.1"/>
<circle cx="17.1" cy="65.5" r="2.6" fill="#a09273" stroke="#74684c" stroke-width="1.1"/>
<circle cx="42.7" cy="30.4" r="2.6" fill="#a09273" stroke="#74684c" stroke-width="1.1"/>
<circle cx="26.7" cy="31.8" r="2.6" fill="#a09273" stroke="#74684c" stroke-width="1.1"/>
<circle cx="80.5" cy="21.4" r="2.6" fill="#a09273" stroke="#74684c" stroke-width="1.1"/>
<circle cx="80.7" cy="62.2" r="2.6" fill="#a09273" stroke="#74684c" stroke-width="1.1"/>
<circle cx="41.6" cy="35.8" r="2.6" fill="#a09273" stroke="#74684c" stroke-width="1.1"/>
<circle cx="73.1" cy="30.6" r="2.6" fill="#a09273" stroke="#74684c" stroke-width="1.1"/>
<circle cx="30.3" cy="66.9" r="2.6" fill="#a09273" stroke="#74684c" stroke-width="1.1"/>
<circle cx="75.9" cy="67.6" r="2.6" fill="#a09273" stroke="#74684c" stroke-width="1.1"/>
<circle cx="68.3" cy="10.5" r="2.6" fill="#a09273" stroke="#74684c" stroke-width="1.1"/>
<circle cx="79.2" cy="46.2" r="2.6" fill="#a09273" stroke="#74684c" stroke-width="1.1"/>
<circle cx="60.5" cy="67.2" r="2.6" fill="#a09273" stroke="#74684c" stroke-width="1.1"/>
<circle cx="42.7" cy="17.9" r="2.6" fill="#a09273" stroke="#74684c" stroke-width="1.1"/>
<circle cx="34.7" cy="1.9" r="2.6" fill="#a09273" stroke="#74684c" stroke-width="1.1"/>
<circle cx="79.9" cy="56.4" r="2.6" fill="#a09273" stroke="#74684c" stroke-width="1.1"/>
<circle cx="6.2" cy="47.1" r="2.6" fill="#a09273" stroke="#74684c" stroke-width="1.1"/>
<circle cx="55.0" cy="27.9" r="2.6" fill="#a09273" stroke="#74684c" stroke-width="1.1"/>
</svg>
<rect x="396.00" y="539.80" width="12.50" height="1.80" fill="#ffffff" />
<svg x="429.2" y="480.0" width="78.9" height="65.8" viewBox="429.2 480.0 78.9 65.8">
<rect x="429.2" y="480" width="78.9" height="65.8" fill="#c5cd9b"/>
<circle cx="436.7" cy="487.5" r="3.8" fill="#d6d2aa"/>
<circle cx="450.5" cy="484.4" r="3.8" fill="#d6d2aa"/>
<circle cx="456.7" cy="485.9" r="3.8" fill="#d6d2aa"/>
<circle cx="472.1" cy="488.2" r="3.8" fill="#d6d2aa"/>
<circle cx="485.2" cy="489" r="3.8" fill="#d6d2aa"/>
<circle cx="493.6" cy="484.4" r="3.8" fill="#d6d2aa"/>
<circle cx="495.2" cy="491.3" r="3.8" fill="#d6d2aa"/>
<circle cx="505.9" cy="482.1" r="3.8" fill="#d6d2aa"/>
<circle cx="430.5" cy="493.6" r="3.8" fill="#d6d2aa"/>
<circle cx="459" cy="491.3" r="3.8" fill="#d6d2aa"/>
<circle cx="453.6" cy="495.9" r="3.8" fill="#d6d2aa"/>
<circle cx="460.5" cy="497.5" r="3.8" fill="#d6d2aa"/>
<circle cx="469.8" cy="499" r="3.8" fill="#d6d2aa"/>
<circle cx="438.2" cy="504.4" r="3.8" fill="#d6d2aa"/>
<circle cx="430.5" cy="503.6" r="3.8" fill="#d6d2aa"/>
<circle cx="455.9" cy="505.2" r="3.8" fill="#d6d2aa"/>
<circle cx="463.6" cy="504.4" r="3.8" fill="#d6d2aa"/>
<circle cx="473.6" cy="502.8" r="3.8" fill="#d6d2aa"/>
<circle cx="450.5" cy="508.2" r="3.8" fill="#d6d2aa"/>
<circle cx="488.2" cy="508.2" r="3.8" fill="#d6d2aa"/>
<circle cx="501.3" cy="509.8" r="3.8" fill="#d6d2aa"/>
<circle cx="505.9" cy="507.5" r="3.8" fill="#d6d2aa"/>
<circle cx="436.7" cy="510.5" r="3.8" fill="#d6d2aa"/>
<circle cx="430.5" cy="513.6" r="3.8" fill="#d6d2aa"/>
<circle cx="445.2" cy="515.2" r="3.8" fill="#d6d2aa"/>
<circle cx="456.7" cy="512.8" r="3.8" fill="#d6d2aa"/>
<circle cx="462.1" cy="512.1" r="3.8" fill="#d6d2aa"/>
<circle cx="475.2" cy="512.8" r="3.8" fill="#d6d2aa"/>
<circle cx="493.6" cy="515.2" r="3.8" fill="#d6d2aa"/>
<circle cx="482.8" cy="517.5" r="3.8" fill="#d6d2aa"/>
<circle cx="433.6" cy="519.8" r="3.8" fill="#d6d2aa"/>
<circle cx="497.5" cy="525.2" r="3.8" fill="#d6d2aa"/>
<circle cx="442.8" cy="525.2" r="3.8" fill="#d6d2aa"/>
<circle cx="448.2" cy="526.7" r="3.8" fill="#d6d2aa"/>
<circle cx="435.2" cy="529" r="3.8" fill="#d6d2aa"/>
<circle cx="486.7" cy="532.1" r="3.8" fill="#d6d2aa"/>
<circle cx="492.8" cy="532.1" r="3.8" fill="#d6d2aa"/>
<circle cx="504.4" cy="529.8" r="3.8" fill="#d6d2aa"/>
<circle cx="445.9" cy="538.2" r="3.8" fill="#d6d2aa"/>
<circle cx="433.6" cy="536.7" r="3.8" fill="#d6d2aa"/>
<circle cx="459" cy="542.1" r="3.8" fill="#d6d2aa"/>
<circle cx="469" cy="541.3" r="3.8" fill="#d6d2aa"/>
<circle cx="479.8" cy="540.5" r="3.8" fill="#d6d2aa"/>
<circle cx="487.5" cy="539.8" r="3.8" fill="#d6d2aa"/>
<circle cx="499.8" cy="539.8" r="3.8" fill="#d6d2aa"/>
<circle cx="438.2" cy="543.6" r="3.8" fill="#d6d2aa"/>
<circle cx="505.9" cy="543.6" r="3.8" fill="#d6d2aa"/>
<circle cx="452" cy="545" r="3.8" fill="#d6d2aa"/>
<circle cx="444" cy="482" r="3.8" fill="#d6d2aa"/>
<circle cx="479" cy="483" r="3.8" fill="#d6d2aa"/>
<circle cx="467" cy="483" r="3.8" fill="#d6d2aa"/>
<circle cx="501" cy="519" r="3.8" fill="#d6d2aa"/>
<circle cx="463" cy="525" r="3.8" fill="#d6d2aa"/>
<circle cx="470" cy="533" r="3.8" fill="#d6d2aa"/>
<circle cx="466.7" cy="490.5" r="3.8" fill="#d6d2aa"/>
<circle cx="478.2" cy="497.5" r="3.8" fill="#d6d2aa"/>
<circle cx="494.4" cy="502.1" r="3.8" fill="#d6d2aa"/>
<circle cx="487.5" cy="514.4" r="3.8" fill="#d6d2aa"/>
<circle cx="499" cy="532.8" r="3.8" fill="#d6d2aa"/>
<circle cx="477.9" cy="519.3" r="3.8" fill="#d6d2aa"/>
<circle cx="478.5" cy="529" r="3.8" fill="#d6d2aa"/>
<circle cx="436.7" cy="487.5" r="2.7" fill="#9c8e6e" stroke="#72664a" stroke-width="1.0"/>
<circle cx="450.5" cy="484.4" r="2.7" fill="#9c8e6e" stroke="#72664a" stroke-width="1.0"/>
<circle cx="456.7" cy="485.9" r="2.7" fill="#9c8e6e" stroke="#72664a" stroke-width="1.0"/>
<circle cx="472.1" cy="488.2" r="2.7" fill="#9c8e6e" stroke="#72664a" stroke-width="1.0"/>
<circle cx="485.2" cy="489" r="2.7" fill="#9c8e6e" stroke="#72664a" stroke-width="1.0"/>
<circle cx="493.6" cy="484.4" r="2.7" fill="#9c8e6e" stroke="#72664a" stroke-width="1.0"/>
<circle cx="495.2" cy="491.3" r="2.7" fill="#9c8e6e" stroke="#72664a" stroke-width="1.0"/>
<circle cx="505.9" cy="482.1" r="2.7" fill="#9c8e6e" stroke="#72664a" stroke-width="1.0"/>
<circle cx="430.5" cy="493.6" r="2.7" fill="#9c8e6e" stroke="#72664a" stroke-width="1.0"/>
<circle cx="459" cy="491.3" r="2.7" fill="#9c8e6e" stroke="#72664a" stroke-width="1.0"/>
<circle cx="453.6" cy="495.9" r="2.7" fill="#9c8e6e" stroke="#72664a" stroke-width="1.0"/>
<circle cx="460.5" cy="497.5" r="2.7" fill="#9c8e6e" stroke="#72664a" stroke-width="1.0"/>
<circle cx="469.8" cy="499" r="2.7" fill="#9c8e6e" stroke="#72664a" stroke-width="1.0"/>
<circle cx="438.2" cy="504.4" r="2.7" fill="#9c8e6e" stroke="#72664a" stroke-width="1.0"/>
<circle cx="430.5" cy="503.6" r="2.7" fill="#9c8e6e" stroke="#72664a" stroke-width="1.0"/>
<circle cx="455.9" cy="505.2" r="2.7" fill="#9c8e6e" stroke="#72664a" stroke-width="1.0"/>
<circle cx="463.6" cy="504.4" r="2.7" fill="#9c8e6e" stroke="#72664a" stroke-width="1.0"/>
<circle cx="473.6" cy="502.8" r="2.7" fill="#9c8e6e" stroke="#72664a" stroke-width="1.0"/>
<circle cx="450.5" cy="508.2" r="2.7" fill="#9c8e6e" stroke="#72664a" stroke-width="1.0"/>
<circle cx="488.2" cy="508.2" r="2.7" fill="#9c8e6e" stroke="#72664a" stroke-width="1.0"/>
<circle cx="501.3" cy="509.8" r="2.7" fill="#9c8e6e" stroke="#72664a" stroke-width="1.0"/>
<circle cx="505.9" cy="507.5" r="2.7" fill="#9c8e6e" stroke="#72664a" stroke-width="1.0"/>
<circle cx="436.7" cy="510.5" r="2.7" fill="#9c8e6e" stroke="#72664a" stroke-width="1.0"/>
<circle cx="430.5" cy="513.6" r="2.7" fill="#9c8e6e" stroke="#72664a" stroke-width="1.0"/>
<circle cx="445.2" cy="515.2" r="2.7" fill="#9c8e6e" stroke="#72664a" stroke-width="1.0"/>
<circle cx="456.7" cy="512.8" r="2.7" fill="#9c8e6e" stroke="#72664a" stroke-width="1.0"/>
<circle cx="462.1" cy="512.1" r="2.7" fill="#9c8e6e" stroke="#72664a" stroke-width="1.0"/>
<circle cx="475.2" cy="512.8" r="2.7" fill="#9c8e6e" stroke="#72664a" stroke-width="1.0"/>
<circle cx="493.6" cy="515.2" r="2.7" fill="#9c8e6e" stroke="#72664a" stroke-width="1.0"/>
<circle cx="482.8" cy="517.5" r="2.7" fill="#9c8e6e" stroke="#72664a" stroke-width="1.0"/>
<circle cx="433.6" cy="519.8" r="2.7" fill="#9c8e6e" stroke="#72664a" stroke-width="1.0"/>
<circle cx="497.5" cy="525.2" r="2.7" fill="#9c8e6e" stroke="#72664a" stroke-width="1.0"/>
<circle cx="442.8" cy="525.2" r="2.7" fill="#9c8e6e" stroke="#72664a" stroke-width="1.0"/>
<circle cx="448.2" cy="526.7" r="2.7" fill="#9c8e6e" stroke="#72664a" stroke-width="1.0"/>
<circle cx="435.2" cy="529" r="2.7" fill="#9c8e6e" stroke="#72664a" stroke-width="1.0"/>
<circle cx="486.7" cy="532.1" r="2.7" fill="#9c8e6e" stroke="#72664a" stroke-width="1.0"/>
<circle cx="492.8" cy="532.1" r="2.7" fill="#9c8e6e" stroke="#72664a" stroke-width="1.0"/>
<circle cx="504.4" cy="529.8" r="2.7" fill="#9c8e6e" stroke="#72664a" stroke-width="1.0"/>
<circle cx="445.9" cy="538.2" r="2.7" fill="#9c8e6e" stroke="#72664a" stroke-width="1.0"/>
<circle cx="433.6" cy="536.7" r="2.7" fill="#9c8e6e" stroke="#72664a" stroke-width="1.0"/>
<circle cx="459" cy="542.1" r="2.7" fill="#9c8e6e" stroke="#72664a" stroke-width="1.0"/>
<circle cx="469" cy="541.3" r="2.7" fill="#9c8e6e" stroke="#72664a" stroke-width="1.0"/>
<circle cx="479.8" cy="540.5" r="2.7" fill="#9c8e6e" stroke="#72664a" stroke-width="1.0"/>
<circle cx="487.5" cy="539.8" r="2.7" fill="#9c8e6e" stroke="#72664a" stroke-width="1.0"/>
<circle cx="499.8" cy="539.8" r="2.7" fill="#9c8e6e" stroke="#72664a" stroke-width="1.0"/>
<circle cx="438.2" cy="543.6" r="2.7" fill="#9c8e6e" stroke="#72664a" stroke-width="1.0"/>
<circle cx="505.9" cy="543.6" r="2.7" fill="#9c8e6e" stroke="#72664a" stroke-width="1.0"/>
<circle cx="452" cy="545" r="2.7" fill="#9c8e6e" stroke="#72664a" stroke-width="1.0"/>
<circle cx="444" cy="482" r="2.7" fill="#9c8e6e" stroke="#72664a" stroke-width="1.0"/>
<circle cx="479" cy="483" r="2.7" fill="#9c8e6e" stroke="#72664a" stroke-width="1.0"/>
<circle cx="467" cy="483" r="2.7" fill="#9c8e6e" stroke="#72664a" stroke-width="1.0"/>
<circle cx="501" cy="519" r="2.7" fill="#9c8e6e" stroke="#72664a" stroke-width="1.0"/>
<circle cx="463" cy="525" r="2.7" fill="#9c8e6e" stroke="#72664a" stroke-width="1.0"/>
<circle cx="470" cy="533" r="2.7" fill="#9c8e6e" stroke="#72664a" stroke-width="1.0"/>
<circle cx="466.7" cy="490.5" r="2.8" fill="#9a8a6c" stroke="#5a4e38" stroke-width="1.0"/>
<circle cx="478.2" cy="497.5" r="2.8" fill="#9a8a6c" stroke="#5a4e38" stroke-width="1.0"/>
<circle cx="494.4" cy="502.1" r="2.8" fill="#9a8a6c" stroke="#5a4e38" stroke-width="1.0"/>
<circle cx="487.5" cy="514.4" r="2.8" fill="#9a8a6c" stroke="#5a4e38" stroke-width="1.0"/>
<circle cx="499" cy="532.8" r="2.8" fill="#9a8a6c" stroke="#5a4e38" stroke-width="1.0"/>
<ellipse cx="477.9" cy="519.3" rx="2.9" ry="3.1" fill="#a08070" stroke="#1e1812" stroke-width="1.1"/>
<ellipse cx="478.5" cy="529" rx="2.9" ry="3.1" fill="#a08070" stroke="#1e1812" stroke-width="1.1"/>
</svg>
<rect x="491.20" y="541.60" width="11.10" height="1.80" fill="#ffffff" />
<g transform="translate(464.4,515.9) rotate(21.6)"><path d="M0,-0.5 L5.6,-0.5 L5.6,-2.3 L9.2,0 L5.6,2.3 L5.6,0.5 L0,0.5 Z" fill="#e8201c"/></g>
<g transform="translate(464.4,526.7) rotate(15.0)"><path d="M0,-0.5 L5.3,-0.5 L5.3,-2.3 L8.9,0 L5.3,2.3 L5.3,0.5 L0,0.5 Z" fill="#e8201c"/></g>
</svg>
</body></html>
